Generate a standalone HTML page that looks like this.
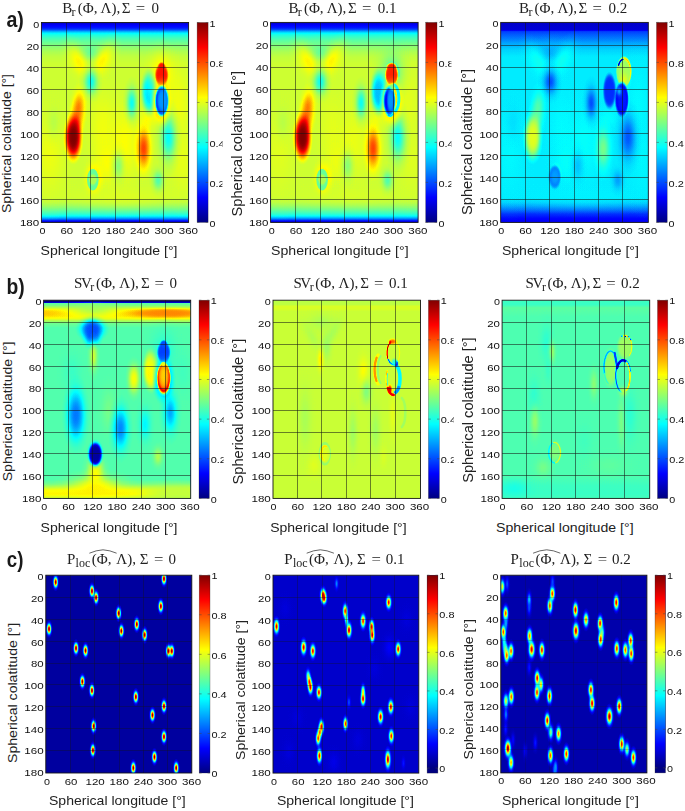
<!DOCTYPE html>
<html><head><meta charset="utf-8"><title>Figure</title>
<style>html,body{margin:0;padding:0;background:#fff}svg{display:block}text{font-family:"Liberation Sans",sans-serif;fill:#1a1a1a}.s{font-family:"Liberation Serif",serif;fill:#222}.k{font-size:9.2px;fill:#111}.l{font-size:13.3px;fill:#222}.g{stroke:#151515;stroke-width:0.55;fill:none}</style></head><body>
<svg width="685" height="811" viewBox="0 0 685 811">
<defs>
<filter id="jet" color-interpolation-filters="sRGB" x="0" y="0" width="1" height="1"><feGaussianBlur stdDeviation="0.8 0.3"/><feComponentTransfer><feFuncR type="table" tableValues="0 0 0 0 0.5 1 1 1 0.5"/><feFuncG type="table" tableValues="0 0 0.5 1 1 1 0.5 0 0"/><feFuncB type="table" tableValues="0.5 1 1 1 0.5 0 0 0 0"/></feComponentTransfer></filter>
<linearGradient id="cb" x1="0" y1="1" x2="0" y2="0"><stop offset="0" stop-color="rgb(0,0,128)"/><stop offset="0.125" stop-color="rgb(0,0,255)"/><stop offset="0.375" stop-color="rgb(0,255,255)"/><stop offset="0.625" stop-color="rgb(255,255,0)"/><stop offset="0.875" stop-color="rgb(255,0,0)"/><stop offset="1" stop-color="rgb(128,0,0)"/></linearGradient>
<filter id="soft" x="-0.1" y="-0.1" width="1.2" height="1.2"><feGaussianBlur stdDeviation="0.35"/></filter>
<linearGradient id="a1bg" x1="0" y1="0" x2="0" y2="1"><stop offset="0" stop-color="#121212"/><stop offset="0.0139" stop-color="#1f1f1f"/><stop offset="0.0278" stop-color="#262626"/><stop offset="0.0361" stop-color="#333333"/><stop offset="0.0444" stop-color="#4a4a4a"/><stop offset="0.0528" stop-color="#5c5c5c"/><stop offset="0.0611" stop-color="#666666"/><stop offset="0.075" stop-color="#6f6f6f"/><stop offset="0.0944" stop-color="#787878"/><stop offset="0.1167" stop-color="#818181"/><stop offset="0.1444" stop-color="#8a8a8a"/><stop offset="0.1722" stop-color="#909090"/><stop offset="0.2056" stop-color="#939393"/><stop offset="0.8722" stop-color="#939393"/><stop offset="0.9" stop-color="#8e8e8e"/><stop offset="0.9167" stop-color="#868686"/><stop offset="0.9333" stop-color="#7c7c7c"/><stop offset="0.95" stop-color="#717171"/><stop offset="0.9639" stop-color="#666666"/><stop offset="0.9739" stop-color="#545454"/><stop offset="0.9822" stop-color="#404040"/><stop offset="0.9889" stop-color="#2b2b2b"/><stop offset="0.9956" stop-color="#1a1a1a"/><stop offset="1" stop-color="#121212"/></linearGradient><radialGradient id="g1"><stop offset="0" stop-color="#9b9b9b" stop-opacity="1"/><stop offset="0.1" stop-color="#9b9b9b" stop-opacity="0.959"/><stop offset="0.2" stop-color="#9b9b9b" stop-opacity="0.845"/><stop offset="0.3" stop-color="#9b9b9b" stop-opacity="0.685"/><stop offset="0.4" stop-color="#9b9b9b" stop-opacity="0.511"/><stop offset="0.5" stop-color="#9b9b9b" stop-opacity="0.35"/><stop offset="0.6" stop-color="#9b9b9b" stop-opacity="0.22"/><stop offset="0.7" stop-color="#9b9b9b" stop-opacity="0.128"/><stop offset="0.8" stop-color="#9b9b9b" stop-opacity="0.068"/><stop offset="0.9" stop-color="#9b9b9b" stop-opacity="0.033"/><stop offset="1" stop-color="#9b9b9b" stop-opacity="0"/></radialGradient><radialGradient id="g2"><stop offset="0" stop-color="#9f9f9f" stop-opacity="1"/><stop offset="0.1" stop-color="#9f9f9f" stop-opacity="0.959"/><stop offset="0.2" stop-color="#9f9f9f" stop-opacity="0.845"/><stop offset="0.3" stop-color="#9f9f9f" stop-opacity="0.685"/><stop offset="0.4" stop-color="#9f9f9f" stop-opacity="0.511"/><stop offset="0.5" stop-color="#9f9f9f" stop-opacity="0.35"/><stop offset="0.6" stop-color="#9f9f9f" stop-opacity="0.22"/><stop offset="0.7" stop-color="#9f9f9f" stop-opacity="0.128"/><stop offset="0.8" stop-color="#9f9f9f" stop-opacity="0.068"/><stop offset="0.9" stop-color="#9f9f9f" stop-opacity="0.033"/><stop offset="1" stop-color="#9f9f9f" stop-opacity="0"/></radialGradient><radialGradient id="g3"><stop offset="0" stop-color="#9e9e9e" stop-opacity="0.8"/><stop offset="0.1" stop-color="#9e9e9e" stop-opacity="0.767"/><stop offset="0.2" stop-color="#9e9e9e" stop-opacity="0.676"/><stop offset="0.3" stop-color="#9e9e9e" stop-opacity="0.548"/><stop offset="0.4" stop-color="#9e9e9e" stop-opacity="0.409"/><stop offset="0.5" stop-color="#9e9e9e" stop-opacity="0.28"/><stop offset="0.6" stop-color="#9e9e9e" stop-opacity="0.176"/><stop offset="0.7" stop-color="#9e9e9e" stop-opacity="0.102"/><stop offset="0.8" stop-color="#9e9e9e" stop-opacity="0.054"/><stop offset="0.9" stop-color="#9e9e9e" stop-opacity="0.027"/><stop offset="1" stop-color="#9e9e9e" stop-opacity="0"/></radialGradient><radialGradient id="g4"><stop offset="0" stop-color="#a1a1a1" stop-opacity="0.8"/><stop offset="0.1" stop-color="#a1a1a1" stop-opacity="0.767"/><stop offset="0.2" stop-color="#a1a1a1" stop-opacity="0.676"/><stop offset="0.3" stop-color="#a1a1a1" stop-opacity="0.548"/><stop offset="0.4" stop-color="#a1a1a1" stop-opacity="0.409"/><stop offset="0.5" stop-color="#a1a1a1" stop-opacity="0.28"/><stop offset="0.6" stop-color="#a1a1a1" stop-opacity="0.176"/><stop offset="0.7" stop-color="#a1a1a1" stop-opacity="0.102"/><stop offset="0.8" stop-color="#a1a1a1" stop-opacity="0.054"/><stop offset="0.9" stop-color="#a1a1a1" stop-opacity="0.027"/><stop offset="1" stop-color="#a1a1a1" stop-opacity="0"/></radialGradient><radialGradient id="g5"><stop offset="0" stop-color="#9c9c9c" stop-opacity="0.7"/><stop offset="0.1" stop-color="#9c9c9c" stop-opacity="0.671"/><stop offset="0.2" stop-color="#9c9c9c" stop-opacity="0.592"/><stop offset="0.3" stop-color="#9c9c9c" stop-opacity="0.48"/><stop offset="0.4" stop-color="#9c9c9c" stop-opacity="0.357"/><stop offset="0.5" stop-color="#9c9c9c" stop-opacity="0.245"/><stop offset="0.6" stop-color="#9c9c9c" stop-opacity="0.154"/><stop offset="0.7" stop-color="#9c9c9c" stop-opacity="0.089"/><stop offset="0.8" stop-color="#9c9c9c" stop-opacity="0.048"/><stop offset="0.9" stop-color="#9c9c9c" stop-opacity="0.023"/><stop offset="1" stop-color="#9c9c9c" stop-opacity="0"/></radialGradient><radialGradient id="g6"><stop offset="0" stop-color="#999999" stop-opacity="0.6"/><stop offset="0.1" stop-color="#999999" stop-opacity="0.575"/><stop offset="0.2" stop-color="#999999" stop-opacity="0.507"/><stop offset="0.3" stop-color="#999999" stop-opacity="0.411"/><stop offset="0.4" stop-color="#999999" stop-opacity="0.306"/><stop offset="0.5" stop-color="#999999" stop-opacity="0.21"/><stop offset="0.6" stop-color="#999999" stop-opacity="0.132"/><stop offset="0.7" stop-color="#999999" stop-opacity="0.077"/><stop offset="0.8" stop-color="#999999" stop-opacity="0.041"/><stop offset="0.9" stop-color="#999999" stop-opacity="0.02"/><stop offset="1" stop-color="#999999" stop-opacity="0"/></radialGradient><radialGradient id="g7"><stop offset="0" stop-color="#8e8e8e" stop-opacity="1"/><stop offset="0.1" stop-color="#8e8e8e" stop-opacity="0.959"/><stop offset="0.2" stop-color="#8e8e8e" stop-opacity="0.845"/><stop offset="0.3" stop-color="#8e8e8e" stop-opacity="0.685"/><stop offset="0.4" stop-color="#8e8e8e" stop-opacity="0.511"/><stop offset="0.5" stop-color="#8e8e8e" stop-opacity="0.35"/><stop offset="0.6" stop-color="#8e8e8e" stop-opacity="0.22"/><stop offset="0.7" stop-color="#8e8e8e" stop-opacity="0.128"/><stop offset="0.8" stop-color="#8e8e8e" stop-opacity="0.068"/><stop offset="0.9" stop-color="#8e8e8e" stop-opacity="0.033"/><stop offset="1" stop-color="#8e8e8e" stop-opacity="0"/></radialGradient><radialGradient id="g8"><stop offset="0" stop-color="#828282" stop-opacity="1"/><stop offset="0.1" stop-color="#828282" stop-opacity="0.959"/><stop offset="0.2" stop-color="#828282" stop-opacity="0.845"/><stop offset="0.3" stop-color="#828282" stop-opacity="0.685"/><stop offset="0.4" stop-color="#828282" stop-opacity="0.511"/><stop offset="0.5" stop-color="#828282" stop-opacity="0.35"/><stop offset="0.6" stop-color="#828282" stop-opacity="0.22"/><stop offset="0.7" stop-color="#828282" stop-opacity="0.128"/><stop offset="0.8" stop-color="#828282" stop-opacity="0.068"/><stop offset="0.9" stop-color="#828282" stop-opacity="0.033"/><stop offset="1" stop-color="#828282" stop-opacity="0"/></radialGradient><radialGradient id="g9"><stop offset="0" stop-color="#787878" stop-opacity="1"/><stop offset="0.1" stop-color="#787878" stop-opacity="0.959"/><stop offset="0.2" stop-color="#787878" stop-opacity="0.845"/><stop offset="0.3" stop-color="#787878" stop-opacity="0.685"/><stop offset="0.4" stop-color="#787878" stop-opacity="0.511"/><stop offset="0.5" stop-color="#787878" stop-opacity="0.35"/><stop offset="0.6" stop-color="#787878" stop-opacity="0.22"/><stop offset="0.7" stop-color="#787878" stop-opacity="0.128"/><stop offset="0.8" stop-color="#787878" stop-opacity="0.068"/><stop offset="0.9" stop-color="#787878" stop-opacity="0.033"/><stop offset="1" stop-color="#787878" stop-opacity="0"/></radialGradient><radialGradient id="g10"><stop offset="0" stop-color="#a2a2a2" stop-opacity="1"/><stop offset="0.1" stop-color="#a2a2a2" stop-opacity="0.959"/><stop offset="0.2" stop-color="#a2a2a2" stop-opacity="0.845"/><stop offset="0.3" stop-color="#a2a2a2" stop-opacity="0.685"/><stop offset="0.4" stop-color="#a2a2a2" stop-opacity="0.511"/><stop offset="0.5" stop-color="#a2a2a2" stop-opacity="0.35"/><stop offset="0.6" stop-color="#a2a2a2" stop-opacity="0.22"/><stop offset="0.7" stop-color="#a2a2a2" stop-opacity="0.128"/><stop offset="0.8" stop-color="#a2a2a2" stop-opacity="0.068"/><stop offset="0.9" stop-color="#a2a2a2" stop-opacity="0.033"/><stop offset="1" stop-color="#a2a2a2" stop-opacity="0"/></radialGradient><radialGradient id="g11"><stop offset="0" stop-color="#626262" stop-opacity="1"/><stop offset="0.1" stop-color="#626262" stop-opacity="0.959"/><stop offset="0.2" stop-color="#626262" stop-opacity="0.845"/><stop offset="0.3" stop-color="#626262" stop-opacity="0.685"/><stop offset="0.4" stop-color="#626262" stop-opacity="0.511"/><stop offset="0.5" stop-color="#626262" stop-opacity="0.35"/><stop offset="0.6" stop-color="#626262" stop-opacity="0.22"/><stop offset="0.7" stop-color="#626262" stop-opacity="0.128"/><stop offset="0.8" stop-color="#626262" stop-opacity="0.068"/><stop offset="0.9" stop-color="#626262" stop-opacity="0.033"/><stop offset="1" stop-color="#626262" stop-opacity="0"/></radialGradient><radialGradient id="g12"><stop offset="0" stop-color="#585858" stop-opacity="1"/><stop offset="0.1" stop-color="#585858" stop-opacity="1"/><stop offset="0.2" stop-color="#585858" stop-opacity="0.997"/><stop offset="0.3" stop-color="#585858" stop-opacity="0.982"/><stop offset="0.4" stop-color="#585858" stop-opacity="0.934"/><stop offset="0.5" stop-color="#585858" stop-opacity="0.831"/><stop offset="0.6" stop-color="#585858" stop-opacity="0.656"/><stop offset="0.7" stop-color="#585858" stop-opacity="0.43"/><stop offset="0.8" stop-color="#585858" stop-opacity="0.215"/><stop offset="0.9" stop-color="#585858" stop-opacity="0.073"/><stop offset="1" stop-color="#585858" stop-opacity="0"/></radialGradient><radialGradient id="g13"><stop offset="0" stop-color="#606060" stop-opacity="1"/><stop offset="0.1" stop-color="#606060" stop-opacity="0.959"/><stop offset="0.2" stop-color="#606060" stop-opacity="0.845"/><stop offset="0.3" stop-color="#606060" stop-opacity="0.685"/><stop offset="0.4" stop-color="#606060" stop-opacity="0.511"/><stop offset="0.5" stop-color="#606060" stop-opacity="0.35"/><stop offset="0.6" stop-color="#606060" stop-opacity="0.22"/><stop offset="0.7" stop-color="#606060" stop-opacity="0.128"/><stop offset="0.8" stop-color="#606060" stop-opacity="0.068"/><stop offset="0.9" stop-color="#606060" stop-opacity="0.033"/><stop offset="1" stop-color="#606060" stop-opacity="0"/></radialGradient><radialGradient id="g14"><stop offset="0" stop-color="#737373" stop-opacity="1"/><stop offset="0.1" stop-color="#737373" stop-opacity="0.959"/><stop offset="0.2" stop-color="#737373" stop-opacity="0.845"/><stop offset="0.3" stop-color="#737373" stop-opacity="0.685"/><stop offset="0.4" stop-color="#737373" stop-opacity="0.511"/><stop offset="0.5" stop-color="#737373" stop-opacity="0.35"/><stop offset="0.6" stop-color="#737373" stop-opacity="0.22"/><stop offset="0.7" stop-color="#737373" stop-opacity="0.128"/><stop offset="0.8" stop-color="#737373" stop-opacity="0.068"/><stop offset="0.9" stop-color="#737373" stop-opacity="0.033"/><stop offset="1" stop-color="#737373" stop-opacity="0"/></radialGradient><radialGradient id="g15"><stop offset="0" stop-color="#bdbdbd" stop-opacity="1"/><stop offset="0.1" stop-color="#bdbdbd" stop-opacity="0.959"/><stop offset="0.2" stop-color="#bdbdbd" stop-opacity="0.845"/><stop offset="0.3" stop-color="#bdbdbd" stop-opacity="0.685"/><stop offset="0.4" stop-color="#bdbdbd" stop-opacity="0.511"/><stop offset="0.5" stop-color="#bdbdbd" stop-opacity="0.35"/><stop offset="0.6" stop-color="#bdbdbd" stop-opacity="0.22"/><stop offset="0.7" stop-color="#bdbdbd" stop-opacity="0.128"/><stop offset="0.8" stop-color="#bdbdbd" stop-opacity="0.068"/><stop offset="0.9" stop-color="#bdbdbd" stop-opacity="0.033"/><stop offset="1" stop-color="#bdbdbd" stop-opacity="0"/></radialGradient><radialGradient id="g16"><stop offset="0" stop-color="#c9c9c9" stop-opacity="1"/><stop offset="0.1" stop-color="#c9c9c9" stop-opacity="0.959"/><stop offset="0.2" stop-color="#c9c9c9" stop-opacity="0.845"/><stop offset="0.3" stop-color="#c9c9c9" stop-opacity="0.685"/><stop offset="0.4" stop-color="#c9c9c9" stop-opacity="0.511"/><stop offset="0.5" stop-color="#c9c9c9" stop-opacity="0.35"/><stop offset="0.6" stop-color="#c9c9c9" stop-opacity="0.22"/><stop offset="0.7" stop-color="#c9c9c9" stop-opacity="0.128"/><stop offset="0.8" stop-color="#c9c9c9" stop-opacity="0.068"/><stop offset="0.9" stop-color="#c9c9c9" stop-opacity="0.033"/><stop offset="1" stop-color="#c9c9c9" stop-opacity="0"/></radialGradient><radialGradient id="g17"><stop offset="0" stop-color="#ffffff" stop-opacity="1"/><stop offset="0.1" stop-color="#ffffff" stop-opacity="1"/><stop offset="0.2" stop-color="#ffffff" stop-opacity="0.993"/><stop offset="0.3" stop-color="#ffffff" stop-opacity="0.967"/><stop offset="0.4" stop-color="#ffffff" stop-opacity="0.898"/><stop offset="0.5" stop-color="#ffffff" stop-opacity="0.769"/><stop offset="0.6" stop-color="#ffffff" stop-opacity="0.58"/><stop offset="0.7" stop-color="#ffffff" stop-opacity="0.365"/><stop offset="0.8" stop-color="#ffffff" stop-opacity="0.179"/><stop offset="0.9" stop-color="#ffffff" stop-opacity="0.064"/><stop offset="1" stop-color="#ffffff" stop-opacity="0"/></radialGradient><radialGradient id="g18"><stop offset="0" stop-color="#cfcfcf" stop-opacity="1"/><stop offset="0.1" stop-color="#cfcfcf" stop-opacity="0.974"/><stop offset="0.2" stop-color="#cfcfcf" stop-opacity="0.885"/><stop offset="0.3" stop-color="#cfcfcf" stop-opacity="0.743"/><stop offset="0.4" stop-color="#cfcfcf" stop-opacity="0.572"/><stop offset="0.5" stop-color="#cfcfcf" stop-opacity="0.401"/><stop offset="0.6" stop-color="#cfcfcf" stop-opacity="0.255"/><stop offset="0.7" stop-color="#cfcfcf" stop-opacity="0.147"/><stop offset="0.8" stop-color="#cfcfcf" stop-opacity="0.076"/><stop offset="0.9" stop-color="#cfcfcf" stop-opacity="0.036"/><stop offset="1" stop-color="#cfcfcf" stop-opacity="0"/></radialGradient><radialGradient id="g19"><stop offset="0" stop-color="#a8a8a8" stop-opacity="0.9"/><stop offset="0.1" stop-color="#a8a8a8" stop-opacity="0.863"/><stop offset="0.2" stop-color="#a8a8a8" stop-opacity="0.761"/><stop offset="0.3" stop-color="#a8a8a8" stop-opacity="0.617"/><stop offset="0.4" stop-color="#a8a8a8" stop-opacity="0.46"/><stop offset="0.5" stop-color="#a8a8a8" stop-opacity="0.315"/><stop offset="0.6" stop-color="#a8a8a8" stop-opacity="0.198"/><stop offset="0.7" stop-color="#a8a8a8" stop-opacity="0.115"/><stop offset="0.8" stop-color="#a8a8a8" stop-opacity="0.061"/><stop offset="0.9" stop-color="#a8a8a8" stop-opacity="0.03"/><stop offset="1" stop-color="#a8a8a8" stop-opacity="0"/></radialGradient><radialGradient id="g20"><stop offset="0" stop-color="#dbdbdb" stop-opacity="1"/><stop offset="0.1" stop-color="#dbdbdb" stop-opacity="1"/><stop offset="0.2" stop-color="#dbdbdb" stop-opacity="1"/><stop offset="0.3" stop-color="#dbdbdb" stop-opacity="1"/><stop offset="0.4" stop-color="#dbdbdb" stop-opacity="1"/><stop offset="0.5" stop-color="#dbdbdb" stop-opacity="0.996"/><stop offset="0.6" stop-color="#dbdbdb" stop-opacity="0.975"/><stop offset="0.7" stop-color="#dbdbdb" stop-opacity="0.888"/><stop offset="0.8" stop-color="#dbdbdb" stop-opacity="0.637"/><stop offset="0.9" stop-color="#dbdbdb" stop-opacity="0.231"/><stop offset="1" stop-color="#dbdbdb" stop-opacity="0"/></radialGradient><radialGradient id="g21"><stop offset="0" stop-color="#dbdbdb" stop-opacity="1"/><stop offset="0.1" stop-color="#dbdbdb" stop-opacity="1"/><stop offset="0.2" stop-color="#dbdbdb" stop-opacity="1"/><stop offset="0.3" stop-color="#dbdbdb" stop-opacity="0.997"/><stop offset="0.4" stop-color="#dbdbdb" stop-opacity="0.983"/><stop offset="0.5" stop-color="#dbdbdb" stop-opacity="0.936"/><stop offset="0.6" stop-color="#dbdbdb" stop-opacity="0.822"/><stop offset="0.7" stop-color="#dbdbdb" stop-opacity="0.61"/><stop offset="0.8" stop-color="#dbdbdb" stop-opacity="0.333"/><stop offset="0.9" stop-color="#dbdbdb" stop-opacity="0.107"/><stop offset="1" stop-color="#dbdbdb" stop-opacity="0"/></radialGradient><radialGradient id="g22"><stop offset="0" stop-color="#ababab" stop-opacity="0.9"/><stop offset="0.1" stop-color="#ababab" stop-opacity="0.9"/><stop offset="0.2" stop-color="#ababab" stop-opacity="0.899"/><stop offset="0.3" stop-color="#ababab" stop-opacity="0.891"/><stop offset="0.4" stop-color="#ababab" stop-opacity="0.862"/><stop offset="0.5" stop-color="#ababab" stop-opacity="0.789"/><stop offset="0.6" stop-color="#ababab" stop-opacity="0.649"/><stop offset="0.7" stop-color="#ababab" stop-opacity="0.444"/><stop offset="0.8" stop-color="#ababab" stop-opacity="0.227"/><stop offset="0.9" stop-color="#ababab" stop-opacity="0.075"/><stop offset="1" stop-color="#ababab" stop-opacity="0"/></radialGradient><radialGradient id="g23"><stop offset="0" stop-color="#1f1f1f" stop-opacity="1"/><stop offset="0.1" stop-color="#1f1f1f" stop-opacity="1"/><stop offset="0.2" stop-color="#1f1f1f" stop-opacity="1"/><stop offset="0.3" stop-color="#1f1f1f" stop-opacity="1"/><stop offset="0.4" stop-color="#1f1f1f" stop-opacity="1"/><stop offset="0.5" stop-color="#1f1f1f" stop-opacity="0.999"/><stop offset="0.6" stop-color="#1f1f1f" stop-opacity="0.991"/><stop offset="0.7" stop-color="#1f1f1f" stop-opacity="0.944"/><stop offset="0.8" stop-color="#1f1f1f" stop-opacity="0.749"/><stop offset="0.9" stop-color="#1f1f1f" stop-opacity="0.305"/><stop offset="1" stop-color="#1f1f1f" stop-opacity="0"/></radialGradient><radialGradient id="g24"><stop offset="0" stop-color="#454545" stop-opacity="1"/><stop offset="0.1" stop-color="#454545" stop-opacity="1"/><stop offset="0.2" stop-color="#454545" stop-opacity="1"/><stop offset="0.3" stop-color="#454545" stop-opacity="0.997"/><stop offset="0.4" stop-color="#454545" stop-opacity="0.983"/><stop offset="0.5" stop-color="#454545" stop-opacity="0.936"/><stop offset="0.6" stop-color="#454545" stop-opacity="0.822"/><stop offset="0.7" stop-color="#454545" stop-opacity="0.61"/><stop offset="0.8" stop-color="#454545" stop-opacity="0.333"/><stop offset="0.9" stop-color="#454545" stop-opacity="0.107"/><stop offset="1" stop-color="#454545" stop-opacity="0"/></radialGradient><radialGradient id="g25"><stop offset="0" stop-color="#a6a6a6" stop-opacity="0.9"/><stop offset="0.1" stop-color="#a6a6a6" stop-opacity="0.899"/><stop offset="0.2" stop-color="#a6a6a6" stop-opacity="0.887"/><stop offset="0.3" stop-color="#a6a6a6" stop-opacity="0.846"/><stop offset="0.4" stop-color="#a6a6a6" stop-opacity="0.759"/><stop offset="0.5" stop-color="#a6a6a6" stop-opacity="0.621"/><stop offset="0.6" stop-color="#a6a6a6" stop-opacity="0.446"/><stop offset="0.7" stop-color="#a6a6a6" stop-opacity="0.27"/><stop offset="0.8" stop-color="#a6a6a6" stop-opacity="0.132"/><stop offset="0.9" stop-color="#a6a6a6" stop-opacity="0.049"/><stop offset="1" stop-color="#a6a6a6" stop-opacity="0"/></radialGradient>
<linearGradient id="a2bg" x1="0" y1="0" x2="0" y2="1"><stop offset="0" stop-color="#121212"/><stop offset="0.0139" stop-color="#1f1f1f"/><stop offset="0.0278" stop-color="#262626"/><stop offset="0.0361" stop-color="#333333"/><stop offset="0.0444" stop-color="#4a4a4a"/><stop offset="0.0528" stop-color="#5c5c5c"/><stop offset="0.0611" stop-color="#666666"/><stop offset="0.075" stop-color="#6f6f6f"/><stop offset="0.0944" stop-color="#787878"/><stop offset="0.1167" stop-color="#818181"/><stop offset="0.1444" stop-color="#8a8a8a"/><stop offset="0.1722" stop-color="#909090"/><stop offset="0.2056" stop-color="#939393"/><stop offset="0.8722" stop-color="#939393"/><stop offset="0.9" stop-color="#8e8e8e"/><stop offset="0.9167" stop-color="#868686"/><stop offset="0.9333" stop-color="#7c7c7c"/><stop offset="0.95" stop-color="#717171"/><stop offset="0.9639" stop-color="#666666"/><stop offset="0.9739" stop-color="#545454"/><stop offset="0.9822" stop-color="#404040"/><stop offset="0.9889" stop-color="#2b2b2b"/><stop offset="0.9956" stop-color="#1a1a1a"/><stop offset="1" stop-color="#121212"/></linearGradient><radialGradient id="g26"><stop offset="0" stop-color="#9b9b9b" stop-opacity="0.6"/><stop offset="0.1" stop-color="#9b9b9b" stop-opacity="0.575"/><stop offset="0.2" stop-color="#9b9b9b" stop-opacity="0.507"/><stop offset="0.3" stop-color="#9b9b9b" stop-opacity="0.411"/><stop offset="0.4" stop-color="#9b9b9b" stop-opacity="0.306"/><stop offset="0.5" stop-color="#9b9b9b" stop-opacity="0.21"/><stop offset="0.6" stop-color="#9b9b9b" stop-opacity="0.132"/><stop offset="0.7" stop-color="#9b9b9b" stop-opacity="0.077"/><stop offset="0.8" stop-color="#9b9b9b" stop-opacity="0.041"/><stop offset="0.9" stop-color="#9b9b9b" stop-opacity="0.02"/><stop offset="1" stop-color="#9b9b9b" stop-opacity="0"/></radialGradient><radialGradient id="g27"><stop offset="0" stop-color="#9f9f9f" stop-opacity="0.6"/><stop offset="0.1" stop-color="#9f9f9f" stop-opacity="0.575"/><stop offset="0.2" stop-color="#9f9f9f" stop-opacity="0.507"/><stop offset="0.3" stop-color="#9f9f9f" stop-opacity="0.411"/><stop offset="0.4" stop-color="#9f9f9f" stop-opacity="0.306"/><stop offset="0.5" stop-color="#9f9f9f" stop-opacity="0.21"/><stop offset="0.6" stop-color="#9f9f9f" stop-opacity="0.132"/><stop offset="0.7" stop-color="#9f9f9f" stop-opacity="0.077"/><stop offset="0.8" stop-color="#9f9f9f" stop-opacity="0.041"/><stop offset="0.9" stop-color="#9f9f9f" stop-opacity="0.02"/><stop offset="1" stop-color="#9f9f9f" stop-opacity="0"/></radialGradient><radialGradient id="g28"><stop offset="0" stop-color="#9e9e9e" stop-opacity="0.48"/><stop offset="0.1" stop-color="#9e9e9e" stop-opacity="0.46"/><stop offset="0.2" stop-color="#9e9e9e" stop-opacity="0.406"/><stop offset="0.3" stop-color="#9e9e9e" stop-opacity="0.329"/><stop offset="0.4" stop-color="#9e9e9e" stop-opacity="0.245"/><stop offset="0.5" stop-color="#9e9e9e" stop-opacity="0.168"/><stop offset="0.6" stop-color="#9e9e9e" stop-opacity="0.106"/><stop offset="0.7" stop-color="#9e9e9e" stop-opacity="0.061"/><stop offset="0.8" stop-color="#9e9e9e" stop-opacity="0.033"/><stop offset="0.9" stop-color="#9e9e9e" stop-opacity="0.016"/><stop offset="1" stop-color="#9e9e9e" stop-opacity="0"/></radialGradient><radialGradient id="g29"><stop offset="0" stop-color="#a1a1a1" stop-opacity="0.48"/><stop offset="0.1" stop-color="#a1a1a1" stop-opacity="0.46"/><stop offset="0.2" stop-color="#a1a1a1" stop-opacity="0.406"/><stop offset="0.3" stop-color="#a1a1a1" stop-opacity="0.329"/><stop offset="0.4" stop-color="#a1a1a1" stop-opacity="0.245"/><stop offset="0.5" stop-color="#a1a1a1" stop-opacity="0.168"/><stop offset="0.6" stop-color="#a1a1a1" stop-opacity="0.106"/><stop offset="0.7" stop-color="#a1a1a1" stop-opacity="0.061"/><stop offset="0.8" stop-color="#a1a1a1" stop-opacity="0.033"/><stop offset="0.9" stop-color="#a1a1a1" stop-opacity="0.016"/><stop offset="1" stop-color="#a1a1a1" stop-opacity="0"/></radialGradient><radialGradient id="g30"><stop offset="0" stop-color="#9c9c9c" stop-opacity="0.42"/><stop offset="0.1" stop-color="#9c9c9c" stop-opacity="0.403"/><stop offset="0.2" stop-color="#9c9c9c" stop-opacity="0.355"/><stop offset="0.3" stop-color="#9c9c9c" stop-opacity="0.288"/><stop offset="0.4" stop-color="#9c9c9c" stop-opacity="0.214"/><stop offset="0.5" stop-color="#9c9c9c" stop-opacity="0.147"/><stop offset="0.6" stop-color="#9c9c9c" stop-opacity="0.093"/><stop offset="0.7" stop-color="#9c9c9c" stop-opacity="0.054"/><stop offset="0.8" stop-color="#9c9c9c" stop-opacity="0.029"/><stop offset="0.9" stop-color="#9c9c9c" stop-opacity="0.014"/><stop offset="1" stop-color="#9c9c9c" stop-opacity="0"/></radialGradient><radialGradient id="g31"><stop offset="0" stop-color="#999999" stop-opacity="0.36"/><stop offset="0.1" stop-color="#999999" stop-opacity="0.345"/><stop offset="0.2" stop-color="#999999" stop-opacity="0.304"/><stop offset="0.3" stop-color="#999999" stop-opacity="0.247"/><stop offset="0.4" stop-color="#999999" stop-opacity="0.184"/><stop offset="0.5" stop-color="#999999" stop-opacity="0.126"/><stop offset="0.6" stop-color="#999999" stop-opacity="0.079"/><stop offset="0.7" stop-color="#999999" stop-opacity="0.046"/><stop offset="0.8" stop-color="#999999" stop-opacity="0.024"/><stop offset="0.9" stop-color="#999999" stop-opacity="0.012"/><stop offset="1" stop-color="#999999" stop-opacity="0"/></radialGradient><radialGradient id="g32"><stop offset="0" stop-color="#4f4f4f" stop-opacity="1"/><stop offset="0.1" stop-color="#4f4f4f" stop-opacity="1"/><stop offset="0.2" stop-color="#4f4f4f" stop-opacity="0.997"/><stop offset="0.3" stop-color="#4f4f4f" stop-opacity="0.982"/><stop offset="0.4" stop-color="#4f4f4f" stop-opacity="0.934"/><stop offset="0.5" stop-color="#4f4f4f" stop-opacity="0.831"/><stop offset="0.6" stop-color="#4f4f4f" stop-opacity="0.656"/><stop offset="0.7" stop-color="#4f4f4f" stop-opacity="0.43"/><stop offset="0.8" stop-color="#4f4f4f" stop-opacity="0.215"/><stop offset="0.9" stop-color="#4f4f4f" stop-opacity="0.073"/><stop offset="1" stop-color="#4f4f4f" stop-opacity="0"/></radialGradient><radialGradient id="g33"><stop offset="0" stop-color="#6e6e6e" stop-opacity="0.8"/><stop offset="0.1" stop-color="#6e6e6e" stop-opacity="0.767"/><stop offset="0.2" stop-color="#6e6e6e" stop-opacity="0.676"/><stop offset="0.3" stop-color="#6e6e6e" stop-opacity="0.548"/><stop offset="0.4" stop-color="#6e6e6e" stop-opacity="0.409"/><stop offset="0.5" stop-color="#6e6e6e" stop-opacity="0.28"/><stop offset="0.6" stop-color="#6e6e6e" stop-opacity="0.176"/><stop offset="0.7" stop-color="#6e6e6e" stop-opacity="0.102"/><stop offset="0.8" stop-color="#6e6e6e" stop-opacity="0.054"/><stop offset="0.9" stop-color="#6e6e6e" stop-opacity="0.027"/><stop offset="1" stop-color="#6e6e6e" stop-opacity="0"/></radialGradient><radialGradient id="g34"><stop offset="0" stop-color="#d7d7d7" stop-opacity="1"/><stop offset="0.1" stop-color="#d7d7d7" stop-opacity="1"/><stop offset="0.2" stop-color="#d7d7d7" stop-opacity="1"/><stop offset="0.3" stop-color="#d7d7d7" stop-opacity="1"/><stop offset="0.4" stop-color="#d7d7d7" stop-opacity="1"/><stop offset="0.5" stop-color="#d7d7d7" stop-opacity="0.999"/><stop offset="0.6" stop-color="#d7d7d7" stop-opacity="0.991"/><stop offset="0.7" stop-color="#d7d7d7" stop-opacity="0.944"/><stop offset="0.8" stop-color="#d7d7d7" stop-opacity="0.749"/><stop offset="0.9" stop-color="#d7d7d7" stop-opacity="0.305"/><stop offset="1" stop-color="#d7d7d7" stop-opacity="0"/></radialGradient><radialGradient id="g35"><stop offset="0" stop-color="#d7d7d7" stop-opacity="1"/><stop offset="0.1" stop-color="#d7d7d7" stop-opacity="1"/><stop offset="0.2" stop-color="#d7d7d7" stop-opacity="1"/><stop offset="0.3" stop-color="#d7d7d7" stop-opacity="0.997"/><stop offset="0.4" stop-color="#d7d7d7" stop-opacity="0.983"/><stop offset="0.5" stop-color="#d7d7d7" stop-opacity="0.936"/><stop offset="0.6" stop-color="#d7d7d7" stop-opacity="0.822"/><stop offset="0.7" stop-color="#d7d7d7" stop-opacity="0.61"/><stop offset="0.8" stop-color="#d7d7d7" stop-opacity="0.333"/><stop offset="0.9" stop-color="#d7d7d7" stop-opacity="0.107"/><stop offset="1" stop-color="#d7d7d7" stop-opacity="0"/></radialGradient><radialGradient id="g36"><stop offset="0" stop-color="#1f1f1f" stop-opacity="1"/><stop offset="0.1" stop-color="#1f1f1f" stop-opacity="1"/><stop offset="0.2" stop-color="#1f1f1f" stop-opacity="1"/><stop offset="0.3" stop-color="#1f1f1f" stop-opacity="1"/><stop offset="0.4" stop-color="#1f1f1f" stop-opacity="1"/><stop offset="0.5" stop-color="#1f1f1f" stop-opacity="0.996"/><stop offset="0.6" stop-color="#1f1f1f" stop-opacity="0.975"/><stop offset="0.7" stop-color="#1f1f1f" stop-opacity="0.888"/><stop offset="0.8" stop-color="#1f1f1f" stop-opacity="0.637"/><stop offset="0.9" stop-color="#1f1f1f" stop-opacity="0.231"/><stop offset="1" stop-color="#1f1f1f" stop-opacity="0"/></radialGradient><radialGradient id="g37"><stop offset="0" stop-color="#454545" stop-opacity="1"/><stop offset="0.1" stop-color="#454545" stop-opacity="1"/><stop offset="0.2" stop-color="#454545" stop-opacity="0.999"/><stop offset="0.3" stop-color="#454545" stop-opacity="0.99"/><stop offset="0.4" stop-color="#454545" stop-opacity="0.958"/><stop offset="0.5" stop-color="#454545" stop-opacity="0.877"/><stop offset="0.6" stop-color="#454545" stop-opacity="0.721"/><stop offset="0.7" stop-color="#454545" stop-opacity="0.494"/><stop offset="0.8" stop-color="#454545" stop-opacity="0.253"/><stop offset="0.9" stop-color="#454545" stop-opacity="0.084"/><stop offset="1" stop-color="#454545" stop-opacity="0"/></radialGradient><radialGradient id="g38"><stop offset="0" stop-color="#808080" stop-opacity="1"/><stop offset="0.1" stop-color="#808080" stop-opacity="0.996"/><stop offset="0.2" stop-color="#808080" stop-opacity="0.967"/><stop offset="0.3" stop-color="#808080" stop-opacity="0.893"/><stop offset="0.4" stop-color="#808080" stop-opacity="0.764"/><stop offset="0.5" stop-color="#808080" stop-opacity="0.592"/><stop offset="0.6" stop-color="#808080" stop-opacity="0.404"/><stop offset="0.7" stop-color="#808080" stop-opacity="0.237"/><stop offset="0.8" stop-color="#808080" stop-opacity="0.116"/><stop offset="0.9" stop-color="#808080" stop-opacity="0.047"/><stop offset="1" stop-color="#808080" stop-opacity="0"/></radialGradient>
<linearGradient id="a3bg" x1="0" y1="0" x2="0" y2="1"><stop offset="0" stop-color="#121212"/><stop offset="0.0378" stop-color="#161616"/><stop offset="0.0461" stop-color="#303030"/><stop offset="0.0667" stop-color="#393939"/><stop offset="0.0889" stop-color="#424242"/><stop offset="0.1111" stop-color="#4c4c4c"/><stop offset="0.1389" stop-color="#555555"/><stop offset="0.1722" stop-color="#5b5b5b"/><stop offset="0.8778" stop-color="#5b5b5b"/><stop offset="0.9" stop-color="#545454"/><stop offset="0.9167" stop-color="#4a4a4a"/><stop offset="0.9389" stop-color="#3b3b3b"/><stop offset="0.9583" stop-color="#2b2b2b"/><stop offset="0.9806" stop-color="#212121"/><stop offset="1" stop-color="#1c1c1c"/></linearGradient><radialGradient id="g39"><stop offset="0" stop-color="#5f5f5f" stop-opacity="0.8"/><stop offset="0.1" stop-color="#5f5f5f" stop-opacity="0.767"/><stop offset="0.2" stop-color="#5f5f5f" stop-opacity="0.676"/><stop offset="0.3" stop-color="#5f5f5f" stop-opacity="0.548"/><stop offset="0.4" stop-color="#5f5f5f" stop-opacity="0.409"/><stop offset="0.5" stop-color="#5f5f5f" stop-opacity="0.28"/><stop offset="0.6" stop-color="#5f5f5f" stop-opacity="0.176"/><stop offset="0.7" stop-color="#5f5f5f" stop-opacity="0.102"/><stop offset="0.8" stop-color="#5f5f5f" stop-opacity="0.054"/><stop offset="0.9" stop-color="#5f5f5f" stop-opacity="0.027"/><stop offset="1" stop-color="#5f5f5f" stop-opacity="0"/></radialGradient><radialGradient id="g40"><stop offset="0" stop-color="#626262" stop-opacity="0.8"/><stop offset="0.1" stop-color="#626262" stop-opacity="0.767"/><stop offset="0.2" stop-color="#626262" stop-opacity="0.676"/><stop offset="0.3" stop-color="#626262" stop-opacity="0.548"/><stop offset="0.4" stop-color="#626262" stop-opacity="0.409"/><stop offset="0.5" stop-color="#626262" stop-opacity="0.28"/><stop offset="0.6" stop-color="#626262" stop-opacity="0.176"/><stop offset="0.7" stop-color="#626262" stop-opacity="0.102"/><stop offset="0.8" stop-color="#626262" stop-opacity="0.054"/><stop offset="0.9" stop-color="#626262" stop-opacity="0.027"/><stop offset="1" stop-color="#626262" stop-opacity="0"/></radialGradient><radialGradient id="g41"><stop offset="0" stop-color="#616161" stop-opacity="0.64"/><stop offset="0.1" stop-color="#616161" stop-opacity="0.614"/><stop offset="0.2" stop-color="#616161" stop-opacity="0.541"/><stop offset="0.3" stop-color="#616161" stop-opacity="0.439"/><stop offset="0.4" stop-color="#616161" stop-opacity="0.327"/><stop offset="0.5" stop-color="#616161" stop-opacity="0.224"/><stop offset="0.6" stop-color="#616161" stop-opacity="0.141"/><stop offset="0.7" stop-color="#616161" stop-opacity="0.082"/><stop offset="0.8" stop-color="#616161" stop-opacity="0.044"/><stop offset="0.9" stop-color="#616161" stop-opacity="0.021"/><stop offset="1" stop-color="#616161" stop-opacity="0"/></radialGradient><radialGradient id="g42"><stop offset="0" stop-color="#636363" stop-opacity="0.64"/><stop offset="0.1" stop-color="#636363" stop-opacity="0.614"/><stop offset="0.2" stop-color="#636363" stop-opacity="0.541"/><stop offset="0.3" stop-color="#636363" stop-opacity="0.439"/><stop offset="0.4" stop-color="#636363" stop-opacity="0.327"/><stop offset="0.5" stop-color="#636363" stop-opacity="0.224"/><stop offset="0.6" stop-color="#636363" stop-opacity="0.141"/><stop offset="0.7" stop-color="#636363" stop-opacity="0.082"/><stop offset="0.8" stop-color="#636363" stop-opacity="0.044"/><stop offset="0.9" stop-color="#636363" stop-opacity="0.021"/><stop offset="1" stop-color="#636363" stop-opacity="0"/></radialGradient><radialGradient id="g43"><stop offset="0" stop-color="#606060" stop-opacity="0.56"/><stop offset="0.1" stop-color="#606060" stop-opacity="0.537"/><stop offset="0.2" stop-color="#606060" stop-opacity="0.473"/><stop offset="0.3" stop-color="#606060" stop-opacity="0.384"/><stop offset="0.4" stop-color="#606060" stop-opacity="0.286"/><stop offset="0.5" stop-color="#606060" stop-opacity="0.196"/><stop offset="0.6" stop-color="#606060" stop-opacity="0.123"/><stop offset="0.7" stop-color="#606060" stop-opacity="0.072"/><stop offset="0.8" stop-color="#606060" stop-opacity="0.038"/><stop offset="0.9" stop-color="#606060" stop-opacity="0.019"/><stop offset="1" stop-color="#606060" stop-opacity="0"/></radialGradient><radialGradient id="g44"><stop offset="0" stop-color="#5e5e5e" stop-opacity="0.48"/><stop offset="0.1" stop-color="#5e5e5e" stop-opacity="0.46"/><stop offset="0.2" stop-color="#5e5e5e" stop-opacity="0.406"/><stop offset="0.3" stop-color="#5e5e5e" stop-opacity="0.329"/><stop offset="0.4" stop-color="#5e5e5e" stop-opacity="0.245"/><stop offset="0.5" stop-color="#5e5e5e" stop-opacity="0.168"/><stop offset="0.6" stop-color="#5e5e5e" stop-opacity="0.106"/><stop offset="0.7" stop-color="#5e5e5e" stop-opacity="0.061"/><stop offset="0.8" stop-color="#5e5e5e" stop-opacity="0.033"/><stop offset="0.9" stop-color="#5e5e5e" stop-opacity="0.016"/><stop offset="1" stop-color="#5e5e5e" stop-opacity="0"/></radialGradient><radialGradient id="g45"><stop offset="0" stop-color="#585858" stop-opacity="1"/><stop offset="0.1" stop-color="#585858" stop-opacity="0.959"/><stop offset="0.2" stop-color="#585858" stop-opacity="0.845"/><stop offset="0.3" stop-color="#585858" stop-opacity="0.685"/><stop offset="0.4" stop-color="#585858" stop-opacity="0.511"/><stop offset="0.5" stop-color="#585858" stop-opacity="0.35"/><stop offset="0.6" stop-color="#585858" stop-opacity="0.22"/><stop offset="0.7" stop-color="#585858" stop-opacity="0.128"/><stop offset="0.8" stop-color="#585858" stop-opacity="0.068"/><stop offset="0.9" stop-color="#585858" stop-opacity="0.033"/><stop offset="1" stop-color="#585858" stop-opacity="0"/></radialGradient><radialGradient id="g46"><stop offset="0" stop-color="#515151" stop-opacity="1"/><stop offset="0.1" stop-color="#515151" stop-opacity="0.959"/><stop offset="0.2" stop-color="#515151" stop-opacity="0.845"/><stop offset="0.3" stop-color="#515151" stop-opacity="0.685"/><stop offset="0.4" stop-color="#515151" stop-opacity="0.511"/><stop offset="0.5" stop-color="#515151" stop-opacity="0.35"/><stop offset="0.6" stop-color="#515151" stop-opacity="0.22"/><stop offset="0.7" stop-color="#515151" stop-opacity="0.128"/><stop offset="0.8" stop-color="#515151" stop-opacity="0.068"/><stop offset="0.9" stop-color="#515151" stop-opacity="0.033"/><stop offset="1" stop-color="#515151" stop-opacity="0"/></radialGradient><radialGradient id="g47"><stop offset="0" stop-color="#4b4b4b" stop-opacity="1"/><stop offset="0.1" stop-color="#4b4b4b" stop-opacity="0.959"/><stop offset="0.2" stop-color="#4b4b4b" stop-opacity="0.845"/><stop offset="0.3" stop-color="#4b4b4b" stop-opacity="0.685"/><stop offset="0.4" stop-color="#4b4b4b" stop-opacity="0.511"/><stop offset="0.5" stop-color="#4b4b4b" stop-opacity="0.35"/><stop offset="0.6" stop-color="#4b4b4b" stop-opacity="0.22"/><stop offset="0.7" stop-color="#4b4b4b" stop-opacity="0.128"/><stop offset="0.8" stop-color="#4b4b4b" stop-opacity="0.068"/><stop offset="0.9" stop-color="#4b4b4b" stop-opacity="0.033"/><stop offset="1" stop-color="#4b4b4b" stop-opacity="0"/></radialGradient><radialGradient id="g48"><stop offset="0" stop-color="#636363" stop-opacity="1"/><stop offset="0.1" stop-color="#636363" stop-opacity="0.959"/><stop offset="0.2" stop-color="#636363" stop-opacity="0.845"/><stop offset="0.3" stop-color="#636363" stop-opacity="0.685"/><stop offset="0.4" stop-color="#636363" stop-opacity="0.511"/><stop offset="0.5" stop-color="#636363" stop-opacity="0.35"/><stop offset="0.6" stop-color="#636363" stop-opacity="0.22"/><stop offset="0.7" stop-color="#636363" stop-opacity="0.128"/><stop offset="0.8" stop-color="#636363" stop-opacity="0.068"/><stop offset="0.9" stop-color="#636363" stop-opacity="0.033"/><stop offset="1" stop-color="#636363" stop-opacity="0"/></radialGradient><radialGradient id="g49"><stop offset="0" stop-color="#333333" stop-opacity="1"/><stop offset="0.1" stop-color="#333333" stop-opacity="0.959"/><stop offset="0.2" stop-color="#333333" stop-opacity="0.845"/><stop offset="0.3" stop-color="#333333" stop-opacity="0.685"/><stop offset="0.4" stop-color="#333333" stop-opacity="0.511"/><stop offset="0.5" stop-color="#333333" stop-opacity="0.35"/><stop offset="0.6" stop-color="#333333" stop-opacity="0.22"/><stop offset="0.7" stop-color="#333333" stop-opacity="0.128"/><stop offset="0.8" stop-color="#333333" stop-opacity="0.068"/><stop offset="0.9" stop-color="#333333" stop-opacity="0.033"/><stop offset="1" stop-color="#333333" stop-opacity="0"/></radialGradient><radialGradient id="g50"><stop offset="0" stop-color="#353535" stop-opacity="1"/><stop offset="0.1" stop-color="#353535" stop-opacity="0.959"/><stop offset="0.2" stop-color="#353535" stop-opacity="0.845"/><stop offset="0.3" stop-color="#353535" stop-opacity="0.685"/><stop offset="0.4" stop-color="#353535" stop-opacity="0.511"/><stop offset="0.5" stop-color="#353535" stop-opacity="0.35"/><stop offset="0.6" stop-color="#353535" stop-opacity="0.22"/><stop offset="0.7" stop-color="#353535" stop-opacity="0.128"/><stop offset="0.8" stop-color="#353535" stop-opacity="0.068"/><stop offset="0.9" stop-color="#353535" stop-opacity="0.033"/><stop offset="1" stop-color="#353535" stop-opacity="0"/></radialGradient><radialGradient id="g51"><stop offset="0" stop-color="#484848" stop-opacity="1"/><stop offset="0.1" stop-color="#484848" stop-opacity="0.959"/><stop offset="0.2" stop-color="#484848" stop-opacity="0.845"/><stop offset="0.3" stop-color="#484848" stop-opacity="0.685"/><stop offset="0.4" stop-color="#484848" stop-opacity="0.511"/><stop offset="0.5" stop-color="#484848" stop-opacity="0.35"/><stop offset="0.6" stop-color="#484848" stop-opacity="0.22"/><stop offset="0.7" stop-color="#484848" stop-opacity="0.128"/><stop offset="0.8" stop-color="#484848" stop-opacity="0.068"/><stop offset="0.9" stop-color="#484848" stop-opacity="0.033"/><stop offset="1" stop-color="#484848" stop-opacity="0"/></radialGradient><radialGradient id="g52"><stop offset="0" stop-color="#7a7a7a" stop-opacity="1"/><stop offset="0.1" stop-color="#7a7a7a" stop-opacity="0.959"/><stop offset="0.2" stop-color="#7a7a7a" stop-opacity="0.845"/><stop offset="0.3" stop-color="#7a7a7a" stop-opacity="0.685"/><stop offset="0.4" stop-color="#7a7a7a" stop-opacity="0.511"/><stop offset="0.5" stop-color="#7a7a7a" stop-opacity="0.35"/><stop offset="0.6" stop-color="#7a7a7a" stop-opacity="0.22"/><stop offset="0.7" stop-color="#7a7a7a" stop-opacity="0.128"/><stop offset="0.8" stop-color="#7a7a7a" stop-opacity="0.068"/><stop offset="0.9" stop-color="#7a7a7a" stop-opacity="0.033"/><stop offset="1" stop-color="#7a7a7a" stop-opacity="0"/></radialGradient><radialGradient id="g53"><stop offset="0" stop-color="#989898" stop-opacity="1"/><stop offset="0.1" stop-color="#989898" stop-opacity="1"/><stop offset="0.2" stop-color="#989898" stop-opacity="0.993"/><stop offset="0.3" stop-color="#989898" stop-opacity="0.967"/><stop offset="0.4" stop-color="#989898" stop-opacity="0.898"/><stop offset="0.5" stop-color="#989898" stop-opacity="0.769"/><stop offset="0.6" stop-color="#989898" stop-opacity="0.58"/><stop offset="0.7" stop-color="#989898" stop-opacity="0.365"/><stop offset="0.8" stop-color="#989898" stop-opacity="0.179"/><stop offset="0.9" stop-color="#989898" stop-opacity="0.064"/><stop offset="1" stop-color="#989898" stop-opacity="0"/></radialGradient><radialGradient id="g54"><stop offset="0" stop-color="#7d7d7d" stop-opacity="1"/><stop offset="0.1" stop-color="#7d7d7d" stop-opacity="0.974"/><stop offset="0.2" stop-color="#7d7d7d" stop-opacity="0.885"/><stop offset="0.3" stop-color="#7d7d7d" stop-opacity="0.743"/><stop offset="0.4" stop-color="#7d7d7d" stop-opacity="0.572"/><stop offset="0.5" stop-color="#7d7d7d" stop-opacity="0.401"/><stop offset="0.6" stop-color="#7d7d7d" stop-opacity="0.255"/><stop offset="0.7" stop-color="#7d7d7d" stop-opacity="0.147"/><stop offset="0.8" stop-color="#7d7d7d" stop-opacity="0.076"/><stop offset="0.9" stop-color="#7d7d7d" stop-opacity="0.036"/><stop offset="1" stop-color="#7d7d7d" stop-opacity="0"/></radialGradient><radialGradient id="g55"><stop offset="0" stop-color="#e0e0e0" stop-opacity="1"/><stop offset="0.1" stop-color="#e0e0e0" stop-opacity="1"/><stop offset="0.2" stop-color="#e0e0e0" stop-opacity="1"/><stop offset="0.3" stop-color="#e0e0e0" stop-opacity="1"/><stop offset="0.4" stop-color="#e0e0e0" stop-opacity="1"/><stop offset="0.5" stop-color="#e0e0e0" stop-opacity="1"/><stop offset="0.6" stop-color="#e0e0e0" stop-opacity="0.997"/><stop offset="0.7" stop-color="#e0e0e0" stop-opacity="0.972"/><stop offset="0.8" stop-color="#e0e0e0" stop-opacity="0.831"/><stop offset="0.9" stop-color="#e0e0e0" stop-opacity="0.383"/><stop offset="1" stop-color="#e0e0e0" stop-opacity="0"/></radialGradient><radialGradient id="g56"><stop offset="0" stop-color="#737373" stop-opacity="1"/><stop offset="0.1" stop-color="#737373" stop-opacity="1"/><stop offset="0.2" stop-color="#737373" stop-opacity="1"/><stop offset="0.3" stop-color="#737373" stop-opacity="1"/><stop offset="0.4" stop-color="#737373" stop-opacity="1"/><stop offset="0.5" stop-color="#737373" stop-opacity="1"/><stop offset="0.6" stop-color="#737373" stop-opacity="0.997"/><stop offset="0.7" stop-color="#737373" stop-opacity="0.972"/><stop offset="0.8" stop-color="#737373" stop-opacity="0.831"/><stop offset="0.9" stop-color="#737373" stop-opacity="0.383"/><stop offset="1" stop-color="#737373" stop-opacity="0"/></radialGradient><radialGradient id="g57"><stop offset="0" stop-color="#888888" stop-opacity="1"/><stop offset="0.1" stop-color="#888888" stop-opacity="1"/><stop offset="0.2" stop-color="#888888" stop-opacity="1"/><stop offset="0.3" stop-color="#888888" stop-opacity="1"/><stop offset="0.4" stop-color="#888888" stop-opacity="1"/><stop offset="0.5" stop-color="#888888" stop-opacity="0.996"/><stop offset="0.6" stop-color="#888888" stop-opacity="0.975"/><stop offset="0.7" stop-color="#888888" stop-opacity="0.888"/><stop offset="0.8" stop-color="#888888" stop-opacity="0.637"/><stop offset="0.9" stop-color="#888888" stop-opacity="0.231"/><stop offset="1" stop-color="#888888" stop-opacity="0"/></radialGradient><radialGradient id="g58"><stop offset="0" stop-color="#999999" stop-opacity="1"/><stop offset="0.1" stop-color="#999999" stop-opacity="0.959"/><stop offset="0.2" stop-color="#999999" stop-opacity="0.845"/><stop offset="0.3" stop-color="#999999" stop-opacity="0.685"/><stop offset="0.4" stop-color="#999999" stop-opacity="0.511"/><stop offset="0.5" stop-color="#999999" stop-opacity="0.35"/><stop offset="0.6" stop-color="#999999" stop-opacity="0.22"/><stop offset="0.7" stop-color="#999999" stop-opacity="0.128"/><stop offset="0.8" stop-color="#999999" stop-opacity="0.068"/><stop offset="0.9" stop-color="#999999" stop-opacity="0.033"/><stop offset="1" stop-color="#999999" stop-opacity="0"/></radialGradient><radialGradient id="g59"><stop offset="0" stop-color="#2b2b2b" stop-opacity="1"/><stop offset="0.1" stop-color="#2b2b2b" stop-opacity="1"/><stop offset="0.2" stop-color="#2b2b2b" stop-opacity="1"/><stop offset="0.3" stop-color="#2b2b2b" stop-opacity="1"/><stop offset="0.4" stop-color="#2b2b2b" stop-opacity="1"/><stop offset="0.5" stop-color="#2b2b2b" stop-opacity="0.996"/><stop offset="0.6" stop-color="#2b2b2b" stop-opacity="0.975"/><stop offset="0.7" stop-color="#2b2b2b" stop-opacity="0.888"/><stop offset="0.8" stop-color="#2b2b2b" stop-opacity="0.637"/><stop offset="0.9" stop-color="#2b2b2b" stop-opacity="0.231"/><stop offset="1" stop-color="#2b2b2b" stop-opacity="0"/></radialGradient><radialGradient id="g60"><stop offset="0" stop-color="#808080" stop-opacity="1"/><stop offset="0.1" stop-color="#808080" stop-opacity="1"/><stop offset="0.2" stop-color="#808080" stop-opacity="1"/><stop offset="0.3" stop-color="#808080" stop-opacity="1"/><stop offset="0.4" stop-color="#808080" stop-opacity="1"/><stop offset="0.5" stop-color="#808080" stop-opacity="0.999"/><stop offset="0.6" stop-color="#808080" stop-opacity="0.991"/><stop offset="0.7" stop-color="#808080" stop-opacity="0.944"/><stop offset="0.8" stop-color="#808080" stop-opacity="0.749"/><stop offset="0.9" stop-color="#808080" stop-opacity="0.305"/><stop offset="1" stop-color="#808080" stop-opacity="0"/></radialGradient><radialGradient id="g61"><stop offset="0" stop-color="#171717" stop-opacity="1"/><stop offset="0.1" stop-color="#171717" stop-opacity="1"/><stop offset="0.2" stop-color="#171717" stop-opacity="1"/><stop offset="0.3" stop-color="#171717" stop-opacity="1"/><stop offset="0.4" stop-color="#171717" stop-opacity="1"/><stop offset="0.5" stop-color="#171717" stop-opacity="0.999"/><stop offset="0.6" stop-color="#171717" stop-opacity="0.991"/><stop offset="0.7" stop-color="#171717" stop-opacity="0.944"/><stop offset="0.8" stop-color="#171717" stop-opacity="0.749"/><stop offset="0.9" stop-color="#171717" stop-opacity="0.305"/><stop offset="1" stop-color="#171717" stop-opacity="0"/></radialGradient><radialGradient id="g62"><stop offset="0" stop-color="#262626" stop-opacity="1"/><stop offset="0.1" stop-color="#262626" stop-opacity="1"/><stop offset="0.2" stop-color="#262626" stop-opacity="1"/><stop offset="0.3" stop-color="#262626" stop-opacity="0.997"/><stop offset="0.4" stop-color="#262626" stop-opacity="0.983"/><stop offset="0.5" stop-color="#262626" stop-opacity="0.936"/><stop offset="0.6" stop-color="#262626" stop-opacity="0.822"/><stop offset="0.7" stop-color="#262626" stop-opacity="0.61"/><stop offset="0.8" stop-color="#262626" stop-opacity="0.333"/><stop offset="0.9" stop-color="#262626" stop-opacity="0.107"/><stop offset="1" stop-color="#262626" stop-opacity="0"/></radialGradient><radialGradient id="g63"><stop offset="0" stop-color="#4c4c4c" stop-opacity="1"/><stop offset="0.1" stop-color="#4c4c4c" stop-opacity="0.959"/><stop offset="0.2" stop-color="#4c4c4c" stop-opacity="0.845"/><stop offset="0.3" stop-color="#4c4c4c" stop-opacity="0.685"/><stop offset="0.4" stop-color="#4c4c4c" stop-opacity="0.511"/><stop offset="0.5" stop-color="#4c4c4c" stop-opacity="0.35"/><stop offset="0.6" stop-color="#4c4c4c" stop-opacity="0.22"/><stop offset="0.7" stop-color="#4c4c4c" stop-opacity="0.128"/><stop offset="0.8" stop-color="#4c4c4c" stop-opacity="0.068"/><stop offset="0.9" stop-color="#4c4c4c" stop-opacity="0.033"/><stop offset="1" stop-color="#4c4c4c" stop-opacity="0"/></radialGradient><radialGradient id="g64"><stop offset="0" stop-color="#6d6d6d" stop-opacity="1"/><stop offset="0.1" stop-color="#6d6d6d" stop-opacity="1"/><stop offset="0.2" stop-color="#6d6d6d" stop-opacity="1"/><stop offset="0.3" stop-color="#6d6d6d" stop-opacity="1"/><stop offset="0.4" stop-color="#6d6d6d" stop-opacity="0.997"/><stop offset="0.5" stop-color="#6d6d6d" stop-opacity="0.984"/><stop offset="0.6" stop-color="#6d6d6d" stop-opacity="0.932"/><stop offset="0.7" stop-color="#6d6d6d" stop-opacity="0.785"/><stop offset="0.8" stop-color="#6d6d6d" stop-opacity="0.494"/><stop offset="0.9" stop-color="#6d6d6d" stop-opacity="0.164"/><stop offset="1" stop-color="#6d6d6d" stop-opacity="0"/></radialGradient><radialGradient id="g65"><stop offset="0" stop-color="#333333" stop-opacity="1"/><stop offset="0.1" stop-color="#333333" stop-opacity="1"/><stop offset="0.2" stop-color="#333333" stop-opacity="1"/><stop offset="0.3" stop-color="#333333" stop-opacity="1"/><stop offset="0.4" stop-color="#333333" stop-opacity="0.997"/><stop offset="0.5" stop-color="#333333" stop-opacity="0.984"/><stop offset="0.6" stop-color="#333333" stop-opacity="0.932"/><stop offset="0.7" stop-color="#333333" stop-opacity="0.785"/><stop offset="0.8" stop-color="#333333" stop-opacity="0.494"/><stop offset="0.9" stop-color="#333333" stop-opacity="0.164"/><stop offset="1" stop-color="#333333" stop-opacity="0"/></radialGradient><radialGradient id="g66"><stop offset="0" stop-color="#474747" stop-opacity="1"/><stop offset="0.1" stop-color="#474747" stop-opacity="1"/><stop offset="0.2" stop-color="#474747" stop-opacity="0.993"/><stop offset="0.3" stop-color="#474747" stop-opacity="0.967"/><stop offset="0.4" stop-color="#474747" stop-opacity="0.898"/><stop offset="0.5" stop-color="#474747" stop-opacity="0.769"/><stop offset="0.6" stop-color="#474747" stop-opacity="0.58"/><stop offset="0.7" stop-color="#474747" stop-opacity="0.365"/><stop offset="0.8" stop-color="#474747" stop-opacity="0.179"/><stop offset="0.9" stop-color="#474747" stop-opacity="0.064"/><stop offset="1" stop-color="#474747" stop-opacity="0"/></radialGradient>
<linearGradient id="b1bg" x1="0" y1="0" x2="0" y2="1"><stop offset="0" stop-color="#000000"/><stop offset="0.0106" stop-color="#050505"/><stop offset="0.0139" stop-color="#737373"/><stop offset="0.0278" stop-color="#808080"/><stop offset="0.0389" stop-color="#919191"/><stop offset="0.05" stop-color="#a2a2a2"/><stop offset="0.0639" stop-color="#a7a7a7"/><stop offset="0.0806" stop-color="#a6a6a6"/><stop offset="0.0917" stop-color="#9e9e9e"/><stop offset="0.1028" stop-color="#8c8c8c"/><stop offset="0.1167" stop-color="#7c7c7c"/><stop offset="0.1389" stop-color="#747474"/><stop offset="0.9056" stop-color="#747474"/><stop offset="0.9278" stop-color="#7d7d7d"/><stop offset="0.9444" stop-color="#8f8f8f"/><stop offset="0.9583" stop-color="#9e9e9e"/><stop offset="0.9778" stop-color="#a2a2a2"/><stop offset="0.9917" stop-color="#999999"/><stop offset="1" stop-color="#919191"/></linearGradient><radialGradient id="g67"><stop offset="0" stop-color="#bdbdbd" stop-opacity="1"/><stop offset="0.1" stop-color="#bdbdbd" stop-opacity="1"/><stop offset="0.2" stop-color="#bdbdbd" stop-opacity="0.993"/><stop offset="0.3" stop-color="#bdbdbd" stop-opacity="0.967"/><stop offset="0.4" stop-color="#bdbdbd" stop-opacity="0.898"/><stop offset="0.5" stop-color="#bdbdbd" stop-opacity="0.769"/><stop offset="0.6" stop-color="#bdbdbd" stop-opacity="0.58"/><stop offset="0.7" stop-color="#bdbdbd" stop-opacity="0.365"/><stop offset="0.8" stop-color="#bdbdbd" stop-opacity="0.179"/><stop offset="0.9" stop-color="#bdbdbd" stop-opacity="0.064"/><stop offset="1" stop-color="#bdbdbd" stop-opacity="0"/></radialGradient><radialGradient id="g68"><stop offset="0" stop-color="#acacac" stop-opacity="1"/><stop offset="0.1" stop-color="#acacac" stop-opacity="0.996"/><stop offset="0.2" stop-color="#acacac" stop-opacity="0.967"/><stop offset="0.3" stop-color="#acacac" stop-opacity="0.893"/><stop offset="0.4" stop-color="#acacac" stop-opacity="0.764"/><stop offset="0.5" stop-color="#acacac" stop-opacity="0.592"/><stop offset="0.6" stop-color="#acacac" stop-opacity="0.404"/><stop offset="0.7" stop-color="#acacac" stop-opacity="0.237"/><stop offset="0.8" stop-color="#acacac" stop-opacity="0.116"/><stop offset="0.9" stop-color="#acacac" stop-opacity="0.047"/><stop offset="1" stop-color="#acacac" stop-opacity="0"/></radialGradient><radialGradient id="g69"><stop offset="0" stop-color="#858585" stop-opacity="0.8"/><stop offset="0.1" stop-color="#858585" stop-opacity="0.767"/><stop offset="0.2" stop-color="#858585" stop-opacity="0.676"/><stop offset="0.3" stop-color="#858585" stop-opacity="0.548"/><stop offset="0.4" stop-color="#858585" stop-opacity="0.409"/><stop offset="0.5" stop-color="#858585" stop-opacity="0.28"/><stop offset="0.6" stop-color="#858585" stop-opacity="0.176"/><stop offset="0.7" stop-color="#858585" stop-opacity="0.102"/><stop offset="0.8" stop-color="#858585" stop-opacity="0.054"/><stop offset="0.9" stop-color="#858585" stop-opacity="0.027"/><stop offset="1" stop-color="#858585" stop-opacity="0"/></radialGradient><radialGradient id="g70"><stop offset="0" stop-color="#8c8c8c" stop-opacity="0.8"/><stop offset="0.1" stop-color="#8c8c8c" stop-opacity="0.797"/><stop offset="0.2" stop-color="#8c8c8c" stop-opacity="0.774"/><stop offset="0.3" stop-color="#8c8c8c" stop-opacity="0.714"/><stop offset="0.4" stop-color="#8c8c8c" stop-opacity="0.611"/><stop offset="0.5" stop-color="#8c8c8c" stop-opacity="0.473"/><stop offset="0.6" stop-color="#8c8c8c" stop-opacity="0.323"/><stop offset="0.7" stop-color="#8c8c8c" stop-opacity="0.189"/><stop offset="0.8" stop-color="#8c8c8c" stop-opacity="0.093"/><stop offset="0.9" stop-color="#8c8c8c" stop-opacity="0.037"/><stop offset="1" stop-color="#8c8c8c" stop-opacity="0"/></radialGradient><radialGradient id="g71"><stop offset="0" stop-color="#a3a3a3" stop-opacity="1"/><stop offset="0.1" stop-color="#a3a3a3" stop-opacity="0.959"/><stop offset="0.2" stop-color="#a3a3a3" stop-opacity="0.845"/><stop offset="0.3" stop-color="#a3a3a3" stop-opacity="0.685"/><stop offset="0.4" stop-color="#a3a3a3" stop-opacity="0.511"/><stop offset="0.5" stop-color="#a3a3a3" stop-opacity="0.35"/><stop offset="0.6" stop-color="#a3a3a3" stop-opacity="0.22"/><stop offset="0.7" stop-color="#a3a3a3" stop-opacity="0.128"/><stop offset="0.8" stop-color="#a3a3a3" stop-opacity="0.068"/><stop offset="0.9" stop-color="#a3a3a3" stop-opacity="0.033"/><stop offset="1" stop-color="#a3a3a3" stop-opacity="0"/></radialGradient><radialGradient id="g72"><stop offset="0" stop-color="#a1a1a1" stop-opacity="1"/><stop offset="0.1" stop-color="#a1a1a1" stop-opacity="0.959"/><stop offset="0.2" stop-color="#a1a1a1" stop-opacity="0.845"/><stop offset="0.3" stop-color="#a1a1a1" stop-opacity="0.685"/><stop offset="0.4" stop-color="#a1a1a1" stop-opacity="0.511"/><stop offset="0.5" stop-color="#a1a1a1" stop-opacity="0.35"/><stop offset="0.6" stop-color="#a1a1a1" stop-opacity="0.22"/><stop offset="0.7" stop-color="#a1a1a1" stop-opacity="0.128"/><stop offset="0.8" stop-color="#a1a1a1" stop-opacity="0.068"/><stop offset="0.9" stop-color="#a1a1a1" stop-opacity="0.033"/><stop offset="1" stop-color="#a1a1a1" stop-opacity="0"/></radialGradient><radialGradient id="g73"><stop offset="0" stop-color="#9e9e9e" stop-opacity="1"/><stop offset="0.1" stop-color="#9e9e9e" stop-opacity="0.959"/><stop offset="0.2" stop-color="#9e9e9e" stop-opacity="0.845"/><stop offset="0.3" stop-color="#9e9e9e" stop-opacity="0.685"/><stop offset="0.4" stop-color="#9e9e9e" stop-opacity="0.511"/><stop offset="0.5" stop-color="#9e9e9e" stop-opacity="0.35"/><stop offset="0.6" stop-color="#9e9e9e" stop-opacity="0.22"/><stop offset="0.7" stop-color="#9e9e9e" stop-opacity="0.128"/><stop offset="0.8" stop-color="#9e9e9e" stop-opacity="0.068"/><stop offset="0.9" stop-color="#9e9e9e" stop-opacity="0.033"/><stop offset="1" stop-color="#9e9e9e" stop-opacity="0"/></radialGradient><radialGradient id="g74"><stop offset="0" stop-color="#6e6e6e" stop-opacity="1"/><stop offset="0.1" stop-color="#6e6e6e" stop-opacity="0.959"/><stop offset="0.2" stop-color="#6e6e6e" stop-opacity="0.845"/><stop offset="0.3" stop-color="#6e6e6e" stop-opacity="0.685"/><stop offset="0.4" stop-color="#6e6e6e" stop-opacity="0.511"/><stop offset="0.5" stop-color="#6e6e6e" stop-opacity="0.35"/><stop offset="0.6" stop-color="#6e6e6e" stop-opacity="0.22"/><stop offset="0.7" stop-color="#6e6e6e" stop-opacity="0.128"/><stop offset="0.8" stop-color="#6e6e6e" stop-opacity="0.068"/><stop offset="0.9" stop-color="#6e6e6e" stop-opacity="0.033"/><stop offset="1" stop-color="#6e6e6e" stop-opacity="0"/></radialGradient><radialGradient id="g75"><stop offset="0" stop-color="#707070" stop-opacity="1"/><stop offset="0.1" stop-color="#707070" stop-opacity="0.959"/><stop offset="0.2" stop-color="#707070" stop-opacity="0.845"/><stop offset="0.3" stop-color="#707070" stop-opacity="0.685"/><stop offset="0.4" stop-color="#707070" stop-opacity="0.511"/><stop offset="0.5" stop-color="#707070" stop-opacity="0.35"/><stop offset="0.6" stop-color="#707070" stop-opacity="0.22"/><stop offset="0.7" stop-color="#707070" stop-opacity="0.128"/><stop offset="0.8" stop-color="#707070" stop-opacity="0.068"/><stop offset="0.9" stop-color="#707070" stop-opacity="0.033"/><stop offset="1" stop-color="#707070" stop-opacity="0"/></radialGradient><radialGradient id="g76"><stop offset="0" stop-color="#8c8c8c" stop-opacity="1"/><stop offset="0.1" stop-color="#8c8c8c" stop-opacity="0.959"/><stop offset="0.2" stop-color="#8c8c8c" stop-opacity="0.845"/><stop offset="0.3" stop-color="#8c8c8c" stop-opacity="0.685"/><stop offset="0.4" stop-color="#8c8c8c" stop-opacity="0.511"/><stop offset="0.5" stop-color="#8c8c8c" stop-opacity="0.35"/><stop offset="0.6" stop-color="#8c8c8c" stop-opacity="0.22"/><stop offset="0.7" stop-color="#8c8c8c" stop-opacity="0.128"/><stop offset="0.8" stop-color="#8c8c8c" stop-opacity="0.068"/><stop offset="0.9" stop-color="#8c8c8c" stop-opacity="0.033"/><stop offset="1" stop-color="#8c8c8c" stop-opacity="0"/></radialGradient><radialGradient id="g77"><stop offset="0" stop-color="#7d7d7d" stop-opacity="1"/><stop offset="0.1" stop-color="#7d7d7d" stop-opacity="0.959"/><stop offset="0.2" stop-color="#7d7d7d" stop-opacity="0.845"/><stop offset="0.3" stop-color="#7d7d7d" stop-opacity="0.685"/><stop offset="0.4" stop-color="#7d7d7d" stop-opacity="0.511"/><stop offset="0.5" stop-color="#7d7d7d" stop-opacity="0.35"/><stop offset="0.6" stop-color="#7d7d7d" stop-opacity="0.22"/><stop offset="0.7" stop-color="#7d7d7d" stop-opacity="0.128"/><stop offset="0.8" stop-color="#7d7d7d" stop-opacity="0.068"/><stop offset="0.9" stop-color="#7d7d7d" stop-opacity="0.033"/><stop offset="1" stop-color="#7d7d7d" stop-opacity="0"/></radialGradient><radialGradient id="g78"><stop offset="0" stop-color="#333333" stop-opacity="1"/><stop offset="0.1" stop-color="#333333" stop-opacity="0.996"/><stop offset="0.2" stop-color="#333333" stop-opacity="0.967"/><stop offset="0.3" stop-color="#333333" stop-opacity="0.893"/><stop offset="0.4" stop-color="#333333" stop-opacity="0.764"/><stop offset="0.5" stop-color="#333333" stop-opacity="0.592"/><stop offset="0.6" stop-color="#333333" stop-opacity="0.404"/><stop offset="0.7" stop-color="#333333" stop-opacity="0.237"/><stop offset="0.8" stop-color="#333333" stop-opacity="0.116"/><stop offset="0.9" stop-color="#333333" stop-opacity="0.047"/><stop offset="1" stop-color="#333333" stop-opacity="0"/></radialGradient><radialGradient id="g79"><stop offset="0" stop-color="#939393" stop-opacity="1"/><stop offset="0.1" stop-color="#939393" stop-opacity="0.959"/><stop offset="0.2" stop-color="#939393" stop-opacity="0.845"/><stop offset="0.3" stop-color="#939393" stop-opacity="0.685"/><stop offset="0.4" stop-color="#939393" stop-opacity="0.511"/><stop offset="0.5" stop-color="#939393" stop-opacity="0.35"/><stop offset="0.6" stop-color="#939393" stop-opacity="0.22"/><stop offset="0.7" stop-color="#939393" stop-opacity="0.128"/><stop offset="0.8" stop-color="#939393" stop-opacity="0.068"/><stop offset="0.9" stop-color="#939393" stop-opacity="0.033"/><stop offset="1" stop-color="#939393" stop-opacity="0"/></radialGradient><radialGradient id="g80"><stop offset="0" stop-color="#3e3e3e" stop-opacity="1"/><stop offset="0.1" stop-color="#3e3e3e" stop-opacity="0.987"/><stop offset="0.2" stop-color="#3e3e3e" stop-opacity="0.928"/><stop offset="0.3" stop-color="#3e3e3e" stop-opacity="0.813"/><stop offset="0.4" stop-color="#3e3e3e" stop-opacity="0.654"/><stop offset="0.5" stop-color="#3e3e3e" stop-opacity="0.476"/><stop offset="0.6" stop-color="#3e3e3e" stop-opacity="0.31"/><stop offset="0.7" stop-color="#3e3e3e" stop-opacity="0.179"/><stop offset="0.8" stop-color="#3e3e3e" stop-opacity="0.09"/><stop offset="0.9" stop-color="#3e3e3e" stop-opacity="0.04"/><stop offset="1" stop-color="#3e3e3e" stop-opacity="0"/></radialGradient><radialGradient id="g81"><stop offset="0" stop-color="#424242" stop-opacity="1"/><stop offset="0.1" stop-color="#424242" stop-opacity="0.979"/><stop offset="0.2" stop-color="#424242" stop-opacity="0.902"/><stop offset="0.3" stop-color="#424242" stop-opacity="0.768"/><stop offset="0.4" stop-color="#424242" stop-opacity="0.6"/><stop offset="0.5" stop-color="#424242" stop-opacity="0.426"/><stop offset="0.6" stop-color="#424242" stop-opacity="0.273"/><stop offset="0.7" stop-color="#424242" stop-opacity="0.157"/><stop offset="0.8" stop-color="#424242" stop-opacity="0.081"/><stop offset="0.9" stop-color="#424242" stop-opacity="0.037"/><stop offset="1" stop-color="#424242" stop-opacity="0"/></radialGradient><radialGradient id="g82"><stop offset="0" stop-color="#5e5e5e" stop-opacity="1"/><stop offset="0.1" stop-color="#5e5e5e" stop-opacity="0.959"/><stop offset="0.2" stop-color="#5e5e5e" stop-opacity="0.845"/><stop offset="0.3" stop-color="#5e5e5e" stop-opacity="0.685"/><stop offset="0.4" stop-color="#5e5e5e" stop-opacity="0.511"/><stop offset="0.5" stop-color="#5e5e5e" stop-opacity="0.35"/><stop offset="0.6" stop-color="#5e5e5e" stop-opacity="0.22"/><stop offset="0.7" stop-color="#5e5e5e" stop-opacity="0.128"/><stop offset="0.8" stop-color="#5e5e5e" stop-opacity="0.068"/><stop offset="0.9" stop-color="#5e5e5e" stop-opacity="0.033"/><stop offset="1" stop-color="#5e5e5e" stop-opacity="0"/></radialGradient><radialGradient id="g83"><stop offset="0" stop-color="#4a4a4a" stop-opacity="1"/><stop offset="0.1" stop-color="#4a4a4a" stop-opacity="0.959"/><stop offset="0.2" stop-color="#4a4a4a" stop-opacity="0.845"/><stop offset="0.3" stop-color="#4a4a4a" stop-opacity="0.685"/><stop offset="0.4" stop-color="#4a4a4a" stop-opacity="0.511"/><stop offset="0.5" stop-color="#4a4a4a" stop-opacity="0.35"/><stop offset="0.6" stop-color="#4a4a4a" stop-opacity="0.22"/><stop offset="0.7" stop-color="#4a4a4a" stop-opacity="0.128"/><stop offset="0.8" stop-color="#4a4a4a" stop-opacity="0.068"/><stop offset="0.9" stop-color="#4a4a4a" stop-opacity="0.033"/><stop offset="1" stop-color="#4a4a4a" stop-opacity="0"/></radialGradient><radialGradient id="g84"><stop offset="0" stop-color="#a2a2a2" stop-opacity="1"/><stop offset="0.1" stop-color="#a2a2a2" stop-opacity="1"/><stop offset="0.2" stop-color="#a2a2a2" stop-opacity="0.999"/><stop offset="0.3" stop-color="#a2a2a2" stop-opacity="0.99"/><stop offset="0.4" stop-color="#a2a2a2" stop-opacity="0.958"/><stop offset="0.5" stop-color="#a2a2a2" stop-opacity="0.877"/><stop offset="0.6" stop-color="#a2a2a2" stop-opacity="0.721"/><stop offset="0.7" stop-color="#a2a2a2" stop-opacity="0.494"/><stop offset="0.8" stop-color="#a2a2a2" stop-opacity="0.253"/><stop offset="0.9" stop-color="#a2a2a2" stop-opacity="0.084"/><stop offset="1" stop-color="#a2a2a2" stop-opacity="0"/></radialGradient><radialGradient id="g85"><stop offset="0" stop-color="#9e9e9e" stop-opacity="1"/><stop offset="0.1" stop-color="#9e9e9e" stop-opacity="0.987"/><stop offset="0.2" stop-color="#9e9e9e" stop-opacity="0.928"/><stop offset="0.3" stop-color="#9e9e9e" stop-opacity="0.813"/><stop offset="0.4" stop-color="#9e9e9e" stop-opacity="0.654"/><stop offset="0.5" stop-color="#9e9e9e" stop-opacity="0.476"/><stop offset="0.6" stop-color="#9e9e9e" stop-opacity="0.31"/><stop offset="0.7" stop-color="#9e9e9e" stop-opacity="0.179"/><stop offset="0.8" stop-color="#9e9e9e" stop-opacity="0.09"/><stop offset="0.9" stop-color="#9e9e9e" stop-opacity="0.04"/><stop offset="1" stop-color="#9e9e9e" stop-opacity="0"/></radialGradient><radialGradient id="g86"><stop offset="0" stop-color="#424242" stop-opacity="1"/><stop offset="0.1" stop-color="#424242" stop-opacity="1"/><stop offset="0.2" stop-color="#424242" stop-opacity="1"/><stop offset="0.3" stop-color="#424242" stop-opacity="0.997"/><stop offset="0.4" stop-color="#424242" stop-opacity="0.983"/><stop offset="0.5" stop-color="#424242" stop-opacity="0.936"/><stop offset="0.6" stop-color="#424242" stop-opacity="0.822"/><stop offset="0.7" stop-color="#424242" stop-opacity="0.61"/><stop offset="0.8" stop-color="#424242" stop-opacity="0.333"/><stop offset="0.9" stop-color="#424242" stop-opacity="0.107"/><stop offset="1" stop-color="#424242" stop-opacity="0"/></radialGradient><radialGradient id="g87"><stop offset="0" stop-color="#080808" stop-opacity="1"/><stop offset="0.1" stop-color="#080808" stop-opacity="1"/><stop offset="0.2" stop-color="#080808" stop-opacity="1"/><stop offset="0.3" stop-color="#080808" stop-opacity="1"/><stop offset="0.4" stop-color="#080808" stop-opacity="0.997"/><stop offset="0.5" stop-color="#080808" stop-opacity="0.984"/><stop offset="0.6" stop-color="#080808" stop-opacity="0.932"/><stop offset="0.7" stop-color="#080808" stop-opacity="0.785"/><stop offset="0.8" stop-color="#080808" stop-opacity="0.494"/><stop offset="0.9" stop-color="#080808" stop-opacity="0.164"/><stop offset="1" stop-color="#080808" stop-opacity="0"/></radialGradient><radialGradient id="g88"><stop offset="0" stop-color="#666666" stop-opacity="0.8"/><stop offset="0.1" stop-color="#666666" stop-opacity="0.767"/><stop offset="0.2" stop-color="#666666" stop-opacity="0.676"/><stop offset="0.3" stop-color="#666666" stop-opacity="0.548"/><stop offset="0.4" stop-color="#666666" stop-opacity="0.409"/><stop offset="0.5" stop-color="#666666" stop-opacity="0.28"/><stop offset="0.6" stop-color="#666666" stop-opacity="0.176"/><stop offset="0.7" stop-color="#666666" stop-opacity="0.102"/><stop offset="0.8" stop-color="#666666" stop-opacity="0.054"/><stop offset="0.9" stop-color="#666666" stop-opacity="0.027"/><stop offset="1" stop-color="#666666" stop-opacity="0"/></radialGradient><radialGradient id="g89"><stop offset="0" stop-color="#303030" stop-opacity="1"/><stop offset="0.1" stop-color="#303030" stop-opacity="1"/><stop offset="0.2" stop-color="#303030" stop-opacity="1"/><stop offset="0.3" stop-color="#303030" stop-opacity="1"/><stop offset="0.4" stop-color="#303030" stop-opacity="1"/><stop offset="0.5" stop-color="#303030" stop-opacity="0.996"/><stop offset="0.6" stop-color="#303030" stop-opacity="0.975"/><stop offset="0.7" stop-color="#303030" stop-opacity="0.888"/><stop offset="0.8" stop-color="#303030" stop-opacity="0.637"/><stop offset="0.9" stop-color="#303030" stop-opacity="0.231"/><stop offset="1" stop-color="#303030" stop-opacity="0"/></radialGradient><radialGradient id="g90"><stop offset="0" stop-color="#333333" stop-opacity="1"/><stop offset="0.1" stop-color="#333333" stop-opacity="1"/><stop offset="0.2" stop-color="#333333" stop-opacity="1"/><stop offset="0.3" stop-color="#333333" stop-opacity="0.997"/><stop offset="0.4" stop-color="#333333" stop-opacity="0.983"/><stop offset="0.5" stop-color="#333333" stop-opacity="0.936"/><stop offset="0.6" stop-color="#333333" stop-opacity="0.822"/><stop offset="0.7" stop-color="#333333" stop-opacity="0.61"/><stop offset="0.8" stop-color="#333333" stop-opacity="0.333"/><stop offset="0.9" stop-color="#333333" stop-opacity="0.107"/><stop offset="1" stop-color="#333333" stop-opacity="0"/></radialGradient><radialGradient id="g91"><stop offset="0" stop-color="#4c4c4c" stop-opacity="0.9"/><stop offset="0.1" stop-color="#4c4c4c" stop-opacity="0.9"/><stop offset="0.2" stop-color="#4c4c4c" stop-opacity="0.899"/><stop offset="0.3" stop-color="#4c4c4c" stop-opacity="0.891"/><stop offset="0.4" stop-color="#4c4c4c" stop-opacity="0.862"/><stop offset="0.5" stop-color="#4c4c4c" stop-opacity="0.789"/><stop offset="0.6" stop-color="#4c4c4c" stop-opacity="0.649"/><stop offset="0.7" stop-color="#4c4c4c" stop-opacity="0.444"/><stop offset="0.8" stop-color="#4c4c4c" stop-opacity="0.227"/><stop offset="0.9" stop-color="#4c4c4c" stop-opacity="0.075"/><stop offset="1" stop-color="#4c4c4c" stop-opacity="0"/></radialGradient><radialGradient id="g92"><stop offset="0" stop-color="#e6e6e6" stop-opacity="1"/><stop offset="0.1" stop-color="#e6e6e6" stop-opacity="1"/><stop offset="0.2" stop-color="#e6e6e6" stop-opacity="1"/><stop offset="0.3" stop-color="#e6e6e6" stop-opacity="1"/><stop offset="0.4" stop-color="#e6e6e6" stop-opacity="1"/><stop offset="0.5" stop-color="#e6e6e6" stop-opacity="1"/><stop offset="0.6" stop-color="#e6e6e6" stop-opacity="0.997"/><stop offset="0.7" stop-color="#e6e6e6" stop-opacity="0.972"/><stop offset="0.8" stop-color="#e6e6e6" stop-opacity="0.831"/><stop offset="0.9" stop-color="#e6e6e6" stop-opacity="0.383"/><stop offset="1" stop-color="#e6e6e6" stop-opacity="0"/></radialGradient><radialGradient id="g93"><stop offset="0" stop-color="#f7f7f7" stop-opacity="1"/><stop offset="0.1" stop-color="#f7f7f7" stop-opacity="1"/><stop offset="0.2" stop-color="#f7f7f7" stop-opacity="0.993"/><stop offset="0.3" stop-color="#f7f7f7" stop-opacity="0.967"/><stop offset="0.4" stop-color="#f7f7f7" stop-opacity="0.898"/><stop offset="0.5" stop-color="#f7f7f7" stop-opacity="0.769"/><stop offset="0.6" stop-color="#f7f7f7" stop-opacity="0.58"/><stop offset="0.7" stop-color="#f7f7f7" stop-opacity="0.365"/><stop offset="0.8" stop-color="#f7f7f7" stop-opacity="0.179"/><stop offset="0.9" stop-color="#f7f7f7" stop-opacity="0.064"/><stop offset="1" stop-color="#f7f7f7" stop-opacity="0"/></radialGradient><radialGradient id="g94"><stop offset="0" stop-color="#bdbdbd" stop-opacity="1"/><stop offset="0.1" stop-color="#bdbdbd" stop-opacity="1"/><stop offset="0.2" stop-color="#bdbdbd" stop-opacity="1"/><stop offset="0.3" stop-color="#bdbdbd" stop-opacity="1"/><stop offset="0.4" stop-color="#bdbdbd" stop-opacity="0.997"/><stop offset="0.5" stop-color="#bdbdbd" stop-opacity="0.984"/><stop offset="0.6" stop-color="#bdbdbd" stop-opacity="0.932"/><stop offset="0.7" stop-color="#bdbdbd" stop-opacity="0.785"/><stop offset="0.8" stop-color="#bdbdbd" stop-opacity="0.494"/><stop offset="0.9" stop-color="#bdbdbd" stop-opacity="0.164"/><stop offset="1" stop-color="#bdbdbd" stop-opacity="0"/></radialGradient><radialGradient id="g95"><stop offset="0" stop-color="#ababab" stop-opacity="1"/><stop offset="0.1" stop-color="#ababab" stop-opacity="0.996"/><stop offset="0.2" stop-color="#ababab" stop-opacity="0.967"/><stop offset="0.3" stop-color="#ababab" stop-opacity="0.893"/><stop offset="0.4" stop-color="#ababab" stop-opacity="0.764"/><stop offset="0.5" stop-color="#ababab" stop-opacity="0.592"/><stop offset="0.6" stop-color="#ababab" stop-opacity="0.404"/><stop offset="0.7" stop-color="#ababab" stop-opacity="0.237"/><stop offset="0.8" stop-color="#ababab" stop-opacity="0.116"/><stop offset="0.9" stop-color="#ababab" stop-opacity="0.047"/><stop offset="1" stop-color="#ababab" stop-opacity="0"/></radialGradient><radialGradient id="g96"><stop offset="0" stop-color="#999999" stop-opacity="1"/><stop offset="0.1" stop-color="#999999" stop-opacity="1"/><stop offset="0.2" stop-color="#999999" stop-opacity="1"/><stop offset="0.3" stop-color="#999999" stop-opacity="0.997"/><stop offset="0.4" stop-color="#999999" stop-opacity="0.983"/><stop offset="0.5" stop-color="#999999" stop-opacity="0.936"/><stop offset="0.6" stop-color="#999999" stop-opacity="0.822"/><stop offset="0.7" stop-color="#999999" stop-opacity="0.61"/><stop offset="0.8" stop-color="#999999" stop-opacity="0.333"/><stop offset="0.9" stop-color="#999999" stop-opacity="0.107"/><stop offset="1" stop-color="#999999" stop-opacity="0"/></radialGradient>
<linearGradient id="b2bg" x1="0" y1="0" x2="0" y2="1"><stop offset="0" stop-color="#8e8e8e"/><stop offset="0.0222" stop-color="#8f8f8f"/><stop offset="0.0306" stop-color="#969696"/><stop offset="0.0444" stop-color="#969696"/><stop offset="0.0556" stop-color="#929292"/><stop offset="1" stop-color="#929292"/></linearGradient><radialGradient id="g97"><stop offset="0" stop-color="#8b8b8b" stop-opacity="1"/><stop offset="0.1" stop-color="#8b8b8b" stop-opacity="0.959"/><stop offset="0.2" stop-color="#8b8b8b" stop-opacity="0.845"/><stop offset="0.3" stop-color="#8b8b8b" stop-opacity="0.685"/><stop offset="0.4" stop-color="#8b8b8b" stop-opacity="0.511"/><stop offset="0.5" stop-color="#8b8b8b" stop-opacity="0.35"/><stop offset="0.6" stop-color="#8b8b8b" stop-opacity="0.22"/><stop offset="0.7" stop-color="#8b8b8b" stop-opacity="0.128"/><stop offset="0.8" stop-color="#8b8b8b" stop-opacity="0.068"/><stop offset="0.9" stop-color="#8b8b8b" stop-opacity="0.033"/><stop offset="1" stop-color="#8b8b8b" stop-opacity="0"/></radialGradient><radialGradient id="g98"><stop offset="0" stop-color="#8a8a8a" stop-opacity="1"/><stop offset="0.1" stop-color="#8a8a8a" stop-opacity="0.959"/><stop offset="0.2" stop-color="#8a8a8a" stop-opacity="0.845"/><stop offset="0.3" stop-color="#8a8a8a" stop-opacity="0.685"/><stop offset="0.4" stop-color="#8a8a8a" stop-opacity="0.511"/><stop offset="0.5" stop-color="#8a8a8a" stop-opacity="0.35"/><stop offset="0.6" stop-color="#8a8a8a" stop-opacity="0.22"/><stop offset="0.7" stop-color="#8a8a8a" stop-opacity="0.128"/><stop offset="0.8" stop-color="#8a8a8a" stop-opacity="0.068"/><stop offset="0.9" stop-color="#8a8a8a" stop-opacity="0.033"/><stop offset="1" stop-color="#8a8a8a" stop-opacity="0"/></radialGradient><radialGradient id="g99"><stop offset="0" stop-color="#878787" stop-opacity="1"/><stop offset="0.1" stop-color="#878787" stop-opacity="0.959"/><stop offset="0.2" stop-color="#878787" stop-opacity="0.845"/><stop offset="0.3" stop-color="#878787" stop-opacity="0.685"/><stop offset="0.4" stop-color="#878787" stop-opacity="0.511"/><stop offset="0.5" stop-color="#878787" stop-opacity="0.35"/><stop offset="0.6" stop-color="#878787" stop-opacity="0.22"/><stop offset="0.7" stop-color="#878787" stop-opacity="0.128"/><stop offset="0.8" stop-color="#878787" stop-opacity="0.068"/><stop offset="0.9" stop-color="#878787" stop-opacity="0.033"/><stop offset="1" stop-color="#878787" stop-opacity="0"/></radialGradient><radialGradient id="g100"><stop offset="0" stop-color="#a4a4a4" stop-opacity="1"/><stop offset="0.1" stop-color="#a4a4a4" stop-opacity="0.959"/><stop offset="0.2" stop-color="#a4a4a4" stop-opacity="0.845"/><stop offset="0.3" stop-color="#a4a4a4" stop-opacity="0.685"/><stop offset="0.4" stop-color="#a4a4a4" stop-opacity="0.511"/><stop offset="0.5" stop-color="#a4a4a4" stop-opacity="0.35"/><stop offset="0.6" stop-color="#a4a4a4" stop-opacity="0.22"/><stop offset="0.7" stop-color="#a4a4a4" stop-opacity="0.128"/><stop offset="0.8" stop-color="#a4a4a4" stop-opacity="0.068"/><stop offset="0.9" stop-color="#a4a4a4" stop-opacity="0.033"/><stop offset="1" stop-color="#a4a4a4" stop-opacity="0"/></radialGradient><radialGradient id="g101"><stop offset="0" stop-color="#808080" stop-opacity="1"/><stop offset="0.1" stop-color="#808080" stop-opacity="0.959"/><stop offset="0.2" stop-color="#808080" stop-opacity="0.845"/><stop offset="0.3" stop-color="#808080" stop-opacity="0.685"/><stop offset="0.4" stop-color="#808080" stop-opacity="0.511"/><stop offset="0.5" stop-color="#808080" stop-opacity="0.35"/><stop offset="0.6" stop-color="#808080" stop-opacity="0.22"/><stop offset="0.7" stop-color="#808080" stop-opacity="0.128"/><stop offset="0.8" stop-color="#808080" stop-opacity="0.068"/><stop offset="0.9" stop-color="#808080" stop-opacity="0.033"/><stop offset="1" stop-color="#808080" stop-opacity="0"/></radialGradient><radialGradient id="g102"><stop offset="0" stop-color="#878787" stop-opacity="0.7"/><stop offset="0.1" stop-color="#878787" stop-opacity="0.671"/><stop offset="0.2" stop-color="#878787" stop-opacity="0.592"/><stop offset="0.3" stop-color="#878787" stop-opacity="0.48"/><stop offset="0.4" stop-color="#878787" stop-opacity="0.357"/><stop offset="0.5" stop-color="#878787" stop-opacity="0.245"/><stop offset="0.6" stop-color="#878787" stop-opacity="0.154"/><stop offset="0.7" stop-color="#878787" stop-opacity="0.089"/><stop offset="0.8" stop-color="#878787" stop-opacity="0.048"/><stop offset="0.9" stop-color="#878787" stop-opacity="0.023"/><stop offset="1" stop-color="#878787" stop-opacity="0"/></radialGradient><radialGradient id="g103"><stop offset="0" stop-color="#999999" stop-opacity="0.8"/><stop offset="0.1" stop-color="#999999" stop-opacity="0.767"/><stop offset="0.2" stop-color="#999999" stop-opacity="0.676"/><stop offset="0.3" stop-color="#999999" stop-opacity="0.548"/><stop offset="0.4" stop-color="#999999" stop-opacity="0.409"/><stop offset="0.5" stop-color="#999999" stop-opacity="0.28"/><stop offset="0.6" stop-color="#999999" stop-opacity="0.176"/><stop offset="0.7" stop-color="#999999" stop-opacity="0.102"/><stop offset="0.8" stop-color="#999999" stop-opacity="0.054"/><stop offset="0.9" stop-color="#999999" stop-opacity="0.027"/><stop offset="1" stop-color="#999999" stop-opacity="0"/></radialGradient><radialGradient id="g104"><stop offset="0" stop-color="#888888" stop-opacity="1"/><stop offset="0.1" stop-color="#888888" stop-opacity="0.959"/><stop offset="0.2" stop-color="#888888" stop-opacity="0.845"/><stop offset="0.3" stop-color="#888888" stop-opacity="0.685"/><stop offset="0.4" stop-color="#888888" stop-opacity="0.511"/><stop offset="0.5" stop-color="#888888" stop-opacity="0.35"/><stop offset="0.6" stop-color="#888888" stop-opacity="0.22"/><stop offset="0.7" stop-color="#888888" stop-opacity="0.128"/><stop offset="0.8" stop-color="#888888" stop-opacity="0.068"/><stop offset="0.9" stop-color="#888888" stop-opacity="0.033"/><stop offset="1" stop-color="#888888" stop-opacity="0"/></radialGradient><radialGradient id="g105"><stop offset="0" stop-color="#969696" stop-opacity="1"/><stop offset="0.1" stop-color="#969696" stop-opacity="0.959"/><stop offset="0.2" stop-color="#969696" stop-opacity="0.845"/><stop offset="0.3" stop-color="#969696" stop-opacity="0.685"/><stop offset="0.4" stop-color="#969696" stop-opacity="0.511"/><stop offset="0.5" stop-color="#969696" stop-opacity="0.35"/><stop offset="0.6" stop-color="#969696" stop-opacity="0.22"/><stop offset="0.7" stop-color="#969696" stop-opacity="0.128"/><stop offset="0.8" stop-color="#969696" stop-opacity="0.068"/><stop offset="0.9" stop-color="#969696" stop-opacity="0.033"/><stop offset="1" stop-color="#969696" stop-opacity="0"/></radialGradient><radialGradient id="g106"><stop offset="0" stop-color="#e6e6e6" stop-opacity="1"/><stop offset="0.1" stop-color="#e6e6e6" stop-opacity="0.996"/><stop offset="0.2" stop-color="#e6e6e6" stop-opacity="0.967"/><stop offset="0.3" stop-color="#e6e6e6" stop-opacity="0.893"/><stop offset="0.4" stop-color="#e6e6e6" stop-opacity="0.764"/><stop offset="0.5" stop-color="#e6e6e6" stop-opacity="0.592"/><stop offset="0.6" stop-color="#e6e6e6" stop-opacity="0.404"/><stop offset="0.7" stop-color="#e6e6e6" stop-opacity="0.237"/><stop offset="0.8" stop-color="#e6e6e6" stop-opacity="0.116"/><stop offset="0.9" stop-color="#e6e6e6" stop-opacity="0.047"/><stop offset="1" stop-color="#e6e6e6" stop-opacity="0"/></radialGradient><radialGradient id="g107"><stop offset="0" stop-color="#c7c7c7" stop-opacity="1"/><stop offset="0.1" stop-color="#c7c7c7" stop-opacity="0.996"/><stop offset="0.2" stop-color="#c7c7c7" stop-opacity="0.967"/><stop offset="0.3" stop-color="#c7c7c7" stop-opacity="0.893"/><stop offset="0.4" stop-color="#c7c7c7" stop-opacity="0.764"/><stop offset="0.5" stop-color="#c7c7c7" stop-opacity="0.592"/><stop offset="0.6" stop-color="#c7c7c7" stop-opacity="0.404"/><stop offset="0.7" stop-color="#c7c7c7" stop-opacity="0.237"/><stop offset="0.8" stop-color="#c7c7c7" stop-opacity="0.116"/><stop offset="0.9" stop-color="#c7c7c7" stop-opacity="0.047"/><stop offset="1" stop-color="#c7c7c7" stop-opacity="0"/></radialGradient><radialGradient id="g108"><stop offset="0" stop-color="#050505" stop-opacity="1"/><stop offset="0.1" stop-color="#050505" stop-opacity="0.996"/><stop offset="0.2" stop-color="#050505" stop-opacity="0.967"/><stop offset="0.3" stop-color="#050505" stop-opacity="0.893"/><stop offset="0.4" stop-color="#050505" stop-opacity="0.764"/><stop offset="0.5" stop-color="#050505" stop-opacity="0.592"/><stop offset="0.6" stop-color="#050505" stop-opacity="0.404"/><stop offset="0.7" stop-color="#050505" stop-opacity="0.237"/><stop offset="0.8" stop-color="#050505" stop-opacity="0.116"/><stop offset="0.9" stop-color="#050505" stop-opacity="0.047"/><stop offset="1" stop-color="#050505" stop-opacity="0"/></radialGradient><radialGradient id="g109"><stop offset="0" stop-color="#666666" stop-opacity="1"/><stop offset="0.1" stop-color="#666666" stop-opacity="0.996"/><stop offset="0.2" stop-color="#666666" stop-opacity="0.967"/><stop offset="0.3" stop-color="#666666" stop-opacity="0.893"/><stop offset="0.4" stop-color="#666666" stop-opacity="0.764"/><stop offset="0.5" stop-color="#666666" stop-opacity="0.592"/><stop offset="0.6" stop-color="#666666" stop-opacity="0.404"/><stop offset="0.7" stop-color="#666666" stop-opacity="0.237"/><stop offset="0.8" stop-color="#666666" stop-opacity="0.116"/><stop offset="0.9" stop-color="#666666" stop-opacity="0.047"/><stop offset="1" stop-color="#666666" stop-opacity="0"/></radialGradient>
<linearGradient id="b3bg" x1="0" y1="0" x2="0" y2="1"><stop offset="0" stop-color="#6f6f6f"/><stop offset="0.0222" stop-color="#6e6e6e"/><stop offset="0.0389" stop-color="#777777"/><stop offset="0.0611" stop-color="#757575"/><stop offset="0.0833" stop-color="#737373"/><stop offset="0.8889" stop-color="#737373"/><stop offset="0.9333" stop-color="#6f6f6f"/><stop offset="0.9778" stop-color="#6e6e6e"/><stop offset="1" stop-color="#717171"/></linearGradient><radialGradient id="g110"><stop offset="0" stop-color="#6b6b6b" stop-opacity="1"/><stop offset="0.1" stop-color="#6b6b6b" stop-opacity="0.959"/><stop offset="0.2" stop-color="#6b6b6b" stop-opacity="0.845"/><stop offset="0.3" stop-color="#6b6b6b" stop-opacity="0.685"/><stop offset="0.4" stop-color="#6b6b6b" stop-opacity="0.511"/><stop offset="0.5" stop-color="#6b6b6b" stop-opacity="0.35"/><stop offset="0.6" stop-color="#6b6b6b" stop-opacity="0.22"/><stop offset="0.7" stop-color="#6b6b6b" stop-opacity="0.128"/><stop offset="0.8" stop-color="#6b6b6b" stop-opacity="0.068"/><stop offset="0.9" stop-color="#6b6b6b" stop-opacity="0.033"/><stop offset="1" stop-color="#6b6b6b" stop-opacity="0"/></radialGradient><radialGradient id="g111"><stop offset="0" stop-color="#858585" stop-opacity="1"/><stop offset="0.1" stop-color="#858585" stop-opacity="0.959"/><stop offset="0.2" stop-color="#858585" stop-opacity="0.845"/><stop offset="0.3" stop-color="#858585" stop-opacity="0.685"/><stop offset="0.4" stop-color="#858585" stop-opacity="0.511"/><stop offset="0.5" stop-color="#858585" stop-opacity="0.35"/><stop offset="0.6" stop-color="#858585" stop-opacity="0.22"/><stop offset="0.7" stop-color="#858585" stop-opacity="0.128"/><stop offset="0.8" stop-color="#858585" stop-opacity="0.068"/><stop offset="0.9" stop-color="#858585" stop-opacity="0.033"/><stop offset="1" stop-color="#858585" stop-opacity="0"/></radialGradient><radialGradient id="g112"><stop offset="0" stop-color="#666666" stop-opacity="1"/><stop offset="0.1" stop-color="#666666" stop-opacity="0.959"/><stop offset="0.2" stop-color="#666666" stop-opacity="0.845"/><stop offset="0.3" stop-color="#666666" stop-opacity="0.685"/><stop offset="0.4" stop-color="#666666" stop-opacity="0.511"/><stop offset="0.5" stop-color="#666666" stop-opacity="0.35"/><stop offset="0.6" stop-color="#666666" stop-opacity="0.22"/><stop offset="0.7" stop-color="#666666" stop-opacity="0.128"/><stop offset="0.8" stop-color="#666666" stop-opacity="0.068"/><stop offset="0.9" stop-color="#666666" stop-opacity="0.033"/><stop offset="1" stop-color="#666666" stop-opacity="0"/></radialGradient><radialGradient id="g113"><stop offset="0" stop-color="#7a7a7a" stop-opacity="0.6"/><stop offset="0.1" stop-color="#7a7a7a" stop-opacity="0.575"/><stop offset="0.2" stop-color="#7a7a7a" stop-opacity="0.507"/><stop offset="0.3" stop-color="#7a7a7a" stop-opacity="0.411"/><stop offset="0.4" stop-color="#7a7a7a" stop-opacity="0.306"/><stop offset="0.5" stop-color="#7a7a7a" stop-opacity="0.21"/><stop offset="0.6" stop-color="#7a7a7a" stop-opacity="0.132"/><stop offset="0.7" stop-color="#7a7a7a" stop-opacity="0.077"/><stop offset="0.8" stop-color="#7a7a7a" stop-opacity="0.041"/><stop offset="0.9" stop-color="#7a7a7a" stop-opacity="0.02"/><stop offset="1" stop-color="#7a7a7a" stop-opacity="0"/></radialGradient><radialGradient id="g114"><stop offset="0" stop-color="#808080" stop-opacity="1"/><stop offset="0.1" stop-color="#808080" stop-opacity="1"/><stop offset="0.2" stop-color="#808080" stop-opacity="0.993"/><stop offset="0.3" stop-color="#808080" stop-opacity="0.967"/><stop offset="0.4" stop-color="#808080" stop-opacity="0.898"/><stop offset="0.5" stop-color="#808080" stop-opacity="0.769"/><stop offset="0.6" stop-color="#808080" stop-opacity="0.58"/><stop offset="0.7" stop-color="#808080" stop-opacity="0.365"/><stop offset="0.8" stop-color="#808080" stop-opacity="0.179"/><stop offset="0.9" stop-color="#808080" stop-opacity="0.064"/><stop offset="1" stop-color="#808080" stop-opacity="0"/></radialGradient><radialGradient id="g115"><stop offset="0" stop-color="#878787" stop-opacity="1"/><stop offset="0.1" stop-color="#878787" stop-opacity="1"/><stop offset="0.2" stop-color="#878787" stop-opacity="1"/><stop offset="0.3" stop-color="#878787" stop-opacity="1"/><stop offset="0.4" stop-color="#878787" stop-opacity="0.997"/><stop offset="0.5" stop-color="#878787" stop-opacity="0.984"/><stop offset="0.6" stop-color="#878787" stop-opacity="0.932"/><stop offset="0.7" stop-color="#878787" stop-opacity="0.785"/><stop offset="0.8" stop-color="#878787" stop-opacity="0.494"/><stop offset="0.9" stop-color="#878787" stop-opacity="0.164"/><stop offset="1" stop-color="#878787" stop-opacity="0"/></radialGradient><radialGradient id="g116"><stop offset="0" stop-color="#868686" stop-opacity="1"/><stop offset="0.1" stop-color="#868686" stop-opacity="1"/><stop offset="0.2" stop-color="#868686" stop-opacity="1"/><stop offset="0.3" stop-color="#868686" stop-opacity="0.997"/><stop offset="0.4" stop-color="#868686" stop-opacity="0.983"/><stop offset="0.5" stop-color="#868686" stop-opacity="0.936"/><stop offset="0.6" stop-color="#868686" stop-opacity="0.822"/><stop offset="0.7" stop-color="#868686" stop-opacity="0.61"/><stop offset="0.8" stop-color="#868686" stop-opacity="0.333"/><stop offset="0.9" stop-color="#868686" stop-opacity="0.107"/><stop offset="1" stop-color="#868686" stop-opacity="0"/></radialGradient><radialGradient id="g117"><stop offset="0" stop-color="#8f8f8f" stop-opacity="1"/><stop offset="0.1" stop-color="#8f8f8f" stop-opacity="0.959"/><stop offset="0.2" stop-color="#8f8f8f" stop-opacity="0.845"/><stop offset="0.3" stop-color="#8f8f8f" stop-opacity="0.685"/><stop offset="0.4" stop-color="#8f8f8f" stop-opacity="0.511"/><stop offset="0.5" stop-color="#8f8f8f" stop-opacity="0.35"/><stop offset="0.6" stop-color="#8f8f8f" stop-opacity="0.22"/><stop offset="0.7" stop-color="#8f8f8f" stop-opacity="0.128"/><stop offset="0.8" stop-color="#8f8f8f" stop-opacity="0.068"/><stop offset="0.9" stop-color="#8f8f8f" stop-opacity="0.033"/><stop offset="1" stop-color="#8f8f8f" stop-opacity="0"/></radialGradient>
<linearGradient id="c1bg" x1="0" y1="0" x2="0" y2="1"><stop offset="0" stop-color="#080808"/><stop offset="1" stop-color="#080808"/></linearGradient><radialGradient id="g118"><stop offset="0" stop-color="#ffffff" stop-opacity="1"/><stop offset="0.1" stop-color="#ffffff" stop-opacity="0.959"/><stop offset="0.2" stop-color="#ffffff" stop-opacity="0.845"/><stop offset="0.3" stop-color="#ffffff" stop-opacity="0.685"/><stop offset="0.4" stop-color="#ffffff" stop-opacity="0.511"/><stop offset="0.5" stop-color="#ffffff" stop-opacity="0.35"/><stop offset="0.6" stop-color="#ffffff" stop-opacity="0.22"/><stop offset="0.7" stop-color="#ffffff" stop-opacity="0.128"/><stop offset="0.8" stop-color="#ffffff" stop-opacity="0.068"/><stop offset="0.9" stop-color="#ffffff" stop-opacity="0.033"/><stop offset="1" stop-color="#ffffff" stop-opacity="0"/></radialGradient>
<linearGradient id="c2bg" x1="0" y1="0" x2="0" y2="1"><stop offset="0" stop-color="#131313"/><stop offset="1" stop-color="#131313"/></linearGradient><radialGradient id="g119"><stop offset="0" stop-color="#424242" stop-opacity="1"/><stop offset="0.1" stop-color="#424242" stop-opacity="0.959"/><stop offset="0.2" stop-color="#424242" stop-opacity="0.845"/><stop offset="0.3" stop-color="#424242" stop-opacity="0.685"/><stop offset="0.4" stop-color="#424242" stop-opacity="0.511"/><stop offset="0.5" stop-color="#424242" stop-opacity="0.35"/><stop offset="0.6" stop-color="#424242" stop-opacity="0.22"/><stop offset="0.7" stop-color="#424242" stop-opacity="0.128"/><stop offset="0.8" stop-color="#424242" stop-opacity="0.068"/><stop offset="0.9" stop-color="#424242" stop-opacity="0.033"/><stop offset="1" stop-color="#424242" stop-opacity="0"/></radialGradient><radialGradient id="g120"><stop offset="0" stop-color="#262626" stop-opacity="1"/><stop offset="0.1" stop-color="#262626" stop-opacity="0.959"/><stop offset="0.2" stop-color="#262626" stop-opacity="0.845"/><stop offset="0.3" stop-color="#262626" stop-opacity="0.685"/><stop offset="0.4" stop-color="#262626" stop-opacity="0.511"/><stop offset="0.5" stop-color="#262626" stop-opacity="0.35"/><stop offset="0.6" stop-color="#262626" stop-opacity="0.22"/><stop offset="0.7" stop-color="#262626" stop-opacity="0.128"/><stop offset="0.8" stop-color="#262626" stop-opacity="0.068"/><stop offset="0.9" stop-color="#262626" stop-opacity="0.033"/><stop offset="1" stop-color="#262626" stop-opacity="0"/></radialGradient><radialGradient id="g121"><stop offset="0" stop-color="#171717" stop-opacity="1"/><stop offset="0.1" stop-color="#171717" stop-opacity="0.959"/><stop offset="0.2" stop-color="#171717" stop-opacity="0.845"/><stop offset="0.3" stop-color="#171717" stop-opacity="0.685"/><stop offset="0.4" stop-color="#171717" stop-opacity="0.511"/><stop offset="0.5" stop-color="#171717" stop-opacity="0.35"/><stop offset="0.6" stop-color="#171717" stop-opacity="0.22"/><stop offset="0.7" stop-color="#171717" stop-opacity="0.128"/><stop offset="0.8" stop-color="#171717" stop-opacity="0.068"/><stop offset="0.9" stop-color="#171717" stop-opacity="0.033"/><stop offset="1" stop-color="#171717" stop-opacity="0"/></radialGradient><radialGradient id="g122"><stop offset="0" stop-color="#1a1a1a" stop-opacity="1"/><stop offset="0.1" stop-color="#1a1a1a" stop-opacity="0.959"/><stop offset="0.2" stop-color="#1a1a1a" stop-opacity="0.845"/><stop offset="0.3" stop-color="#1a1a1a" stop-opacity="0.685"/><stop offset="0.4" stop-color="#1a1a1a" stop-opacity="0.511"/><stop offset="0.5" stop-color="#1a1a1a" stop-opacity="0.35"/><stop offset="0.6" stop-color="#1a1a1a" stop-opacity="0.22"/><stop offset="0.7" stop-color="#1a1a1a" stop-opacity="0.128"/><stop offset="0.8" stop-color="#1a1a1a" stop-opacity="0.068"/><stop offset="0.9" stop-color="#1a1a1a" stop-opacity="0.033"/><stop offset="1" stop-color="#1a1a1a" stop-opacity="0"/></radialGradient><radialGradient id="g123"><stop offset="0" stop-color="#1f1f1f" stop-opacity="1"/><stop offset="0.1" stop-color="#1f1f1f" stop-opacity="0.959"/><stop offset="0.2" stop-color="#1f1f1f" stop-opacity="0.845"/><stop offset="0.3" stop-color="#1f1f1f" stop-opacity="0.685"/><stop offset="0.4" stop-color="#1f1f1f" stop-opacity="0.511"/><stop offset="0.5" stop-color="#1f1f1f" stop-opacity="0.35"/><stop offset="0.6" stop-color="#1f1f1f" stop-opacity="0.22"/><stop offset="0.7" stop-color="#1f1f1f" stop-opacity="0.128"/><stop offset="0.8" stop-color="#1f1f1f" stop-opacity="0.068"/><stop offset="0.9" stop-color="#1f1f1f" stop-opacity="0.033"/><stop offset="1" stop-color="#1f1f1f" stop-opacity="0"/></radialGradient><radialGradient id="g124"><stop offset="0" stop-color="#f2f2f2" stop-opacity="1"/><stop offset="0.1" stop-color="#f2f2f2" stop-opacity="0.959"/><stop offset="0.2" stop-color="#f2f2f2" stop-opacity="0.845"/><stop offset="0.3" stop-color="#f2f2f2" stop-opacity="0.685"/><stop offset="0.4" stop-color="#f2f2f2" stop-opacity="0.511"/><stop offset="0.5" stop-color="#f2f2f2" stop-opacity="0.35"/><stop offset="0.6" stop-color="#f2f2f2" stop-opacity="0.22"/><stop offset="0.7" stop-color="#f2f2f2" stop-opacity="0.128"/><stop offset="0.8" stop-color="#f2f2f2" stop-opacity="0.068"/><stop offset="0.9" stop-color="#f2f2f2" stop-opacity="0.033"/><stop offset="1" stop-color="#f2f2f2" stop-opacity="0"/></radialGradient><radialGradient id="g125"><stop offset="0" stop-color="#e6e6e6" stop-opacity="1"/><stop offset="0.1" stop-color="#e6e6e6" stop-opacity="0.959"/><stop offset="0.2" stop-color="#e6e6e6" stop-opacity="0.845"/><stop offset="0.3" stop-color="#e6e6e6" stop-opacity="0.685"/><stop offset="0.4" stop-color="#e6e6e6" stop-opacity="0.511"/><stop offset="0.5" stop-color="#e6e6e6" stop-opacity="0.35"/><stop offset="0.6" stop-color="#e6e6e6" stop-opacity="0.22"/><stop offset="0.7" stop-color="#e6e6e6" stop-opacity="0.128"/><stop offset="0.8" stop-color="#e6e6e6" stop-opacity="0.068"/><stop offset="0.9" stop-color="#e6e6e6" stop-opacity="0.033"/><stop offset="1" stop-color="#e6e6e6" stop-opacity="0"/></radialGradient><radialGradient id="g126"><stop offset="0" stop-color="#e0e0e0" stop-opacity="1"/><stop offset="0.1" stop-color="#e0e0e0" stop-opacity="0.959"/><stop offset="0.2" stop-color="#e0e0e0" stop-opacity="0.845"/><stop offset="0.3" stop-color="#e0e0e0" stop-opacity="0.685"/><stop offset="0.4" stop-color="#e0e0e0" stop-opacity="0.511"/><stop offset="0.5" stop-color="#e0e0e0" stop-opacity="0.35"/><stop offset="0.6" stop-color="#e0e0e0" stop-opacity="0.22"/><stop offset="0.7" stop-color="#e0e0e0" stop-opacity="0.128"/><stop offset="0.8" stop-color="#e0e0e0" stop-opacity="0.068"/><stop offset="0.9" stop-color="#e0e0e0" stop-opacity="0.033"/><stop offset="1" stop-color="#e0e0e0" stop-opacity="0"/></radialGradient><radialGradient id="g127"><stop offset="0" stop-color="#dbdbdb" stop-opacity="1"/><stop offset="0.1" stop-color="#dbdbdb" stop-opacity="0.959"/><stop offset="0.2" stop-color="#dbdbdb" stop-opacity="0.845"/><stop offset="0.3" stop-color="#dbdbdb" stop-opacity="0.685"/><stop offset="0.4" stop-color="#dbdbdb" stop-opacity="0.511"/><stop offset="0.5" stop-color="#dbdbdb" stop-opacity="0.35"/><stop offset="0.6" stop-color="#dbdbdb" stop-opacity="0.22"/><stop offset="0.7" stop-color="#dbdbdb" stop-opacity="0.128"/><stop offset="0.8" stop-color="#dbdbdb" stop-opacity="0.068"/><stop offset="0.9" stop-color="#dbdbdb" stop-opacity="0.033"/><stop offset="1" stop-color="#dbdbdb" stop-opacity="0"/></radialGradient><radialGradient id="g128"><stop offset="0" stop-color="#ededed" stop-opacity="1"/><stop offset="0.1" stop-color="#ededed" stop-opacity="0.959"/><stop offset="0.2" stop-color="#ededed" stop-opacity="0.845"/><stop offset="0.3" stop-color="#ededed" stop-opacity="0.685"/><stop offset="0.4" stop-color="#ededed" stop-opacity="0.511"/><stop offset="0.5" stop-color="#ededed" stop-opacity="0.35"/><stop offset="0.6" stop-color="#ededed" stop-opacity="0.22"/><stop offset="0.7" stop-color="#ededed" stop-opacity="0.128"/><stop offset="0.8" stop-color="#ededed" stop-opacity="0.068"/><stop offset="0.9" stop-color="#ededed" stop-opacity="0.033"/><stop offset="1" stop-color="#ededed" stop-opacity="0"/></radialGradient><radialGradient id="g129"><stop offset="0" stop-color="#ebebeb" stop-opacity="1"/><stop offset="0.1" stop-color="#ebebeb" stop-opacity="0.959"/><stop offset="0.2" stop-color="#ebebeb" stop-opacity="0.845"/><stop offset="0.3" stop-color="#ebebeb" stop-opacity="0.685"/><stop offset="0.4" stop-color="#ebebeb" stop-opacity="0.511"/><stop offset="0.5" stop-color="#ebebeb" stop-opacity="0.35"/><stop offset="0.6" stop-color="#ebebeb" stop-opacity="0.22"/><stop offset="0.7" stop-color="#ebebeb" stop-opacity="0.128"/><stop offset="0.8" stop-color="#ebebeb" stop-opacity="0.068"/><stop offset="0.9" stop-color="#ebebeb" stop-opacity="0.033"/><stop offset="1" stop-color="#ebebeb" stop-opacity="0"/></radialGradient><radialGradient id="g130"><stop offset="0" stop-color="#d9d9d9" stop-opacity="1"/><stop offset="0.1" stop-color="#d9d9d9" stop-opacity="0.959"/><stop offset="0.2" stop-color="#d9d9d9" stop-opacity="0.845"/><stop offset="0.3" stop-color="#d9d9d9" stop-opacity="0.685"/><stop offset="0.4" stop-color="#d9d9d9" stop-opacity="0.511"/><stop offset="0.5" stop-color="#d9d9d9" stop-opacity="0.35"/><stop offset="0.6" stop-color="#d9d9d9" stop-opacity="0.22"/><stop offset="0.7" stop-color="#d9d9d9" stop-opacity="0.128"/><stop offset="0.8" stop-color="#d9d9d9" stop-opacity="0.068"/><stop offset="0.9" stop-color="#d9d9d9" stop-opacity="0.033"/><stop offset="1" stop-color="#d9d9d9" stop-opacity="0"/></radialGradient><radialGradient id="g131"><stop offset="0" stop-color="#cccccc" stop-opacity="1"/><stop offset="0.1" stop-color="#cccccc" stop-opacity="0.959"/><stop offset="0.2" stop-color="#cccccc" stop-opacity="0.845"/><stop offset="0.3" stop-color="#cccccc" stop-opacity="0.685"/><stop offset="0.4" stop-color="#cccccc" stop-opacity="0.511"/><stop offset="0.5" stop-color="#cccccc" stop-opacity="0.35"/><stop offset="0.6" stop-color="#cccccc" stop-opacity="0.22"/><stop offset="0.7" stop-color="#cccccc" stop-opacity="0.128"/><stop offset="0.8" stop-color="#cccccc" stop-opacity="0.068"/><stop offset="0.9" stop-color="#cccccc" stop-opacity="0.033"/><stop offset="1" stop-color="#cccccc" stop-opacity="0"/></radialGradient>
<linearGradient id="c3bg" x1="0" y1="0" x2="0" y2="1"><stop offset="0" stop-color="#0b0b0b"/><stop offset="1" stop-color="#0b0b0b"/></linearGradient><radialGradient id="g132"><stop offset="0" stop-color="#595959" stop-opacity="1"/><stop offset="0.1" stop-color="#595959" stop-opacity="0.959"/><stop offset="0.2" stop-color="#595959" stop-opacity="0.845"/><stop offset="0.3" stop-color="#595959" stop-opacity="0.685"/><stop offset="0.4" stop-color="#595959" stop-opacity="0.511"/><stop offset="0.5" stop-color="#595959" stop-opacity="0.35"/><stop offset="0.6" stop-color="#595959" stop-opacity="0.22"/><stop offset="0.7" stop-color="#595959" stop-opacity="0.128"/><stop offset="0.8" stop-color="#595959" stop-opacity="0.068"/><stop offset="0.9" stop-color="#595959" stop-opacity="0.033"/><stop offset="1" stop-color="#595959" stop-opacity="0"/></radialGradient><radialGradient id="g133"><stop offset="0" stop-color="#c2c2c2" stop-opacity="1"/><stop offset="0.1" stop-color="#c2c2c2" stop-opacity="0.959"/><stop offset="0.2" stop-color="#c2c2c2" stop-opacity="0.845"/><stop offset="0.3" stop-color="#c2c2c2" stop-opacity="0.685"/><stop offset="0.4" stop-color="#c2c2c2" stop-opacity="0.511"/><stop offset="0.5" stop-color="#c2c2c2" stop-opacity="0.35"/><stop offset="0.6" stop-color="#c2c2c2" stop-opacity="0.22"/><stop offset="0.7" stop-color="#c2c2c2" stop-opacity="0.128"/><stop offset="0.8" stop-color="#c2c2c2" stop-opacity="0.068"/><stop offset="0.9" stop-color="#c2c2c2" stop-opacity="0.033"/><stop offset="1" stop-color="#c2c2c2" stop-opacity="0"/></radialGradient><radialGradient id="g134"><stop offset="0" stop-color="#a8a8a8" stop-opacity="1"/><stop offset="0.1" stop-color="#a8a8a8" stop-opacity="0.959"/><stop offset="0.2" stop-color="#a8a8a8" stop-opacity="0.845"/><stop offset="0.3" stop-color="#a8a8a8" stop-opacity="0.685"/><stop offset="0.4" stop-color="#a8a8a8" stop-opacity="0.511"/><stop offset="0.5" stop-color="#a8a8a8" stop-opacity="0.35"/><stop offset="0.6" stop-color="#a8a8a8" stop-opacity="0.22"/><stop offset="0.7" stop-color="#a8a8a8" stop-opacity="0.128"/><stop offset="0.8" stop-color="#a8a8a8" stop-opacity="0.068"/><stop offset="0.9" stop-color="#a8a8a8" stop-opacity="0.033"/><stop offset="1" stop-color="#a8a8a8" stop-opacity="0"/></radialGradient><radialGradient id="g135"><stop offset="0" stop-color="#f5f5f5" stop-opacity="1"/><stop offset="0.1" stop-color="#f5f5f5" stop-opacity="0.959"/><stop offset="0.2" stop-color="#f5f5f5" stop-opacity="0.845"/><stop offset="0.3" stop-color="#f5f5f5" stop-opacity="0.685"/><stop offset="0.4" stop-color="#f5f5f5" stop-opacity="0.511"/><stop offset="0.5" stop-color="#f5f5f5" stop-opacity="0.35"/><stop offset="0.6" stop-color="#f5f5f5" stop-opacity="0.22"/><stop offset="0.7" stop-color="#f5f5f5" stop-opacity="0.128"/><stop offset="0.8" stop-color="#f5f5f5" stop-opacity="0.068"/><stop offset="0.9" stop-color="#f5f5f5" stop-opacity="0.033"/><stop offset="1" stop-color="#f5f5f5" stop-opacity="0"/></radialGradient><radialGradient id="g136"><stop offset="0" stop-color="#b8b8b8" stop-opacity="1"/><stop offset="0.1" stop-color="#b8b8b8" stop-opacity="0.959"/><stop offset="0.2" stop-color="#b8b8b8" stop-opacity="0.845"/><stop offset="0.3" stop-color="#b8b8b8" stop-opacity="0.685"/><stop offset="0.4" stop-color="#b8b8b8" stop-opacity="0.511"/><stop offset="0.5" stop-color="#b8b8b8" stop-opacity="0.35"/><stop offset="0.6" stop-color="#b8b8b8" stop-opacity="0.22"/><stop offset="0.7" stop-color="#b8b8b8" stop-opacity="0.128"/><stop offset="0.8" stop-color="#b8b8b8" stop-opacity="0.068"/><stop offset="0.9" stop-color="#b8b8b8" stop-opacity="0.033"/><stop offset="1" stop-color="#b8b8b8" stop-opacity="0"/></radialGradient><radialGradient id="g137"><stop offset="0" stop-color="#404040" stop-opacity="1"/><stop offset="0.1" stop-color="#404040" stop-opacity="0.959"/><stop offset="0.2" stop-color="#404040" stop-opacity="0.845"/><stop offset="0.3" stop-color="#404040" stop-opacity="0.685"/><stop offset="0.4" stop-color="#404040" stop-opacity="0.511"/><stop offset="0.5" stop-color="#404040" stop-opacity="0.35"/><stop offset="0.6" stop-color="#404040" stop-opacity="0.22"/><stop offset="0.7" stop-color="#404040" stop-opacity="0.128"/><stop offset="0.8" stop-color="#404040" stop-opacity="0.068"/><stop offset="0.9" stop-color="#404040" stop-opacity="0.033"/><stop offset="1" stop-color="#404040" stop-opacity="0"/></radialGradient><radialGradient id="g138"><stop offset="0" stop-color="#212121" stop-opacity="1"/><stop offset="0.1" stop-color="#212121" stop-opacity="0.959"/><stop offset="0.2" stop-color="#212121" stop-opacity="0.845"/><stop offset="0.3" stop-color="#212121" stop-opacity="0.685"/><stop offset="0.4" stop-color="#212121" stop-opacity="0.511"/><stop offset="0.5" stop-color="#212121" stop-opacity="0.35"/><stop offset="0.6" stop-color="#212121" stop-opacity="0.22"/><stop offset="0.7" stop-color="#212121" stop-opacity="0.128"/><stop offset="0.8" stop-color="#212121" stop-opacity="0.068"/><stop offset="0.9" stop-color="#212121" stop-opacity="0.033"/><stop offset="1" stop-color="#212121" stop-opacity="0"/></radialGradient>
</defs>
<rect width="685" height="811" fill="#fff"/>
<g id="a1">
<svg x="41.4" y="22.5" width="147.2" height="199.9" viewBox="0 0 360 180" preserveAspectRatio="none">
<g filter="url(#jet)"><rect x="-5" y="-5" width="370" height="190" fill="#121212"/><rect x="0" y="0" width="360" height="180" fill="url(#a1bg)"/><ellipse cx="20" cy="118" rx="69.56" ry="63.76" fill="url(#g1)"/><ellipse cx="203" cy="108" rx="63.76" ry="57.97" fill="url(#g2)"/><ellipse cx="150" cy="95" rx="57.97" ry="57.97" fill="url(#g3)"/><ellipse cx="160" cy="126" rx="52.17" ry="34.78" fill="url(#g4)"/><ellipse cx="335" cy="72" rx="52.17" ry="57.97" fill="url(#g3)"/><ellipse cx="345" cy="125" rx="52.17" ry="52.17" fill="url(#g5)"/><ellipse cx="262" cy="86" rx="40.58" ry="17.39" fill="url(#g4)"/><ellipse cx="200" cy="158" rx="231.86" ry="17.39" fill="url(#g6)"/><ellipse cx="30" cy="90" rx="28.98" ry="26.08" fill="url(#g7)"/><ellipse cx="188" cy="129" rx="26.08" ry="23.19" fill="url(#g8)"/><ellipse cx="121" cy="27" rx="57.97" ry="17.39" fill="url(#g9)"/><ellipse rx="15.37" ry="32.03" fill="url(#g10)" transform="translate(92 35.5) scale(2.45 0.9) rotate(-29)"/><ellipse rx="15.37" ry="32.03" fill="url(#g10)" transform="translate(149 34.5) scale(2.45 0.9) rotate(29)"/><ellipse cx="121" cy="53.5" rx="30.43" ry="20.29" fill="url(#g11)"/><ellipse cx="221" cy="72.5" rx="23.19" ry="24.64" fill="url(#g11)"/><ellipse cx="265" cy="62.7" rx="24.87" ry="24.07" fill="url(#g12)"/><ellipse cx="310.5" cy="103.5" rx="34.78" ry="36.23" fill="url(#g13)"/><ellipse cx="285.5" cy="142" rx="23.19" ry="15.94" fill="url(#g14)"/><ellipse rx="10.64" ry="27.22" fill="url(#g15)" transform="translate(91 76) scale(2.45 0.9) rotate(5)"/><ellipse rx="10.05" ry="25.62" fill="url(#g16)" transform="translate(86 89) scale(2.45 0.9) rotate(5)"/><ellipse cx="78" cy="103.5" rx="25.54" ry="24.69" fill="url(#g17)"/><ellipse cx="250" cy="113.5" rx="27.63" ry="30.26" fill="url(#g18)"/><ellipse cx="294" cy="46.6" rx="49.27" ry="33.33" fill="url(#g19)"/><ellipse cx="294" cy="47.3" rx="17.57" ry="10.89" fill="url(#g20)"/><ellipse cx="294" cy="39.5" rx="9.98" ry="4.28" fill="url(#g21)"/><ellipse cx="294" cy="72" rx="29.08" ry="25.25" fill="url(#g22)"/><ellipse cx="294" cy="70.8" rx="17.43" ry="14.81" fill="url(#g23)"/><ellipse cx="296.5" cy="70" rx="17.82" ry="14.97" fill="url(#g24)"/><ellipse cx="128" cy="140" rx="30.31" ry="19.29" fill="url(#g25)"/><ellipse cx="125.8" cy="141.5" rx="11.5" ry="7" fill="none" stroke="#797979" stroke-width="5.5"/><ellipse cx="125.8" cy="141.5" rx="9" ry="5.5" fill="#858585" fill-opacity="0.8"/></g>
</svg>
<path class="g" d="M66.5 22.5V222.4M90.5 22.5V222.4M115.5 22.5V222.4M139.5 22.5V222.4M163.5 22.5V222.4M41.4 45.5H188.6M41.4 67.5H188.6M41.4 89.5H188.6M41.4 111.5H188.6M41.4 133.5H188.6M41.4 155.5H188.6M41.4 177.5H188.6M41.4 199.5H188.6"/>
<rect class="g" x="41.4" y="22.5" width="147.2" height="199.9" style="stroke-width:0.9"/>
<g filter="url(#soft)">
<text x="39.5" y="233.9" class="k" textLength="6" lengthAdjust="spacingAndGlyphs">0</text>
<text x="60.47" y="233.9" class="k" textLength="12.7" lengthAdjust="spacingAndGlyphs">60</text>
<text x="81.48" y="233.9" class="k" textLength="19.3" lengthAdjust="spacingAndGlyphs">120</text>
<text x="105.8" y="233.9" class="k" textLength="19.3" lengthAdjust="spacingAndGlyphs">180</text>
<text x="130.12" y="233.9" class="k" textLength="19.3" lengthAdjust="spacingAndGlyphs">240</text>
<text x="154.43" y="233.9" class="k" textLength="19.3" lengthAdjust="spacingAndGlyphs">300</text>
<text x="178.75" y="233.9" class="k" textLength="19.3" lengthAdjust="spacingAndGlyphs">360</text>
<clipPath id="cta1"><rect x="1.4" y="21.4" width="40" height="219.9"/></clipPath><g clip-path="url(#cta1)">
<text x="33.2" y="27.5" class="k" textLength="6" lengthAdjust="spacingAndGlyphs">0</text>
<text x="26.5" y="49.51" class="k" textLength="12.7" lengthAdjust="spacingAndGlyphs">20</text>
<text x="26.5" y="71.52" class="k" textLength="12.7" lengthAdjust="spacingAndGlyphs">40</text>
<text x="26.5" y="93.53" class="k" textLength="12.7" lengthAdjust="spacingAndGlyphs">60</text>
<text x="26.5" y="115.54" class="k" textLength="12.7" lengthAdjust="spacingAndGlyphs">80</text>
<text x="19.9" y="137.56" class="k" textLength="19.3" lengthAdjust="spacingAndGlyphs">100</text>
<text x="19.9" y="159.57" class="k" textLength="19.3" lengthAdjust="spacingAndGlyphs">120</text>
<text x="19.9" y="181.58" class="k" textLength="19.3" lengthAdjust="spacingAndGlyphs">140</text>
<text x="19.9" y="203.59" class="k" textLength="19.3" lengthAdjust="spacingAndGlyphs">160</text>
<text x="19.9" y="225.6" class="k" textLength="19.3" lengthAdjust="spacingAndGlyphs">180</text>
</g></g>
<rect x="197.1" y="22.5" width="11" height="199.9" fill="url(#cb)"/>
<rect x="197.1" y="22.5" width="11" height="199.9" fill="none" stroke="#222" stroke-width="0.5" stroke-opacity="0.55"/>
<g filter="url(#soft)">
<clipPath id="cla1"><rect x="208.1" y="16.5" width="14.3" height="213.9"/></clipPath>
<text x="209.5" y="226.6" class="k" textLength="6" lengthAdjust="spacingAndGlyphs" clip-path="url(#cla1)">0</text>
<text x="209.5" y="186.62" class="k" textLength="15.2" lengthAdjust="spacingAndGlyphs" clip-path="url(#cla1)">0.2</text>
<text x="209.5" y="146.64" class="k" textLength="15.2" lengthAdjust="spacingAndGlyphs" clip-path="url(#cla1)">0.4</text>
<text x="209.5" y="106.66" class="k" textLength="15.2" lengthAdjust="spacingAndGlyphs" clip-path="url(#cla1)">0.6</text>
<text x="209.5" y="66.68" class="k" textLength="15.2" lengthAdjust="spacingAndGlyphs" clip-path="url(#cla1)">0.8</text>
<text x="209.5" y="26.7" class="k" textLength="6" lengthAdjust="spacingAndGlyphs" clip-path="url(#cla1)">1</text>
</g>
<path class="g" d="M208.1 222.4h-2.4M197.1 222.4h2.4M208.1 182.42h-2.4M197.1 182.42h2.4M208.1 142.44h-2.4M197.1 142.44h2.4M208.1 102.46h-2.4M197.1 102.46h2.4M208.1 62.48h-2.4M197.1 62.48h2.4M208.1 22.5h-2.4M197.1 22.5h2.4" style="stroke-width:0.5;stroke:#444"/>
<text class="s" font-size="15" y="13.1"><tspan x="62.3">B</tspan><tspan x="71.6" dy="2.8" font-size="12">r</tspan><tspan x="77.8" dy="-2.8">(Φ,</tspan><tspan x="100.6">Λ),</tspan><tspan x="121.8">Σ</tspan><tspan x="135.8" textLength="9.4" lengthAdjust="spacingAndGlyphs">=</tspan><tspan x="151.6">0</tspan></text>
<text class="l" style="font-size:13.27px" transform="translate(11.2 143.5) rotate(-90)" x="-69.45" y="0" textLength="138.9" lengthAdjust="spacingAndGlyphs">Spherical colatitude [°]</text>
<text x="40.5" y="255.4" class="l" textLength="137" lengthAdjust="spacingAndGlyphs">Spherical longitude [°]</text>
<text x="6.4" y="26.7" font-size="21.5" font-weight="bold" fill="#111" textLength="17.4" lengthAdjust="spacingAndGlyphs">a)</text>
</g>
<g id="a2">
<svg x="270.6" y="22.4" width="147.5" height="200" viewBox="0 0 360 180" preserveAspectRatio="none">
<g filter="url(#jet)"><rect x="-5" y="-5" width="370" height="190" fill="#121212"/><rect x="0" y="0" width="360" height="180" fill="url(#a2bg)"/><ellipse cx="20" cy="118" rx="69.56" ry="63.76" fill="url(#g26)"/><ellipse cx="203" cy="108" rx="63.76" ry="57.97" fill="url(#g27)"/><ellipse cx="150" cy="95" rx="57.97" ry="57.97" fill="url(#g28)"/><ellipse cx="160" cy="126" rx="52.17" ry="34.78" fill="url(#g29)"/><ellipse cx="335" cy="72" rx="52.17" ry="57.97" fill="url(#g28)"/><ellipse cx="345" cy="125" rx="52.17" ry="52.17" fill="url(#g30)"/><ellipse cx="262" cy="86" rx="40.58" ry="17.39" fill="url(#g29)"/><ellipse cx="200" cy="158" rx="231.86" ry="17.39" fill="url(#g31)"/><ellipse cx="30" cy="90" rx="28.98" ry="26.08" fill="url(#g7)"/><ellipse cx="188" cy="129" rx="26.08" ry="23.19" fill="url(#g8)"/><ellipse cx="121" cy="27" rx="57.97" ry="17.39" fill="url(#g9)"/><ellipse rx="15.37" ry="32.03" fill="url(#g10)" transform="translate(92 35.5) scale(2.45 0.9) rotate(-29)"/><ellipse rx="15.37" ry="32.03" fill="url(#g10)" transform="translate(149 34.5) scale(2.45 0.9) rotate(29)"/><ellipse cx="121" cy="53.5" rx="30.43" ry="20.29" fill="url(#g11)"/><ellipse cx="221" cy="72.5" rx="23.19" ry="24.64" fill="url(#g11)"/><ellipse cx="265" cy="62.7" rx="24.87" ry="24.07" fill="url(#g32)"/><ellipse cx="310.5" cy="103.5" rx="34.78" ry="36.23" fill="url(#g13)"/><ellipse cx="285.5" cy="142" rx="23.19" ry="15.94" fill="url(#g14)"/><ellipse rx="10.64" ry="27.22" fill="url(#g15)" transform="translate(91 76) scale(2.45 0.9) rotate(5)"/><ellipse rx="10.05" ry="25.62" fill="url(#g16)" transform="translate(86 89) scale(2.45 0.9) rotate(5)"/><ellipse cx="78" cy="103.5" rx="25.54" ry="24.69" fill="url(#g17)"/><ellipse cx="250" cy="113.5" rx="27.63" ry="30.26" fill="url(#g18)"/><ellipse cx="296" cy="44" rx="52.17" ry="31.88" fill="url(#g33)"/><path d="M287.25 37.41A17.5 10.5 0 0 1 313.23 48.32" fill="none" stroke="#6b6b6b" stroke-width="1.6" vector-effect="non-scaling-stroke" stroke-linecap="round" stroke-opacity="0.8"/><ellipse cx="295.4" cy="47.2" rx="17.19" ry="10.51" fill="url(#g34)"/><ellipse cx="295.4" cy="40.5" rx="14.26" ry="4.99" fill="url(#g35)"/><ellipse cx="296" cy="72" rx="32.14" ry="25.25" fill="url(#g22)"/><path d="M302.47 56.28A16 13 0 0 1 305 79.76" fill="none" stroke="#5e5e5e" stroke-width="3" vector-effect="non-scaling-stroke" stroke-linecap="round"/><path d="M299 82.69A14 13.5 0 0 1 287.21 83.69" fill="none" stroke="#666666" stroke-width="1.6" vector-effect="non-scaling-stroke" stroke-linecap="round"/><ellipse cx="290" cy="71" rx="16.33" ry="15.09" fill="url(#g36)"/><ellipse cx="293" cy="70" rx="11.48" ry="15.31" fill="url(#g37)"/><ellipse cx="297" cy="57.8" rx="10.16" ry="4.47" fill="url(#g38)"/><ellipse cx="128" cy="140" rx="30.31" ry="19.29" fill="url(#g25)"/><ellipse cx="125.8" cy="141.5" rx="11.5" ry="7" fill="none" stroke="#797979" stroke-width="5.5"/><ellipse cx="125.8" cy="141.5" rx="9" ry="5.5" fill="#858585" fill-opacity="0.8"/></g>
</svg>
<path class="g" d="M295.5 22.4V222.4M320.5 22.4V222.4M344.5 22.4V222.4M368.5 22.4V222.4M393.5 22.4V222.4M270.6 45.5H418.1M270.6 67.5H418.1M270.6 89.5H418.1M270.6 111.5H418.1M270.6 133.5H418.1M270.6 155.5H418.1M270.6 177.5H418.1M270.6 199.5H418.1"/>
<rect class="g" x="270.6" y="22.4" width="147.5" height="200" style="stroke-width:0.9"/>
<g filter="url(#soft)">
<text x="268.7" y="233.9" class="k" textLength="6" lengthAdjust="spacingAndGlyphs">0</text>
<text x="289.72" y="233.9" class="k" textLength="12.7" lengthAdjust="spacingAndGlyphs">60</text>
<text x="310.78" y="233.9" class="k" textLength="19.3" lengthAdjust="spacingAndGlyphs">120</text>
<text x="335.15" y="233.9" class="k" textLength="19.3" lengthAdjust="spacingAndGlyphs">180</text>
<text x="359.52" y="233.9" class="k" textLength="19.3" lengthAdjust="spacingAndGlyphs">240</text>
<text x="383.88" y="233.9" class="k" textLength="19.3" lengthAdjust="spacingAndGlyphs">300</text>
<text x="408.25" y="233.9" class="k" textLength="19.3" lengthAdjust="spacingAndGlyphs">360</text>
<clipPath id="cta2"><rect x="230.6" y="21.3" width="40" height="220"/></clipPath><g clip-path="url(#cta2)">
<text x="262.4" y="27.4" class="k" textLength="6" lengthAdjust="spacingAndGlyphs">0</text>
<text x="255.7" y="49.42" class="k" textLength="12.7" lengthAdjust="spacingAndGlyphs">20</text>
<text x="255.7" y="71.44" class="k" textLength="12.7" lengthAdjust="spacingAndGlyphs">40</text>
<text x="255.7" y="93.47" class="k" textLength="12.7" lengthAdjust="spacingAndGlyphs">60</text>
<text x="255.7" y="115.49" class="k" textLength="12.7" lengthAdjust="spacingAndGlyphs">80</text>
<text x="249.1" y="137.51" class="k" textLength="19.3" lengthAdjust="spacingAndGlyphs">100</text>
<text x="249.1" y="159.53" class="k" textLength="19.3" lengthAdjust="spacingAndGlyphs">120</text>
<text x="249.1" y="181.56" class="k" textLength="19.3" lengthAdjust="spacingAndGlyphs">140</text>
<text x="249.1" y="203.58" class="k" textLength="19.3" lengthAdjust="spacingAndGlyphs">160</text>
<text x="249.1" y="225.6" class="k" textLength="19.3" lengthAdjust="spacingAndGlyphs">180</text>
</g></g>
<rect x="425.7" y="22.4" width="11.3" height="200" fill="url(#cb)"/>
<rect x="425.7" y="22.4" width="11.3" height="200" fill="none" stroke="#222" stroke-width="0.5" stroke-opacity="0.55"/>
<g filter="url(#soft)">
<clipPath id="cla2"><rect x="437" y="16.4" width="14.3" height="214"/></clipPath>
<text x="438.4" y="226.6" class="k" textLength="6" lengthAdjust="spacingAndGlyphs" clip-path="url(#cla2)">0</text>
<text x="438.4" y="186.6" class="k" textLength="15.2" lengthAdjust="spacingAndGlyphs" clip-path="url(#cla2)">0.2</text>
<text x="438.4" y="146.6" class="k" textLength="15.2" lengthAdjust="spacingAndGlyphs" clip-path="url(#cla2)">0.4</text>
<text x="438.4" y="106.6" class="k" textLength="15.2" lengthAdjust="spacingAndGlyphs" clip-path="url(#cla2)">0.6</text>
<text x="438.4" y="66.6" class="k" textLength="15.2" lengthAdjust="spacingAndGlyphs" clip-path="url(#cla2)">0.8</text>
<text x="438.4" y="26.6" class="k" textLength="6" lengthAdjust="spacingAndGlyphs" clip-path="url(#cla2)">1</text>
</g>
<path class="g" d="M437 222.4h-2.4M425.7 222.4h2.4M437 182.4h-2.4M425.7 182.4h2.4M437 142.4h-2.4M425.7 142.4h2.4M437 102.4h-2.4M425.7 102.4h2.4M437 62.4h-2.4M425.7 62.4h2.4M437 22.4h-2.4M425.7 22.4h2.4" style="stroke-width:0.5;stroke:#444"/>
<text class="s" font-size="15" y="13.1"><tspan x="288.4">B</tspan><tspan x="297.7" dy="2.8" font-size="12">r</tspan><tspan x="303.9" dy="-2.8">(Φ,</tspan><tspan x="326.7">Λ),</tspan><tspan x="347.9">Σ</tspan><tspan x="361.9" textLength="9.4" lengthAdjust="spacingAndGlyphs">=</tspan><tspan x="377.7">0.1</tspan></text>
<text class="l" style="font-size:13.92px" transform="translate(242 143.7) rotate(-90)" x="-72.8" y="0" textLength="145.6" lengthAdjust="spacingAndGlyphs">Spherical colatitude [°]</text>
<text x="271.1" y="255.3" class="l" textLength="137.5" lengthAdjust="spacingAndGlyphs">Spherical longitude [°]</text>
</g>
<g id="a3">
<svg x="500.7" y="22.4" width="147.6" height="200" viewBox="0 0 360 180" preserveAspectRatio="none">
<g filter="url(#jet)"><rect x="-5" y="-5" width="370" height="190" fill="#121212"/><rect x="0" y="0" width="360" height="180" fill="url(#a3bg)"/><ellipse cx="20" cy="118" rx="69.56" ry="63.76" fill="url(#g39)"/><ellipse cx="203" cy="108" rx="63.76" ry="57.97" fill="url(#g40)"/><ellipse cx="150" cy="95" rx="57.97" ry="57.97" fill="url(#g41)"/><ellipse cx="160" cy="126" rx="52.17" ry="34.78" fill="url(#g42)"/><ellipse cx="335" cy="72" rx="52.17" ry="57.97" fill="url(#g41)"/><ellipse cx="345" cy="125" rx="52.17" ry="52.17" fill="url(#g43)"/><ellipse cx="262" cy="86" rx="40.58" ry="17.39" fill="url(#g42)"/><ellipse cx="200" cy="158" rx="231.86" ry="17.39" fill="url(#g44)"/><ellipse cx="30" cy="90" rx="28.98" ry="26.08" fill="url(#g45)"/><ellipse cx="188" cy="129" rx="26.08" ry="23.19" fill="url(#g46)"/><ellipse cx="121" cy="27" rx="57.97" ry="17.39" fill="url(#g47)"/><ellipse rx="15.37" ry="32.03" fill="url(#g48)" transform="translate(92 35.5) scale(2.45 0.9) rotate(-29)"/><ellipse rx="15.37" ry="32.03" fill="url(#g48)" transform="translate(149 34.5) scale(2.45 0.9) rotate(29)"/><ellipse cx="121" cy="53.5" rx="30.43" ry="20.29" fill="url(#g49)"/><ellipse cx="221" cy="72.5" rx="23.19" ry="24.64" fill="url(#g49)"/><ellipse cx="310.5" cy="103.5" rx="34.78" ry="36.23" fill="url(#g50)"/><ellipse cx="285.5" cy="142" rx="23.19" ry="15.94" fill="url(#g51)"/><ellipse rx="10.64" ry="27.22" fill="url(#g14)" transform="translate(91 76) scale(2.45 0.9) rotate(5)"/><ellipse rx="10.05" ry="25.62" fill="url(#g52)" transform="translate(86 89) scale(2.45 0.9) rotate(5)"/><ellipse cx="78" cy="103.5" rx="25.54" ry="24.69" fill="url(#g53)"/><ellipse cx="250" cy="113.5" rx="27.63" ry="30.26" fill="url(#g54)"/><ellipse cx="300.8" cy="44.1" rx="19.56" ry="13.97" fill="url(#g55)"/><ellipse cx="299.3" cy="45.3" rx="18.39" ry="13.39" fill="url(#g56)"/><ellipse cx="300.8" cy="44.8" rx="18.8" ry="13.61" fill="url(#g57)"/><path d="M287.38 38.6A15.5 11 0 0 1 298.11 33.27" fill="none" stroke="#0a0a0a" stroke-width="1.6" vector-effect="non-scaling-stroke" stroke-linecap="round"/><ellipse cx="300" cy="52" rx="20.29" ry="11.59" fill="url(#g58)"/><ellipse cx="265.4" cy="61.7" rx="17.07" ry="17.32" fill="url(#g59)"/><ellipse cx="297" cy="69.2" rx="17.91" ry="16.72" fill="url(#g60)"/><ellipse cx="295.4" cy="69.2" rx="17.91" ry="16.72" fill="url(#g61)"/><ellipse cx="296" cy="69.5" rx="17.11" ry="16.4" fill="url(#g62)"/><ellipse cx="289" cy="62" rx="11.59" ry="7.25" fill="url(#g63)"/><ellipse cx="134" cy="137.5" rx="16.96" ry="12.13" fill="url(#g64)"/><ellipse cx="132" cy="139" rx="16.44" ry="11.74" fill="url(#g65)"/><ellipse cx="132.5" cy="139" rx="17.88" ry="12.77" fill="url(#g66)"/></g>
</svg>
<path class="g" d="M525.5 22.4V222.4M549.5 22.4V222.4M574.5 22.4V222.4M598.5 22.4V222.4M622.5 22.4V222.4M500.7 45.5H648.3M500.7 67.5H648.3M500.7 89.5H648.3M500.7 111.5H648.3M500.7 133.5H648.3M500.7 155.5H648.3M500.7 177.5H648.3M500.7 199.5H648.3"/>
<rect class="g" x="500.7" y="22.4" width="147.6" height="200" style="stroke-width:0.9"/>
<g filter="url(#soft)">
<text x="498.2" y="233.9" class="k" textLength="6" lengthAdjust="spacingAndGlyphs">0</text>
<text x="519.23" y="233.9" class="k" textLength="12.7" lengthAdjust="spacingAndGlyphs">60</text>
<text x="540.32" y="233.9" class="k" textLength="19.3" lengthAdjust="spacingAndGlyphs">120</text>
<text x="564.7" y="233.9" class="k" textLength="19.3" lengthAdjust="spacingAndGlyphs">180</text>
<text x="589.08" y="233.9" class="k" textLength="19.3" lengthAdjust="spacingAndGlyphs">240</text>
<text x="613.47" y="233.9" class="k" textLength="19.3" lengthAdjust="spacingAndGlyphs">300</text>
<text x="637.85" y="233.9" class="k" textLength="19.3" lengthAdjust="spacingAndGlyphs">360</text>
<clipPath id="cta3"><rect x="460.7" y="21.3" width="40" height="220"/></clipPath><g clip-path="url(#cta3)">
<text x="492.5" y="27.4" class="k" textLength="6" lengthAdjust="spacingAndGlyphs">0</text>
<text x="485.8" y="49.42" class="k" textLength="12.7" lengthAdjust="spacingAndGlyphs">20</text>
<text x="485.8" y="71.44" class="k" textLength="12.7" lengthAdjust="spacingAndGlyphs">40</text>
<text x="485.8" y="93.47" class="k" textLength="12.7" lengthAdjust="spacingAndGlyphs">60</text>
<text x="485.8" y="115.49" class="k" textLength="12.7" lengthAdjust="spacingAndGlyphs">80</text>
<text x="479.2" y="137.51" class="k" textLength="19.3" lengthAdjust="spacingAndGlyphs">100</text>
<text x="479.2" y="159.53" class="k" textLength="19.3" lengthAdjust="spacingAndGlyphs">120</text>
<text x="479.2" y="181.56" class="k" textLength="19.3" lengthAdjust="spacingAndGlyphs">140</text>
<text x="479.2" y="203.58" class="k" textLength="19.3" lengthAdjust="spacingAndGlyphs">160</text>
<text x="479.2" y="225.6" class="k" textLength="19.3" lengthAdjust="spacingAndGlyphs">180</text>
</g></g>
<rect x="656.5" y="22.4" width="10.7" height="200" fill="url(#cb)"/>
<rect x="656.5" y="22.4" width="10.7" height="200" fill="none" stroke="#222" stroke-width="0.5" stroke-opacity="0.55"/>
<g filter="url(#soft)">
<text x="668.6" y="226.6" class="k" textLength="6" lengthAdjust="spacingAndGlyphs">0</text>
<text x="668.6" y="186.6" class="k" textLength="15.2" lengthAdjust="spacingAndGlyphs">0.2</text>
<text x="668.6" y="146.6" class="k" textLength="15.2" lengthAdjust="spacingAndGlyphs">0.4</text>
<text x="668.6" y="106.6" class="k" textLength="15.2" lengthAdjust="spacingAndGlyphs">0.6</text>
<text x="668.6" y="66.6" class="k" textLength="15.2" lengthAdjust="spacingAndGlyphs">0.8</text>
<text x="668.6" y="26.6" class="k" textLength="6" lengthAdjust="spacingAndGlyphs">1</text>
</g>
<path class="g" d="M667.2 222.4h-2.4M656.5 222.4h2.4M667.2 182.4h-2.4M656.5 182.4h2.4M667.2 142.4h-2.4M656.5 142.4h2.4M667.2 102.4h-2.4M656.5 102.4h2.4M667.2 62.4h-2.4M656.5 62.4h2.4M667.2 22.4h-2.4M656.5 22.4h2.4" style="stroke-width:0.5;stroke:#444"/>
<text class="s" font-size="15" y="13.1"><tspan x="519.1">B</tspan><tspan x="528.4" dy="2.8" font-size="12">r</tspan><tspan x="534.6" dy="-2.8">(Φ,</tspan><tspan x="557.4">Λ),</tspan><tspan x="578.6">Σ</tspan><tspan x="592.6" textLength="9.4" lengthAdjust="spacingAndGlyphs">=</tspan><tspan x="608.4">0.2</tspan></text>
<text class="l" style="font-size:13.97px" transform="translate(472 141.9) rotate(-90)" x="-73.1" y="0" textLength="146.2" lengthAdjust="spacingAndGlyphs">Spherical colatitude [°]</text>
<text x="501.9" y="255.2" class="l" textLength="137" lengthAdjust="spacingAndGlyphs">Spherical longitude [°]</text>
</g>
<g id="b1">
<svg x="43.6" y="300.2" width="147.1" height="198.2" viewBox="0 0 360 180" preserveAspectRatio="none">
<g filter="url(#jet)"><rect x="-5" y="-5" width="370" height="190" fill="#000000"/><rect x="0" y="0" width="360" height="180" fill="url(#b1bg)"/><ellipse cx="300" cy="11.8" rx="127.68" ry="5.79" fill="url(#g67)"/><ellipse cx="12" cy="11.8" rx="56.92" ry="4.27" fill="url(#g68)"/><ellipse cx="122" cy="8" rx="115.93" ry="14.49" fill="url(#g69)"/><ellipse cx="330" cy="176" rx="142.3" ry="14.23" fill="url(#g70)"/><ellipse cx="127" cy="170" rx="110.13" ry="17.39" fill="url(#g71)"/><ellipse cx="127" cy="159" rx="37.68" ry="23.19" fill="url(#g72)"/><ellipse cx="127" cy="150" rx="23.19" ry="14.49" fill="url(#g73)"/><ellipse cx="70" cy="65" rx="40.58" ry="28.98" fill="url(#g74)"/><ellipse cx="340" cy="65" rx="40.58" ry="34.78" fill="url(#g75)"/><ellipse cx="280" cy="142" rx="20.29" ry="14.49" fill="url(#g76)"/><ellipse cx="160" cy="100" rx="34.78" ry="34.78" fill="url(#g77)"/><ellipse cx="119" cy="26" rx="42.69" ry="13.21" fill="url(#g78)"/><ellipse cx="119" cy="31" rx="28.46" ry="15.25" fill="url(#g78)"/><ellipse cx="122" cy="51" rx="17.39" ry="23.19" fill="url(#g79)"/><ellipse cx="79" cy="104.3" rx="35.14" ry="37.48" fill="url(#g80)"/><ellipse cx="188" cy="116.5" rx="31.53" ry="31.53" fill="url(#g81)"/><ellipse cx="248" cy="113" rx="26.08" ry="26.08" fill="url(#g82)"/><ellipse cx="310" cy="102" rx="28.98" ry="30.43" fill="url(#g83)"/><ellipse cx="263" cy="63.5" rx="22.96" ry="22.19" fill="url(#g84)"/><ellipse cx="221" cy="71.5" rx="22.26" ry="21.08" fill="url(#g85)"/><ellipse cx="126.6" cy="139.8" rx="21.81" ry="13.97" fill="url(#g86)"/><ellipse cx="126.6" cy="139.8" rx="18.01" ry="11.48" fill="url(#g87)"/><ellipse cx="294" cy="46" rx="52.17" ry="33.33" fill="url(#g88)"/><ellipse cx="294" cy="47.3" rx="17.82" ry="10.89" fill="url(#g89)"/><ellipse cx="294" cy="39.8" rx="9.98" ry="4.28" fill="url(#g90)"/><ellipse cx="294" cy="72" rx="30.61" ry="24.49" fill="url(#g91)"/><ellipse cx="294" cy="70.6" rx="18.16" ry="14.67" fill="url(#g92)"/><ellipse cx="294" cy="76.5" rx="17.02" ry="11.07" fill="url(#g93)"/><ellipse cx="294" cy="69.8" rx="15.66" ry="13.83" fill="url(#g94)"/><ellipse cx="294" cy="68.5" rx="14.23" ry="15.25" fill="url(#g95)"/><ellipse cx="293" cy="57.8" rx="7.13" ry="2.28" fill="url(#g96)"/><rect x="-2" y="-2" width="364" height="4.1" fill="#000"/></g>
</svg>
<path class="g" d="M68.5 300.2V498.4M92.5 300.2V498.4M116.5 300.2V498.4M141.5 300.2V498.4M165.5 300.2V498.4M43.6 322.5H190.7M43.6 344.5H190.7M43.6 366.5H190.7M43.6 388.5H190.7M43.6 410.5H190.7M43.6 432.5H190.7M43.6 453.5H190.7M43.6 475.5H190.7"/>
<rect class="g" x="43.6" y="300.2" width="147.1" height="198.2" style="stroke-width:0.9"/>
<g filter="url(#soft)">
<text x="41.2" y="509.9" class="k" textLength="6" lengthAdjust="spacingAndGlyphs">0</text>
<text x="62.15" y="509.9" class="k" textLength="12.7" lengthAdjust="spacingAndGlyphs">60</text>
<text x="83.15" y="509.9" class="k" textLength="19.3" lengthAdjust="spacingAndGlyphs">120</text>
<text x="107.45" y="509.9" class="k" textLength="19.3" lengthAdjust="spacingAndGlyphs">180</text>
<text x="131.75" y="509.9" class="k" textLength="19.3" lengthAdjust="spacingAndGlyphs">240</text>
<text x="156.05" y="509.9" class="k" textLength="19.3" lengthAdjust="spacingAndGlyphs">300</text>
<text x="180.35" y="509.9" class="k" textLength="19.3" lengthAdjust="spacingAndGlyphs">360</text>
<clipPath id="ctb1"><rect x="3.6" y="299.1" width="40" height="218.2"/></clipPath><g clip-path="url(#ctb1)">
<text x="35.4" y="305.2" class="k" textLength="6" lengthAdjust="spacingAndGlyphs">0</text>
<text x="28.7" y="327.02" class="k" textLength="12.7" lengthAdjust="spacingAndGlyphs">20</text>
<text x="28.7" y="348.84" class="k" textLength="12.7" lengthAdjust="spacingAndGlyphs">40</text>
<text x="28.7" y="370.67" class="k" textLength="12.7" lengthAdjust="spacingAndGlyphs">60</text>
<text x="28.7" y="392.49" class="k" textLength="12.7" lengthAdjust="spacingAndGlyphs">80</text>
<text x="22.1" y="414.31" class="k" textLength="19.3" lengthAdjust="spacingAndGlyphs">100</text>
<text x="22.1" y="436.13" class="k" textLength="19.3" lengthAdjust="spacingAndGlyphs">120</text>
<text x="22.1" y="457.96" class="k" textLength="19.3" lengthAdjust="spacingAndGlyphs">140</text>
<text x="22.1" y="479.78" class="k" textLength="19.3" lengthAdjust="spacingAndGlyphs">160</text>
<text x="22.1" y="501.6" class="k" textLength="19.3" lengthAdjust="spacingAndGlyphs">180</text>
</g></g>
<rect x="199" y="300.2" width="10.3" height="198.2" fill="url(#cb)"/>
<rect x="199" y="300.2" width="10.3" height="198.2" fill="none" stroke="#222" stroke-width="0.5" stroke-opacity="0.55"/>
<g filter="url(#soft)">
<clipPath id="clb1"><rect x="209.3" y="294.2" width="14.3" height="212.2"/></clipPath>
<text x="210.7" y="502.6" class="k" textLength="6" lengthAdjust="spacingAndGlyphs" clip-path="url(#clb1)">0</text>
<text x="210.7" y="462.96" class="k" textLength="15.2" lengthAdjust="spacingAndGlyphs" clip-path="url(#clb1)">0.2</text>
<text x="210.7" y="423.32" class="k" textLength="15.2" lengthAdjust="spacingAndGlyphs" clip-path="url(#clb1)">0.4</text>
<text x="210.7" y="383.68" class="k" textLength="15.2" lengthAdjust="spacingAndGlyphs" clip-path="url(#clb1)">0.6</text>
<text x="210.7" y="344.04" class="k" textLength="15.2" lengthAdjust="spacingAndGlyphs" clip-path="url(#clb1)">0.8</text>
<text x="210.7" y="304.4" class="k" textLength="6" lengthAdjust="spacingAndGlyphs" clip-path="url(#clb1)">1</text>
</g>
<path class="g" d="M209.3 498.4h-2.4M199 498.4h2.4M209.3 458.76h-2.4M199 458.76h2.4M209.3 419.12h-2.4M199 419.12h2.4M209.3 379.48h-2.4M199 379.48h2.4M209.3 339.84h-2.4M199 339.84h2.4M209.3 300.2h-2.4M199 300.2h2.4" style="stroke-width:0.5;stroke:#444"/>
<text class="s" font-size="15" y="288.4"><tspan x="74">S</tspan><tspan x="80.9">V</tspan><tspan x="90.3" dy="2.8" font-size="12">r</tspan><tspan x="95.9" dy="-2.8">(Φ,</tspan><tspan x="119.2">Λ),</tspan><tspan x="140.9">Σ</tspan><tspan x="154.6" textLength="9.4" lengthAdjust="spacingAndGlyphs">=</tspan><tspan x="169.5">0</tspan></text>
<text class="l" style="font-size:13.35px" transform="translate(11.8 411.4) rotate(-90)" x="-69.85" y="0" textLength="139.7" lengthAdjust="spacingAndGlyphs">Spherical colatitude [°]</text>
<text x="40.5" y="532.3" class="l" textLength="137" lengthAdjust="spacingAndGlyphs">Spherical longitude [°]</text>
<text x="6.6" y="293.9" font-size="21.5" font-weight="bold" fill="#111" textLength="18.2" lengthAdjust="spacingAndGlyphs">b)</text>
</g>
<g id="b2">
<svg x="273" y="300.2" width="147.5" height="198.2" viewBox="0 0 360 180" preserveAspectRatio="none">
<g filter="url(#jet)"><rect x="-5" y="-5" width="370" height="190" fill="#8e8e8e"/><rect x="0" y="0" width="360" height="180" fill="url(#b2bg)"/><ellipse cx="120" cy="20" rx="63.76" ry="14.49" fill="url(#g97)"/><ellipse rx="9.46" ry="28.82" fill="url(#g76)" transform="translate(95 33) scale(2.45 0.9) rotate(-29)"/><ellipse rx="9.46" ry="28.82" fill="url(#g98)" transform="translate(145 30) scale(2.45 0.9) rotate(29)"/><ellipse cx="131" cy="42" rx="20.29" ry="23.19" fill="url(#g99)"/><ellipse cx="116" cy="54" rx="13.04" ry="17.39" fill="url(#g100)"/><ellipse cx="221" cy="65" rx="23.19" ry="26.08" fill="url(#g2)"/><ellipse cx="228" cy="83" rx="23.19" ry="20.29" fill="url(#g101)"/><ellipse cx="292" cy="104" rx="14.49" ry="37.68" fill="url(#g58)"/><ellipse cx="78" cy="108" rx="28.98" ry="52.17" fill="url(#g102)"/><ellipse cx="100" cy="150" rx="28.98" ry="17.39" fill="url(#g103)"/><ellipse cx="250" cy="118" rx="23.19" ry="40.58" fill="url(#g104)"/><ellipse cx="195" cy="120" rx="20.29" ry="40.58" fill="url(#g104)"/><ellipse cx="270" cy="142" rx="14.49" ry="17.39" fill="url(#g105)"/><path d="M314.45 88.84A13 14 0 0 1 314.45 115.16" fill="none" stroke="#7d7d7d" stroke-width="2.4" vector-effect="non-scaling-stroke" stroke-linecap="round" stroke-opacity="0.5"/><ellipse cx="126.5" cy="139.5" rx="14" ry="9.5" fill="none" stroke="#787878" stroke-width="2.4" stroke-opacity="0.55"/><path d="M124.09 145.11A8.5 6.5 0 0 1 129.91 132.89" fill="none" stroke="#a8a8a8" stroke-width="2" vector-effect="non-scaling-stroke" stroke-linecap="round"/><ellipse cx="128" cy="140" rx="14.49" ry="11.59" fill="url(#g58)"/><path d="M256.66 76.14A15 14.5 0 0 1 256.66 49.86" fill="none" stroke="#9e9e9e" stroke-width="3.4" vector-effect="non-scaling-stroke" stroke-linecap="round"/><path d="M252.39 73.25A15 14.5 0 0 1 252.96 52.22" fill="none" stroke="#bababa" stroke-width="2.3" vector-effect="non-scaling-stroke" stroke-linecap="round"/><path d="M262.58 75.22A10 13 0 0 1 262.58 50.78" fill="none" stroke="#7d7d7d" stroke-width="2" vector-effect="non-scaling-stroke" stroke-linecap="round" stroke-opacity="0.6"/><path d="M297.4 58.16A17 13.5 0 0 1 297.4 84.24" fill="none" stroke="#5e5e5e" stroke-width="3.6" vector-effect="non-scaling-stroke" stroke-linecap="butt"/><path d="M307.72 77.95A17 13.5 0 0 1 295.95 84.49" fill="none" stroke="#454545" stroke-width="3" vector-effect="non-scaling-stroke" stroke-linecap="butt"/><path d="M283.68 82.67A18 14 0 0 1 278.41 64.2" fill="none" stroke="#b2b2b2" stroke-width="1.2" vector-effect="non-scaling-stroke" stroke-linecap="round"/><path d="M285.11 81.85A15.5 13 0 0 1 279.43 66.75" fill="none" stroke="#6b6b6b" stroke-width="1" vector-effect="non-scaling-stroke" stroke-linecap="round"/><path d="M294.58 85.99A16.5 14 0 0 1 280.32 79.83" fill="none" stroke="#e3e3e3" stroke-width="2.6" vector-effect="non-scaling-stroke" stroke-linecap="round"/><ellipse cx="285" cy="81" rx="8.13" ry="5.69" fill="url(#g106)"/><path d="M286.25 56.88A15.5 10.6 0 0 1 289.99 37.46" fill="none" stroke="#f7f7f7" stroke-width="1.1" vector-effect="non-scaling-stroke" stroke-linecap="round"/><path d="M299.3 37.74A15.5 10.6 0 0 1 305.87 54.51" fill="none" stroke="#a3a3a3" stroke-width="0.9" vector-effect="non-scaling-stroke" stroke-linecap="round"/><path d="M301.75 56.88A15.5 10.6 0 0 1 281.3 53.78" fill="none" stroke="#333333" stroke-width="1.6" vector-effect="non-scaling-stroke" stroke-linecap="round"/><ellipse cx="292" cy="37.6" rx="13.21" ry="3.66" fill="url(#g107)"/><ellipse cx="286" cy="38.3" rx="4.47" ry="2.64" fill="url(#g106)"/><ellipse cx="301" cy="57.5" rx="6.5" ry="4.07" fill="url(#g108)"/><ellipse cx="296" cy="56.5" rx="10.16" ry="5.08" fill="url(#g109)"/></g>
</svg>
<path class="g" d="M297.5 300.2V498.4M321.5 300.2V498.4M346.5 300.2V498.4M370.5 300.2V498.4M395.5 300.2V498.4M273 322.5H420.5M273 344.5H420.5M273 366.5H420.5M273 388.5H420.5M273 410.5H420.5M273 432.5H420.5M273 453.5H420.5M273 475.5H420.5"/>
<rect class="g" x="273" y="300.2" width="147.5" height="198.2" style="stroke-width:0.9"/>
<g filter="url(#soft)">
<text x="270.4" y="509.9" class="k" textLength="6" lengthAdjust="spacingAndGlyphs">0</text>
<text x="291.42" y="509.9" class="k" textLength="12.7" lengthAdjust="spacingAndGlyphs">60</text>
<text x="312.48" y="509.9" class="k" textLength="19.3" lengthAdjust="spacingAndGlyphs">120</text>
<text x="336.85" y="509.9" class="k" textLength="19.3" lengthAdjust="spacingAndGlyphs">180</text>
<text x="361.22" y="509.9" class="k" textLength="19.3" lengthAdjust="spacingAndGlyphs">240</text>
<text x="385.58" y="509.9" class="k" textLength="19.3" lengthAdjust="spacingAndGlyphs">300</text>
<text x="409.95" y="509.9" class="k" textLength="19.3" lengthAdjust="spacingAndGlyphs">360</text>
<clipPath id="ctb2"><rect x="233" y="299.1" width="40" height="218.2"/></clipPath><g clip-path="url(#ctb2)">
<text x="264.8" y="305.2" class="k" textLength="6" lengthAdjust="spacingAndGlyphs">0</text>
<text x="258.1" y="327.02" class="k" textLength="12.7" lengthAdjust="spacingAndGlyphs">20</text>
<text x="258.1" y="348.84" class="k" textLength="12.7" lengthAdjust="spacingAndGlyphs">40</text>
<text x="258.1" y="370.67" class="k" textLength="12.7" lengthAdjust="spacingAndGlyphs">60</text>
<text x="258.1" y="392.49" class="k" textLength="12.7" lengthAdjust="spacingAndGlyphs">80</text>
<text x="251.5" y="414.31" class="k" textLength="19.3" lengthAdjust="spacingAndGlyphs">100</text>
<text x="251.5" y="436.13" class="k" textLength="19.3" lengthAdjust="spacingAndGlyphs">120</text>
<text x="251.5" y="457.96" class="k" textLength="19.3" lengthAdjust="spacingAndGlyphs">140</text>
<text x="251.5" y="479.78" class="k" textLength="19.3" lengthAdjust="spacingAndGlyphs">160</text>
<text x="251.5" y="501.6" class="k" textLength="19.3" lengthAdjust="spacingAndGlyphs">180</text>
</g></g>
<rect x="428.4" y="300.2" width="11" height="198.2" fill="url(#cb)"/>
<rect x="428.4" y="300.2" width="11" height="198.2" fill="none" stroke="#222" stroke-width="0.5" stroke-opacity="0.55"/>
<g filter="url(#soft)">
<clipPath id="clb2"><rect x="439.4" y="294.2" width="14.3" height="212.2"/></clipPath>
<text x="440.8" y="502.6" class="k" textLength="6" lengthAdjust="spacingAndGlyphs" clip-path="url(#clb2)">0</text>
<text x="440.8" y="462.96" class="k" textLength="15.2" lengthAdjust="spacingAndGlyphs" clip-path="url(#clb2)">0.2</text>
<text x="440.8" y="423.32" class="k" textLength="15.2" lengthAdjust="spacingAndGlyphs" clip-path="url(#clb2)">0.4</text>
<text x="440.8" y="383.68" class="k" textLength="15.2" lengthAdjust="spacingAndGlyphs" clip-path="url(#clb2)">0.6</text>
<text x="440.8" y="344.04" class="k" textLength="15.2" lengthAdjust="spacingAndGlyphs" clip-path="url(#clb2)">0.8</text>
<text x="440.8" y="304.4" class="k" textLength="6" lengthAdjust="spacingAndGlyphs" clip-path="url(#clb2)">1</text>
</g>
<path class="g" d="M439.4 498.4h-2.4M428.4 498.4h2.4M439.4 458.76h-2.4M428.4 458.76h2.4M439.4 419.12h-2.4M428.4 419.12h2.4M439.4 379.48h-2.4M428.4 379.48h2.4M439.4 339.84h-2.4M428.4 339.84h2.4M439.4 300.2h-2.4M428.4 300.2h2.4" style="stroke-width:0.5;stroke:#444"/>
<text class="s" font-size="15" y="288.4"><tspan x="293.4">S</tspan><tspan x="300.3">V</tspan><tspan x="309.7" dy="2.8" font-size="12">r</tspan><tspan x="315.3" dy="-2.8">(Φ,</tspan><tspan x="338.6">Λ),</tspan><tspan x="360.3">Σ</tspan><tspan x="374" textLength="9.4" lengthAdjust="spacingAndGlyphs">=</tspan><tspan x="388.9">0.1</tspan></text>
<text class="l" style="font-size:13.92px" transform="translate(243.1 411.6) rotate(-90)" x="-72.8" y="0" textLength="145.6" lengthAdjust="spacingAndGlyphs">Spherical colatitude [°]</text>
<text x="270.2" y="532.2" class="l" textLength="136.4" lengthAdjust="spacingAndGlyphs">Spherical longitude [°]</text>
</g>
<g id="b3">
<svg x="502.1" y="300.2" width="147.6" height="198.2" viewBox="0 0 360 180" preserveAspectRatio="none">
<g filter="url(#jet)"><rect x="-5" y="-5" width="370" height="190" fill="#6f6f6f"/><rect x="0" y="0" width="360" height="180" fill="url(#b3bg)"/><ellipse cx="108" cy="38" rx="26.08" ry="28.98" fill="url(#g110)"/><ellipse cx="122" cy="47" rx="14.49" ry="17.39" fill="url(#g111)"/><ellipse cx="112" cy="62" rx="14.49" ry="23.19" fill="url(#g74)"/><ellipse cx="78" cy="90" rx="26.08" ry="34.78" fill="url(#g110)"/><ellipse cx="80" cy="110" rx="20.29" ry="26.08" fill="url(#g111)"/><ellipse cx="224" cy="76" rx="17.39" ry="23.19" fill="url(#g8)"/><ellipse cx="292" cy="110" rx="17.39" ry="40.58" fill="url(#g101)"/><ellipse cx="312" cy="105" rx="28.98" ry="40.58" fill="url(#g110)"/><ellipse cx="30" cy="171" rx="63.76" ry="14.49" fill="url(#g112)"/><ellipse cx="200" cy="128" rx="34.78" ry="28.98" fill="url(#g75)"/><ellipse cx="100" cy="152" rx="34.78" ry="14.49" fill="url(#g77)"/><ellipse cx="260" cy="150" rx="86.95" ry="17.39" fill="url(#g113)"/><ellipse cx="129" cy="138" rx="18.73" ry="12.77" fill="url(#g114)"/><path d="M130.52 147.66A14.5 9.3 0 0 1 125.48 129.34" fill="none" stroke="#5e5e5e" stroke-width="1.5" vector-effect="non-scaling-stroke" stroke-linecap="round"/><path d="M125.48 129.34A14.5 9.3 0 0 1 130.52 147.66" fill="none" stroke="#969696" stroke-width="1.3" vector-effect="non-scaling-stroke" stroke-linecap="round"/><ellipse cx="299.5" cy="42.3" rx="21.53" ry="13.05" fill="url(#g115)"/><path d="M310.56 34.33A17.2 10.4 0 0 1 310.56 50.27" fill="none" stroke="#a1a1a1" stroke-width="1" vector-effect="non-scaling-stroke" stroke-linecap="round"/><path d="M292.32 33.06A17 10.2 0 0 1 314.22 37.2" fill="none" stroke="#b2b2b2" stroke-width="1" vector-effect="non-scaling-stroke" stroke-linecap="butt"/><path d="M291 32.6L311 33.4L316 37.5" fill="none" stroke="#050505" stroke-width="1.1" stroke-dasharray="1.2 2.2" vector-effect="non-scaling-stroke"/><ellipse cx="264.3" cy="61.5" rx="20.67" ry="20.25" fill="url(#g116)"/><path d="M249.64 66.5A15.6 15.2 0 0 1 270.89 47.52" fill="none" stroke="#4c4c4c" stroke-width="1.6" vector-effect="non-scaling-stroke" stroke-linecap="round"/><path d="M258.96 75.58A15.6 15.2 0 0 1 249.64 66.5" fill="none" stroke="#6b6b6b" stroke-width="1.2" vector-effect="non-scaling-stroke" stroke-linecap="round"/><path d="M274.5 48L281 61" fill="none" stroke="#303030" stroke-width="2.4" stroke-linecap="round" vector-effect="non-scaling-stroke"/><path d="M297.7 83.58A17.3 14.8 0 0 1 283.58 57.66" fill="none" stroke="#333333" stroke-width="1.3" vector-effect="non-scaling-stroke" stroke-linecap="round"/><path d="M279.98 61.75A17 14.5 0 0 1 300.51 55.37" fill="none" stroke="#141414" stroke-width="2.4" vector-effect="non-scaling-stroke" stroke-linecap="round"/><path d="M304.62 56.88A17.3 14.8 0 0 1 303.35 81.82" fill="none" stroke="#ababab" stroke-width="1.5" vector-effect="non-scaling-stroke" stroke-linecap="round"/><path d="M301.79 54.03A18.4 15.4 0 0 1 313.27 64.51" fill="none" stroke="#383838" stroke-width="1" vector-effect="non-scaling-stroke" stroke-linecap="round"/><ellipse cx="296" cy="83" rx="17.39" ry="7.25" fill="url(#g117)"/></g>
</svg>
<path class="g" d="M526.5 300.2V498.4M551.5 300.2V498.4M575.5 300.2V498.4M599.5 300.2V498.4M624.5 300.2V498.4M502.1 322.5H649.7M502.1 344.5H649.7M502.1 366.5H649.7M502.1 388.5H649.7M502.1 410.5H649.7M502.1 432.5H649.7M502.1 453.5H649.7M502.1 475.5H649.7"/>
<rect class="g" x="502.1" y="300.2" width="147.6" height="198.2" style="stroke-width:0.9"/>
<g filter="url(#soft)">
<text x="499.6" y="509.9" class="k" textLength="6" lengthAdjust="spacingAndGlyphs">0</text>
<text x="520.63" y="509.9" class="k" textLength="12.7" lengthAdjust="spacingAndGlyphs">60</text>
<text x="541.72" y="509.9" class="k" textLength="19.3" lengthAdjust="spacingAndGlyphs">120</text>
<text x="566.1" y="509.9" class="k" textLength="19.3" lengthAdjust="spacingAndGlyphs">180</text>
<text x="590.48" y="509.9" class="k" textLength="19.3" lengthAdjust="spacingAndGlyphs">240</text>
<text x="614.87" y="509.9" class="k" textLength="19.3" lengthAdjust="spacingAndGlyphs">300</text>
<text x="639.25" y="509.9" class="k" textLength="19.3" lengthAdjust="spacingAndGlyphs">360</text>
<clipPath id="ctb3"><rect x="462.1" y="299.1" width="40" height="218.2"/></clipPath><g clip-path="url(#ctb3)">
<text x="493.9" y="305.2" class="k" textLength="6" lengthAdjust="spacingAndGlyphs">0</text>
<text x="487.2" y="327.02" class="k" textLength="12.7" lengthAdjust="spacingAndGlyphs">20</text>
<text x="487.2" y="348.84" class="k" textLength="12.7" lengthAdjust="spacingAndGlyphs">40</text>
<text x="487.2" y="370.67" class="k" textLength="12.7" lengthAdjust="spacingAndGlyphs">60</text>
<text x="487.2" y="392.49" class="k" textLength="12.7" lengthAdjust="spacingAndGlyphs">80</text>
<text x="480.6" y="414.31" class="k" textLength="19.3" lengthAdjust="spacingAndGlyphs">100</text>
<text x="480.6" y="436.13" class="k" textLength="19.3" lengthAdjust="spacingAndGlyphs">120</text>
<text x="480.6" y="457.96" class="k" textLength="19.3" lengthAdjust="spacingAndGlyphs">140</text>
<text x="480.6" y="479.78" class="k" textLength="19.3" lengthAdjust="spacingAndGlyphs">160</text>
<text x="480.6" y="501.6" class="k" textLength="19.3" lengthAdjust="spacingAndGlyphs">180</text>
</g></g>
<rect x="657.5" y="300.2" width="10.3" height="198.2" fill="url(#cb)"/>
<rect x="657.5" y="300.2" width="10.3" height="198.2" fill="none" stroke="#222" stroke-width="0.5" stroke-opacity="0.55"/>
<g filter="url(#soft)">
<text x="669.2" y="502.6" class="k" textLength="6" lengthAdjust="spacingAndGlyphs">0</text>
<text x="669.2" y="462.96" class="k" textLength="15.2" lengthAdjust="spacingAndGlyphs">0.2</text>
<text x="669.2" y="423.32" class="k" textLength="15.2" lengthAdjust="spacingAndGlyphs">0.4</text>
<text x="669.2" y="383.68" class="k" textLength="15.2" lengthAdjust="spacingAndGlyphs">0.6</text>
<text x="669.2" y="344.04" class="k" textLength="15.2" lengthAdjust="spacingAndGlyphs">0.8</text>
<text x="669.2" y="304.4" class="k" textLength="6" lengthAdjust="spacingAndGlyphs">1</text>
</g>
<path class="g" d="M667.8 498.4h-2.4M657.5 498.4h2.4M667.8 458.76h-2.4M657.5 458.76h2.4M667.8 419.12h-2.4M657.5 419.12h2.4M667.8 379.48h-2.4M657.5 379.48h2.4M667.8 339.84h-2.4M657.5 339.84h2.4M667.8 300.2h-2.4M657.5 300.2h2.4" style="stroke-width:0.5;stroke:#444"/>
<text class="s" font-size="15" y="288.4"><tspan x="525.6">S</tspan><tspan x="532.5">V</tspan><tspan x="541.9" dy="2.8" font-size="12">r</tspan><tspan x="547.5" dy="-2.8">(Φ,</tspan><tspan x="570.8">Λ),</tspan><tspan x="592.5">Σ</tspan><tspan x="606.2" textLength="9.4" lengthAdjust="spacingAndGlyphs">=</tspan><tspan x="621.1">0.2</tspan></text>
<text class="l" style="font-size:13.91px" transform="translate(472.7 410.1) rotate(-90)" x="-72.75" y="0" textLength="145.5" lengthAdjust="spacingAndGlyphs">Spherical colatitude [°]</text>
<text x="496.1" y="532.3" class="l" textLength="137.5" lengthAdjust="spacingAndGlyphs">Spherical longitude [°]</text>
</g>
<g id="c1">
<svg x="45.8" y="575.2" width="146" height="197.8" viewBox="0 0 360 180" preserveAspectRatio="none">
<g filter="url(#jet)"><rect x="-5" y="-5" width="370" height="190" fill="#080808"/><rect x="0" y="0" width="360" height="180" fill="url(#c1bg)"/><ellipse cx="24.3" cy="6.3" rx="9.27" ry="8.55" fill="url(#g118)"/><ellipse cx="291.4" cy="3.2" rx="9.27" ry="8.55" fill="url(#g118)"/><ellipse cx="113.8" cy="14.4" rx="9.27" ry="8.55" fill="url(#g118)"/><ellipse cx="124" cy="20.4" rx="9.27" ry="8.55" fill="url(#g118)"/><ellipse cx="283.6" cy="28.3" rx="9.27" ry="8.55" fill="url(#g118)"/><ellipse cx="179.6" cy="34.6" rx="9.27" ry="8.55" fill="url(#g118)"/><ellipse cx="224.3" cy="44.6" rx="9.27" ry="8.55" fill="url(#g118)"/><ellipse cx="8" cy="48.9" rx="9.27" ry="8.55" fill="url(#g118)"/><ellipse cx="186.3" cy="50.7" rx="9.27" ry="8.55" fill="url(#g118)"/><ellipse cx="243.7" cy="54.3" rx="9.27" ry="8.55" fill="url(#g118)"/><ellipse cx="74.5" cy="66.4" rx="9.27" ry="8.55" fill="url(#g118)"/><ellipse cx="98" cy="68.6" rx="9.27" ry="8.55" fill="url(#g118)"/><ellipse cx="302.3" cy="69" rx="9.27" ry="8.55" fill="url(#g118)"/><ellipse cx="310.7" cy="69" rx="9.27" ry="8.55" fill="url(#g118)"/><ellipse cx="90.2" cy="96.8" rx="9.27" ry="8.55" fill="url(#g118)"/><ellipse cx="113.8" cy="104.9" rx="9.27" ry="8.55" fill="url(#g118)"/><ellipse cx="222" cy="110.7" rx="9.27" ry="8.55" fill="url(#g118)"/><ellipse cx="291.4" cy="119.2" rx="9.27" ry="8.55" fill="url(#g118)"/><ellipse cx="263" cy="127.3" rx="9.27" ry="8.55" fill="url(#g118)"/><ellipse cx="118" cy="137.4" rx="9.27" ry="8.55" fill="url(#g118)"/><ellipse cx="291.4" cy="147" rx="9.27" ry="8.55" fill="url(#g118)"/><ellipse cx="116.2" cy="159.3" rx="9.27" ry="8.55" fill="url(#g118)"/><ellipse cx="267.9" cy="165.4" rx="9.27" ry="8.55" fill="url(#g118)"/><ellipse cx="215.9" cy="175.4" rx="9.27" ry="8.55" fill="url(#g118)"/><ellipse cx="321.6" cy="175.4" rx="9.27" ry="8.55" fill="url(#g118)"/></g>
</svg>
<path class="g" d="M70.5 575.2V773M94.5 575.2V773M119.5 575.2V773M143.5 575.2V773M167.5 575.2V773M45.8 597.5H191.8M45.8 619.5H191.8M45.8 641.5H191.8M45.8 663.5H191.8M45.8 684.5H191.8M45.8 706.5H191.8M45.8 728.5H191.8M45.8 750.5H191.8" stroke-opacity="0.65"/>
<rect class="g" x="45.8" y="575.2" width="146" height="197.8" style="stroke-width:0.9"/>
<g filter="url(#soft)">
<text x="43.9" y="784.5" class="k" textLength="6" lengthAdjust="spacingAndGlyphs">0</text>
<text x="64.67" y="784.5" class="k" textLength="12.7" lengthAdjust="spacingAndGlyphs">60</text>
<text x="85.48" y="784.5" class="k" textLength="19.3" lengthAdjust="spacingAndGlyphs">120</text>
<text x="109.6" y="784.5" class="k" textLength="19.3" lengthAdjust="spacingAndGlyphs">180</text>
<text x="133.72" y="784.5" class="k" textLength="19.3" lengthAdjust="spacingAndGlyphs">240</text>
<text x="157.83" y="784.5" class="k" textLength="19.3" lengthAdjust="spacingAndGlyphs">300</text>
<text x="181.95" y="784.5" class="k" textLength="19.3" lengthAdjust="spacingAndGlyphs">360</text>
<clipPath id="ctc1"><rect x="5.8" y="574.1" width="40" height="217.8"/></clipPath><g clip-path="url(#ctc1)">
<text x="37.6" y="580.2" class="k" textLength="6" lengthAdjust="spacingAndGlyphs">0</text>
<text x="30.9" y="601.98" class="k" textLength="12.7" lengthAdjust="spacingAndGlyphs">20</text>
<text x="30.9" y="623.76" class="k" textLength="12.7" lengthAdjust="spacingAndGlyphs">40</text>
<text x="30.9" y="645.53" class="k" textLength="12.7" lengthAdjust="spacingAndGlyphs">60</text>
<text x="30.9" y="667.31" class="k" textLength="12.7" lengthAdjust="spacingAndGlyphs">80</text>
<text x="24.3" y="689.09" class="k" textLength="19.3" lengthAdjust="spacingAndGlyphs">100</text>
<text x="24.3" y="710.87" class="k" textLength="19.3" lengthAdjust="spacingAndGlyphs">120</text>
<text x="24.3" y="732.64" class="k" textLength="19.3" lengthAdjust="spacingAndGlyphs">140</text>
<text x="24.3" y="754.42" class="k" textLength="19.3" lengthAdjust="spacingAndGlyphs">160</text>
<text x="24.3" y="776.2" class="k" textLength="19.3" lengthAdjust="spacingAndGlyphs">180</text>
</g></g>
<rect x="199.2" y="575.2" width="10.8" height="197.8" fill="url(#cb)"/>
<rect x="199.2" y="575.2" width="10.8" height="197.8" fill="none" stroke="#222" stroke-width="0.5" stroke-opacity="0.55"/>
<g filter="url(#soft)">
<text x="211.4" y="777.2" class="k" textLength="6" lengthAdjust="spacingAndGlyphs">0</text>
<text x="211.4" y="737.64" class="k" textLength="15.2" lengthAdjust="spacingAndGlyphs">0.2</text>
<text x="211.4" y="698.08" class="k" textLength="15.2" lengthAdjust="spacingAndGlyphs">0.4</text>
<text x="211.4" y="658.52" class="k" textLength="15.2" lengthAdjust="spacingAndGlyphs">0.6</text>
<text x="211.4" y="618.96" class="k" textLength="15.2" lengthAdjust="spacingAndGlyphs">0.8</text>
<text x="211.4" y="579.4" class="k" textLength="6" lengthAdjust="spacingAndGlyphs">1</text>
</g>
<path class="g" d="M210 773h-2.4M199.2 773h2.4M210 733.44h-2.4M199.2 733.44h2.4M210 693.88h-2.4M199.2 693.88h2.4M210 654.32h-2.4M199.2 654.32h2.4M210 614.76h-2.4M199.2 614.76h2.4M210 575.2h-2.4M199.2 575.2h2.4" style="stroke-width:0.5;stroke:#444"/>
<text class="s" font-size="15" y="564.4"><tspan x="66.9">P</tspan><tspan x="75.6" dy="2.8" font-size="12">loc</tspan><tspan x="91.8" dy="-2.8">(Φ,</tspan><tspan x="116.3">Λ),</tspan><tspan x="139.8">Σ</tspan><tspan x="154.1" textLength="9.4" lengthAdjust="spacingAndGlyphs">=</tspan><tspan x="168.4">0</tspan></text><path d="M89.4 553.2Q96.2 550.2 103 549.8Q109.8 550.2 116.6 553.2" fill="none" stroke="#222" stroke-width="0.7"/>
<text class="l" style="font-size:13.39px" transform="translate(16.6 692.9) rotate(-90)" x="-70.05" y="0" textLength="140.1" lengthAdjust="spacingAndGlyphs">Spherical colatitude [°]</text>
<text x="49" y="805.4" class="l" textLength="136.7" lengthAdjust="spacingAndGlyphs">Spherical longitude [°]</text>
<text x="6.8" y="566.6" font-size="21.5" font-weight="bold" fill="#111" textLength="16.6" lengthAdjust="spacingAndGlyphs">c)</text>
</g>
<g id="c2">
<svg x="273" y="575.2" width="145.8" height="197.9" viewBox="0 0 360 180" preserveAspectRatio="none">
<g filter="url(#jet)"><rect x="-5" y="-5" width="370" height="190" fill="#131313"/><rect x="0" y="0" width="360" height="180" fill="url(#c2bg)"/><ellipse cx="157" cy="7.7" rx="7.25" ry="8.69" fill="url(#g119)"/><ellipse cx="187.5" cy="115.6" rx="7.25" ry="8.69" fill="url(#g49)"/><ellipse cx="322" cy="171" rx="7.25" ry="8.69" fill="url(#g120)"/><ellipse cx="30" cy="30" rx="26.08" ry="17.39" fill="url(#g121)"/><ellipse cx="250" cy="85" rx="26.08" ry="17.39" fill="url(#g121)"/><ellipse cx="60" cy="130" rx="26.08" ry="17.39" fill="url(#g121)"/><ellipse cx="330" cy="40" rx="26.08" ry="17.39" fill="url(#g121)"/><ellipse cx="150" cy="170" rx="26.08" ry="17.39" fill="url(#g122)"/><ellipse cx="340" cy="120" rx="26.08" ry="17.39" fill="url(#g121)"/><ellipse cx="40" cy="160" rx="26.08" ry="17.39" fill="url(#g121)"/><ellipse cx="210" cy="150" rx="26.08" ry="17.39" fill="url(#g121)"/><ellipse cx="288" cy="66" rx="26.08" ry="17.39" fill="url(#g123)"/><ellipse cx="123.6" cy="17.9" rx="10.43" ry="9.18" fill="url(#g124)"/><ellipse cx="126.1" cy="20.9" rx="10.43" ry="8.67" fill="url(#g124)"/><ellipse cx="285.6" cy="24.7" rx="10.14" ry="9.18" fill="url(#g125)"/><ellipse cx="178.4" cy="32.7" rx="9.56" ry="10.2" fill="url(#g126)"/><ellipse cx="181.6" cy="40.4" rx="7.25" ry="10.2" fill="url(#g76)"/><ellipse cx="187.6" cy="50" rx="10.14" ry="10.2" fill="url(#g124)"/><ellipse cx="222.4" cy="41.7" rx="10.14" ry="10.2" fill="url(#g127)"/><ellipse cx="243.6" cy="46.9" rx="9.56" ry="9.69" fill="url(#g128)"/><ellipse cx="245.1" cy="54.4" rx="9.56" ry="10.2" fill="url(#g124)"/><ellipse cx="8.7" cy="46.6" rx="10.14" ry="10.2" fill="url(#g129)"/><ellipse cx="75.6" cy="65.6" rx="10.43" ry="10.2" fill="url(#g128)"/><ellipse cx="98.4" cy="69" rx="10.14" ry="9.69" fill="url(#g125)"/><ellipse cx="309.1" cy="67.2" rx="9.85" ry="9.69" fill="url(#g125)"/><ellipse cx="86.6" cy="91.4" rx="8.69" ry="9.18" fill="url(#g101)"/><ellipse cx="89.6" cy="96.9" rx="8.69" ry="9.18" fill="url(#g130)"/><ellipse cx="92.6" cy="101.9" rx="9.27" ry="9.69" fill="url(#g129)"/><ellipse cx="113.4" cy="106.6" rx="9.85" ry="9.18" fill="url(#g125)"/><ellipse cx="222.4" cy="105.4" rx="8.12" ry="9.18" fill="url(#g58)"/><ellipse cx="222.4" cy="112.4" rx="9.56" ry="9.69" fill="url(#g129)"/><ellipse cx="291" cy="119.8" rx="10.14" ry="9.69" fill="url(#g129)"/><ellipse cx="265.6" cy="128.8" rx="10.14" ry="9.69" fill="url(#g128)"/><ellipse cx="179" cy="135.1" rx="8.69" ry="9.18" fill="url(#g130)"/><ellipse cx="119.6" cy="137.9" rx="9.56" ry="9.69" fill="url(#g128)"/><ellipse cx="115.6" cy="142.9" rx="8.69" ry="8.93" fill="url(#g131)"/><ellipse cx="111.6" cy="148.4" rx="9.27" ry="9.69" fill="url(#g130)"/><ellipse cx="292.2" cy="146.3" rx="9.85" ry="9.69" fill="url(#g126)"/><ellipse cx="114.6" cy="164.2" rx="9.56" ry="10.2" fill="url(#g125)"/><ellipse cx="283.6" cy="167.5" rx="10.43" ry="12.75" fill="url(#g124)"/></g>
</svg>
<path class="g" d="M297.5 575.2V773.1M322.5 575.2V773.1M346.5 575.2V773.1M370.5 575.2V773.1M394.5 575.2V773.1M273 597.5H418.8M273 619.5H418.8M273 641.5H418.8M273 663.5H418.8M273 685.5H418.8M273 706.5H418.8M273 728.5H418.8M273 750.5H418.8" stroke-opacity="0.6"/>
<rect class="g" x="273" y="575.2" width="145.8" height="197.9" style="stroke-width:0.9"/>
<g filter="url(#soft)">
<text x="271.1" y="784.6" class="k" textLength="6" lengthAdjust="spacingAndGlyphs">0</text>
<text x="291.83" y="784.6" class="k" textLength="12.7" lengthAdjust="spacingAndGlyphs">60</text>
<text x="312.62" y="784.6" class="k" textLength="19.3" lengthAdjust="spacingAndGlyphs">120</text>
<text x="336.7" y="784.6" class="k" textLength="19.3" lengthAdjust="spacingAndGlyphs">180</text>
<text x="360.78" y="784.6" class="k" textLength="19.3" lengthAdjust="spacingAndGlyphs">240</text>
<text x="384.87" y="784.6" class="k" textLength="19.3" lengthAdjust="spacingAndGlyphs">300</text>
<text x="408.95" y="784.6" class="k" textLength="19.3" lengthAdjust="spacingAndGlyphs">360</text>
<clipPath id="ctc2"><rect x="233" y="574.1" width="40" height="217.9"/></clipPath><g clip-path="url(#ctc2)">
<text x="264.8" y="580.2" class="k" textLength="6" lengthAdjust="spacingAndGlyphs">0</text>
<text x="258.1" y="601.99" class="k" textLength="12.7" lengthAdjust="spacingAndGlyphs">20</text>
<text x="258.1" y="623.78" class="k" textLength="12.7" lengthAdjust="spacingAndGlyphs">40</text>
<text x="258.1" y="645.57" class="k" textLength="12.7" lengthAdjust="spacingAndGlyphs">60</text>
<text x="258.1" y="667.36" class="k" textLength="12.7" lengthAdjust="spacingAndGlyphs">80</text>
<text x="251.5" y="689.14" class="k" textLength="19.3" lengthAdjust="spacingAndGlyphs">100</text>
<text x="251.5" y="710.93" class="k" textLength="19.3" lengthAdjust="spacingAndGlyphs">120</text>
<text x="251.5" y="732.72" class="k" textLength="19.3" lengthAdjust="spacingAndGlyphs">140</text>
<text x="251.5" y="754.51" class="k" textLength="19.3" lengthAdjust="spacingAndGlyphs">160</text>
<text x="251.5" y="776.3" class="k" textLength="19.3" lengthAdjust="spacingAndGlyphs">180</text>
</g></g>
<rect x="427.1" y="575.2" width="10.8" height="197.9" fill="rgb(0,0,128)"/>
<rect x="427.1" y="575.2" width="10.8" height="192.88" fill="url(#cb)"/>
<rect x="427.1" y="575.2" width="10.8" height="197.9" fill="none" stroke="#222" stroke-width="0.5" stroke-opacity="0.55"/>
<g filter="url(#soft)">
<text x="439.3" y="772.28" class="k" textLength="6" lengthAdjust="spacingAndGlyphs">0</text>
<text x="439.3" y="733.71" class="k" textLength="15.2" lengthAdjust="spacingAndGlyphs">0.2</text>
<text x="439.3" y="695.13" class="k" textLength="15.2" lengthAdjust="spacingAndGlyphs">0.4</text>
<text x="439.3" y="656.55" class="k" textLength="15.2" lengthAdjust="spacingAndGlyphs">0.6</text>
<text x="439.3" y="617.98" class="k" textLength="15.2" lengthAdjust="spacingAndGlyphs">0.8</text>
<text x="439.3" y="579.4" class="k" textLength="6" lengthAdjust="spacingAndGlyphs">1</text>
</g>
<path class="g" d="M437.9 768.08h-2.4M427.1 768.08h2.4M437.9 729.51h-2.4M427.1 729.51h2.4M437.9 690.93h-2.4M427.1 690.93h2.4M437.9 652.35h-2.4M427.1 652.35h2.4M437.9 613.78h-2.4M427.1 613.78h2.4M437.9 575.2h-2.4M427.1 575.2h2.4" style="stroke-width:0.5;stroke:#444"/>
<text class="s" font-size="15" y="564.4"><tspan x="284.2">P</tspan><tspan x="292.9" dy="2.8" font-size="12">loc</tspan><tspan x="309.1" dy="-2.8">(Φ,</tspan><tspan x="333.6">Λ),</tspan><tspan x="357.1">Σ</tspan><tspan x="371.4" textLength="9.4" lengthAdjust="spacingAndGlyphs">=</tspan><tspan x="385.7">0.1</tspan></text><path d="M306.7 553.2Q313.5 550.2 320.3 549.8Q327.1 550.2 333.9 553.2" fill="none" stroke="#222" stroke-width="0.7"/>
<text class="l" style="font-size:13.37px" transform="translate(244.5 690) rotate(-90)" x="-69.95" y="0" textLength="139.9" lengthAdjust="spacingAndGlyphs">Spherical colatitude [°]</text>
<text x="276.9" y="805.4" class="l" textLength="137" lengthAdjust="spacingAndGlyphs">Spherical longitude [°]</text>
</g>
<g id="c3">
<svg x="500.8" y="575.2" width="146.1" height="197.7" viewBox="0 0 360 180" preserveAspectRatio="none">
<g filter="url(#jet)"><rect x="-5" y="-5" width="370" height="190" fill="#0b0b0b"/><rect x="0" y="0" width="360" height="180" fill="url(#c3bg)"/><ellipse cx="3.6" cy="10.4" rx="10.43" ry="11.01" fill="url(#g73)"/><ellipse cx="15.7" cy="8" rx="8.69" ry="11.59" fill="url(#g49)"/><ellipse cx="127" cy="16.6" rx="10.43" ry="11.01" fill="url(#g127)"/><ellipse cx="127.5" cy="6" rx="8.69" ry="11.59" fill="url(#g49)"/><ellipse cx="121" cy="27.8" rx="10.43" ry="11.01" fill="url(#g131)"/><ellipse cx="70" cy="22.7" rx="8.69" ry="11.59" fill="url(#g132)"/><ellipse cx="284.6" cy="24.9" rx="10.43" ry="11.01" fill="url(#g125)"/><ellipse cx="184" cy="31.6" rx="10.43" ry="11.01" fill="url(#g129)"/><ellipse cx="210" cy="40.6" rx="10.43" ry="11.01" fill="url(#g133)"/><ellipse cx="12" cy="35" rx="10.43" ry="11.01" fill="url(#g130)"/><ellipse cx="244.8" cy="44" rx="10.43" ry="11.01" fill="url(#g125)"/><ellipse cx="249.6" cy="51.8" rx="10.43" ry="11.01" fill="url(#g14)"/><ellipse cx="246" cy="58.5" rx="10.43" ry="11.01" fill="url(#g127)"/><ellipse cx="185" cy="50.7" rx="12.17" ry="12.17" fill="url(#g129)"/><ellipse cx="6.6" cy="51.8" rx="10.43" ry="11.01" fill="url(#g130)"/><ellipse cx="71" cy="55.2" rx="10.43" ry="11.01" fill="url(#g133)"/><ellipse cx="320" cy="59.6" rx="10.43" ry="11.01" fill="url(#g130)"/><ellipse cx="10.9" cy="66.4" rx="10.43" ry="11.01" fill="url(#g101)"/><ellipse cx="14.5" cy="73" rx="10.43" ry="11.01" fill="url(#g131)"/><ellipse cx="25.3" cy="69" rx="10.43" ry="11.01" fill="url(#g131)"/><ellipse cx="76" cy="67.5" rx="12.17" ry="12.17" fill="url(#g129)"/><ellipse cx="101.3" cy="68.1" rx="10.43" ry="11.01" fill="url(#g126)"/><ellipse cx="285.8" cy="66.8" rx="10.43" ry="11.01" fill="url(#g130)"/><ellipse cx="307" cy="68.1" rx="10.43" ry="11.01" fill="url(#g131)"/><ellipse cx="321.4" cy="71.3" rx="10.43" ry="11.01" fill="url(#g130)"/><ellipse cx="89.8" cy="93.7" rx="10.43" ry="11.01" fill="url(#g125)"/><ellipse cx="98.9" cy="99.5" rx="10.43" ry="11.01" fill="url(#g134)"/><ellipse cx="89.2" cy="106.7" rx="10.43" ry="11.01" fill="url(#g130)"/><ellipse cx="120" cy="110" rx="10.43" ry="11.01" fill="url(#g130)"/><ellipse cx="25.9" cy="110.7" rx="10.43" ry="11.01" fill="url(#g131)"/><ellipse cx="12.7" cy="114.5" rx="10.43" ry="11.01" fill="url(#g58)"/><ellipse cx="222" cy="104.4" rx="10.43" ry="11.01" fill="url(#g126)"/><ellipse cx="225" cy="116.7" rx="10.43" ry="11.01" fill="url(#g129)"/><ellipse cx="291.9" cy="119.4" rx="10.43" ry="11.01" fill="url(#g129)"/><ellipse cx="267.7" cy="128.6" rx="12.17" ry="12.17" fill="url(#g135)"/><ellipse cx="114.6" cy="132.4" rx="10.43" ry="11.01" fill="url(#g125)"/><ellipse cx="123" cy="143" rx="10.43" ry="11.01" fill="url(#g101)"/><ellipse cx="142.3" cy="144.3" rx="10.43" ry="11.01" fill="url(#g133)"/><ellipse cx="298" cy="153.7" rx="10.43" ry="11.01" fill="url(#g126)"/><ellipse cx="311" cy="158.6" rx="10.43" ry="11.01" fill="url(#g76)"/><ellipse cx="326.8" cy="166" rx="10.43" ry="11.01" fill="url(#g127)"/><ellipse cx="17.5" cy="157.7" rx="12.17" ry="12.17" fill="url(#g118)"/><ellipse cx="122.4" cy="164.2" rx="10.43" ry="11.01" fill="url(#g131)"/><ellipse cx="161.6" cy="162.7" rx="10.43" ry="11.01" fill="url(#g130)"/><ellipse cx="25.3" cy="170.5" rx="10.43" ry="11.01" fill="url(#g136)"/><ellipse cx="135" cy="175" rx="8.69" ry="11.59" fill="url(#g63)"/><ellipse cx="70" cy="84" rx="8.69" ry="11.59" fill="url(#g120)"/><ellipse cx="12.7" cy="126.8" rx="8.69" ry="11.59" fill="url(#g137)"/><ellipse cx="85" cy="152.6" rx="8.69" ry="11.59" fill="url(#g120)"/><ellipse cx="12.7" cy="44" rx="8.69" ry="11.59" fill="url(#g63)"/><ellipse cx="8.4" cy="60.8" rx="8.69" ry="11.59" fill="url(#g112)"/><ellipse cx="70" cy="30" rx="8.69" ry="11.59" fill="url(#g49)"/><ellipse cx="12" cy="140" rx="8.69" ry="11.59" fill="url(#g120)"/><ellipse cx="30" cy="150" rx="8.69" ry="11.59" fill="url(#g138)"/><ellipse cx="60" cy="160" rx="8.69" ry="11.59" fill="url(#g123)"/><ellipse cx="133" cy="178" rx="8.69" ry="11.59" fill="url(#g137)"/></g>
</svg>
<path class="g" d="M525.5 575.2V772.9M549.5 575.2V772.9M573.5 575.2V772.9M597.5 575.2V772.9M621.5 575.2V772.9M500.8 597.5H646.9M500.8 619.5H646.9M500.8 640.5H646.9M500.8 662.5H646.9M500.8 684.5H646.9M500.8 706.5H646.9M500.8 727.5H646.9M500.8 749.5H646.9" stroke-opacity="0.35"/>
<rect class="g" x="500.8" y="575.2" width="146.1" height="197.7" style="stroke-width:0.9"/>
<g filter="url(#soft)">
<text x="498.2" y="784.4" class="k" textLength="6" lengthAdjust="spacingAndGlyphs">0</text>
<text x="518.98" y="784.4" class="k" textLength="12.7" lengthAdjust="spacingAndGlyphs">60</text>
<text x="539.82" y="784.4" class="k" textLength="19.3" lengthAdjust="spacingAndGlyphs">120</text>
<text x="563.95" y="784.4" class="k" textLength="19.3" lengthAdjust="spacingAndGlyphs">180</text>
<text x="588.08" y="784.4" class="k" textLength="19.3" lengthAdjust="spacingAndGlyphs">240</text>
<text x="612.22" y="784.4" class="k" textLength="19.3" lengthAdjust="spacingAndGlyphs">300</text>
<text x="636.35" y="784.4" class="k" textLength="19.3" lengthAdjust="spacingAndGlyphs">360</text>
<clipPath id="ctc3"><rect x="460.8" y="574.1" width="40" height="217.7"/></clipPath><g clip-path="url(#ctc3)">
<text x="492.6" y="579.6" class="k" textLength="6" lengthAdjust="spacingAndGlyphs">0</text>
<text x="485.9" y="601.37" class="k" textLength="12.7" lengthAdjust="spacingAndGlyphs">20</text>
<text x="485.9" y="623.13" class="k" textLength="12.7" lengthAdjust="spacingAndGlyphs">40</text>
<text x="485.9" y="644.9" class="k" textLength="12.7" lengthAdjust="spacingAndGlyphs">60</text>
<text x="485.9" y="666.67" class="k" textLength="12.7" lengthAdjust="spacingAndGlyphs">80</text>
<text x="479.3" y="688.43" class="k" textLength="19.3" lengthAdjust="spacingAndGlyphs">100</text>
<text x="479.3" y="710.2" class="k" textLength="19.3" lengthAdjust="spacingAndGlyphs">120</text>
<text x="479.3" y="731.97" class="k" textLength="19.3" lengthAdjust="spacingAndGlyphs">140</text>
<text x="479.3" y="753.73" class="k" textLength="19.3" lengthAdjust="spacingAndGlyphs">160</text>
<text x="479.3" y="775.5" class="k" textLength="19.3" lengthAdjust="spacingAndGlyphs">180</text>
</g></g>
<rect x="655" y="575.2" width="10.5" height="197.7" fill="rgb(0,0,128)"/>
<rect x="655" y="575.2" width="10.5" height="192.69" fill="url(#cb)"/>
<rect x="655" y="575.2" width="10.5" height="197.7" fill="none" stroke="#222" stroke-width="0.5" stroke-opacity="0.55"/>
<g filter="url(#soft)">
<text x="666.9" y="772.09" class="k" textLength="6" lengthAdjust="spacingAndGlyphs">0</text>
<text x="666.9" y="733.55" class="k" textLength="15.2" lengthAdjust="spacingAndGlyphs">0.2</text>
<text x="666.9" y="695.01" class="k" textLength="15.2" lengthAdjust="spacingAndGlyphs">0.4</text>
<text x="666.9" y="656.48" class="k" textLength="15.2" lengthAdjust="spacingAndGlyphs">0.6</text>
<text x="666.9" y="617.94" class="k" textLength="15.2" lengthAdjust="spacingAndGlyphs">0.8</text>
<text x="666.9" y="579.4" class="k" textLength="6" lengthAdjust="spacingAndGlyphs">1</text>
</g>
<path class="g" d="M665.5 767.89h-2.4M655 767.89h2.4M665.5 729.35h-2.4M655 729.35h2.4M665.5 690.81h-2.4M655 690.81h2.4M665.5 652.28h-2.4M655 652.28h2.4M665.5 613.74h-2.4M655 613.74h2.4M665.5 575.2h-2.4M655 575.2h2.4" style="stroke-width:0.5;stroke:#444"/>
<text class="s" font-size="15" y="564.4"><tspan x="510.6">P</tspan><tspan x="519.3" dy="2.8" font-size="12">loc</tspan><tspan x="535.5" dy="-2.8">(Φ,</tspan><tspan x="560">Λ),</tspan><tspan x="583.5">Σ</tspan><tspan x="597.8" textLength="9.4" lengthAdjust="spacingAndGlyphs">=</tspan><tspan x="612.1">0.2</tspan></text><path d="M533.1 553.2Q539.9 550.2 546.7 549.8Q553.5 550.2 560.3 553.2" fill="none" stroke="#222" stroke-width="0.7"/>
<text class="l" style="font-size:13.42px" transform="translate(473.1 689.2) rotate(-90)" x="-70.2" y="0" textLength="140.4" lengthAdjust="spacingAndGlyphs">Spherical colatitude [°]</text>
<text x="501.9" y="805.4" class="l" textLength="137" lengthAdjust="spacingAndGlyphs">Spherical longitude [°]</text>
</g>
</svg></body></html>
